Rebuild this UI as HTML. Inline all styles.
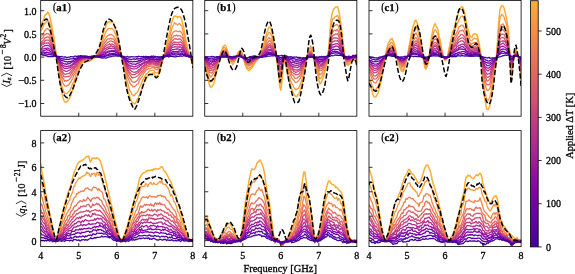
<!DOCTYPE html>
<html><head><meta charset="utf-8"><style>
html,body{margin:0;padding:0;background:#fff;width:575px;height:274px;overflow:hidden}
svg{display:block;transform:translateZ(0)} text{stroke:#000;stroke-width:0.3px}
</style></head><body>
<svg width="575" height="274" viewBox="0 0 575 274">
<defs>
<clipPath id="cpa1"><rect x="40.70" y="0.40" width="152.15" height="115.80"/></clipPath>
<clipPath id="cpa2"><rect x="40.70" y="130.60" width="152.15" height="116.00"/></clipPath>
<clipPath id="cpb1"><rect x="204.75" y="0.40" width="152.10" height="115.80"/></clipPath>
<clipPath id="cpb2"><rect x="204.75" y="130.60" width="152.10" height="116.00"/></clipPath>
<clipPath id="cpc1"><rect x="369.00" y="0.40" width="152.10" height="115.80"/></clipPath>
<clipPath id="cpc2"><rect x="369.00" y="130.60" width="152.10" height="116.00"/></clipPath>
<linearGradient id="cbg" x1="0" y1="1" x2="0" y2="0">
<stop offset="0.000" stop-color="#41049d"/>
<stop offset="0.050" stop-color="#5002a2"/>
<stop offset="0.100" stop-color="#6001a6"/>
<stop offset="0.150" stop-color="#6e00a8"/>
<stop offset="0.200" stop-color="#7b02a8"/>
<stop offset="0.250" stop-color="#8808a6"/>
<stop offset="0.300" stop-color="#9511a1"/>
<stop offset="0.350" stop-color="#a21d9a"/>
<stop offset="0.400" stop-color="#ad2793"/>
<stop offset="0.450" stop-color="#b7318a"/>
<stop offset="0.500" stop-color="#c13b82"/>
<stop offset="0.550" stop-color="#ca457a"/>
<stop offset="0.600" stop-color="#d35171"/>
<stop offset="0.650" stop-color="#da5b69"/>
<stop offset="0.700" stop-color="#e26561"/>
<stop offset="0.750" stop-color="#e87059"/>
<stop offset="0.800" stop-color="#ef7c51"/>
<stop offset="0.850" stop-color="#f48849"/>
<stop offset="0.900" stop-color="#f89441"/>
<stop offset="0.950" stop-color="#fba139"/>
<stop offset="1.000" stop-color="#fdae32"/>
</linearGradient>
</defs>
<g clip-path="url(#cpa1)" fill="none" stroke-linejoin="round" stroke-linecap="round">
<path d="M40.7 25.3L41.7 24.1L42.7 21.9L43.7 19.4L44.7 15.8L45.7 14.5L46.7 14.1L47.7 12.1L48.7 13.0L49.7 16.4L50.7 20.5L51.7 25.4L52.7 31.9L53.7 36.5L54.7 44.1L55.7 50.9L56.7 57.6L57.7 65.2L58.7 72.1L59.7 78.8L60.7 85.6L61.7 91.7L62.7 96.4L63.7 100.0L64.7 101.9L65.7 102.0L66.7 102.0L67.7 100.7L68.7 99.4L69.7 98.3L70.7 95.7L71.7 92.6L72.7 89.7L73.7 87.1L74.7 82.9L75.7 81.1L76.7 78.0L77.7 73.8L78.7 71.2L79.7 67.9L80.7 66.3L81.7 63.4L82.7 62.4L83.7 62.1L84.7 61.7L85.7 59.9L86.7 60.3L87.7 60.6L88.7 60.2L89.7 61.2L90.7 59.8L91.7 59.8L92.7 58.4L93.7 58.6L94.7 57.2L95.7 56.1L96.7 54.3L97.7 54.1L98.7 51.0L99.7 47.3L100.7 43.6L101.7 39.6L102.7 35.3L103.7 31.7L104.7 28.7L105.7 26.9L106.7 23.5L107.7 22.6L108.7 21.8L109.7 21.6L110.7 21.9L111.7 21.6L112.7 22.0L113.7 23.9L114.7 26.8L115.7 29.9L116.7 33.0L117.7 36.9L118.7 41.8L119.7 46.1L120.7 51.4L121.7 55.7L122.7 60.9L123.7 65.6L124.7 71.1L125.7 77.5L126.7 85.4L127.7 90.0L128.7 94.2L129.7 96.2L130.7 99.4L131.7 101.5L132.7 103.6L133.7 103.0L134.7 104.0L135.7 102.9L136.7 100.5L137.7 99.0L138.7 96.7L139.7 94.2L140.7 91.6L141.7 89.6L142.7 86.1L143.7 83.8L144.7 81.1L145.7 79.6L146.7 77.4L147.7 76.3L148.7 74.6L149.7 74.6L150.7 73.9L151.7 74.1L152.7 72.9L153.7 73.0L154.7 74.9L155.7 76.2L156.7 76.3L157.7 76.1L158.7 74.4L159.7 72.0L160.7 67.7L161.7 63.9L162.7 60.1L163.7 56.5L164.7 53.4L165.7 49.1L166.7 44.1L167.7 39.4L168.7 35.8L169.7 32.4L170.7 26.4L171.7 22.4L172.7 19.4L173.7 16.9L174.7 16.2L175.7 16.1L176.7 16.5L177.7 17.6L178.7 16.6L179.7 16.4L180.7 17.8L181.7 19.7L182.7 23.7L183.7 27.0L184.7 33.8L185.7 39.2L186.7 44.6L187.7 49.2L188.7 52.6L189.7 55.7L190.7 58.2L191.7 61.9L192.7 64.4L192.8 64.9" stroke="#fdae32" stroke-width="1.5"/>
<path d="M40.7 30.9L41.7 29.3L42.7 28.1L43.7 24.8L44.7 23.5L45.7 22.2L46.7 21.9L47.7 20.5L48.7 20.8L49.7 23.6L50.7 26.8L51.7 31.1L52.7 36.3L53.7 41.2L54.7 46.0L55.7 52.0L56.7 58.0L57.7 62.8L58.7 69.0L59.7 74.5L60.7 81.1L61.7 85.9L62.7 88.5L63.7 91.7L64.7 93.4L65.7 93.4L66.7 93.7L67.7 92.7L68.7 91.4L69.7 90.6L70.7 88.5L71.7 86.3L72.7 83.5L73.7 81.8L74.7 79.2L75.7 75.9L76.7 73.6L77.7 71.1L78.7 68.2L79.7 66.7L80.7 64.2L81.7 62.4L82.7 61.3L83.7 60.8L84.7 61.3L85.7 60.0L86.7 60.0L87.7 60.1L88.7 59.9L89.7 60.8L90.7 59.6L91.7 59.5L92.7 58.5L93.7 58.0L94.7 56.6L95.7 56.9L96.7 55.2L97.7 54.0L98.7 51.4L99.7 48.5L100.7 46.0L101.7 43.2L102.7 40.0L103.7 37.2L104.7 34.7L105.7 32.1L106.7 30.6L107.7 29.4L108.7 28.4L109.7 28.3L110.7 28.6L111.7 28.5L112.7 28.8L113.7 30.1L114.7 32.6L115.7 34.4L116.7 37.2L117.7 40.6L118.7 44.9L119.7 47.5L120.7 52.3L121.7 56.7L122.7 59.9L123.7 64.7L124.7 68.6L125.7 73.5L126.7 79.5L127.7 82.9L128.7 86.7L129.7 90.5L130.7 91.5L131.7 94.3L132.7 95.0L133.7 95.9L134.7 95.1L135.7 93.3L136.7 92.9L137.7 91.8L138.7 89.3L139.7 87.0L140.7 85.3L141.7 82.8L142.7 80.2L143.7 78.4L144.7 77.0L145.7 74.7L146.7 73.7L147.7 72.9L148.7 71.8L149.7 71.0L150.7 70.6L151.7 70.5L152.7 70.1L153.7 70.4L154.7 72.1L155.7 72.5L156.7 73.2L157.7 72.9L158.7 71.0L159.7 68.0L160.7 65.3L161.7 62.7L162.7 59.6L163.7 56.7L164.7 54.2L165.7 50.2L166.7 47.6L167.7 42.9L168.7 39.4L169.7 37.2L170.7 32.6L171.7 28.6L172.7 26.6L173.7 24.2L174.7 22.6L175.7 24.1L176.7 23.8L177.7 25.0L178.7 23.8L179.7 23.4L180.7 25.3L181.7 25.9L182.7 29.2L183.7 33.7L184.7 37.7L185.7 42.5L186.7 46.8L187.7 50.6L188.7 52.7L189.7 55.7L190.7 58.2L191.7 61.4L192.7 63.0L192.8 63.2" stroke="#f9983e" stroke-width="1.3"/>
<path d="M40.7 36.4L41.7 36.0L42.7 34.3L43.7 32.7L44.7 30.9L45.7 29.8L46.7 28.6L47.7 28.7L48.7 29.4L49.7 31.0L50.7 33.9L51.7 36.8L52.7 40.8L53.7 44.4L54.7 49.0L55.7 53.4L56.7 57.6L57.7 61.6L58.7 66.3L59.7 71.4L60.7 75.5L61.7 78.7L62.7 82.5L63.7 84.5L64.7 85.8L65.7 86.1L66.7 86.0L67.7 85.3L68.7 84.8L69.7 83.2L70.7 82.3L71.7 80.0L72.7 78.9L73.7 75.5L74.7 74.4L75.7 72.4L76.7 69.9L77.7 68.1L78.7 66.1L79.7 64.1L80.7 62.3L81.7 61.4L82.7 60.9L83.7 60.4L84.7 59.7L85.7 59.4L86.7 59.3L87.7 59.6L88.7 58.9L89.7 58.8L90.7 59.1L91.7 58.2L92.7 57.8L93.7 57.5L94.7 57.1L95.7 55.9L96.7 55.9L97.7 54.0L98.7 53.1L99.7 50.2L100.7 48.0L101.7 46.4L102.7 43.6L103.7 41.3L104.7 39.6L105.7 38.2L106.7 36.5L107.7 35.7L108.7 35.4L109.7 34.5L110.7 34.5L111.7 34.7L112.7 35.6L113.7 36.2L114.7 37.8L115.7 39.3L116.7 41.4L117.7 44.4L118.7 46.9L119.7 50.3L120.7 53.4L121.7 56.1L122.7 59.4L123.7 62.5L124.7 66.4L125.7 70.9L126.7 74.4L127.7 77.7L128.7 79.6L129.7 82.7L130.7 84.2L131.7 85.2L132.7 86.9L133.7 86.4L134.7 86.5L135.7 85.9L136.7 84.6L137.7 84.2L138.7 82.7L139.7 80.1L140.7 78.3L141.7 77.4L142.7 75.5L143.7 73.4L144.7 72.2L145.7 70.9L146.7 69.7L147.7 69.2L148.7 68.7L149.7 68.9L150.7 68.5L151.7 67.8L152.7 67.4L153.7 67.8L154.7 68.8L155.7 68.8L156.7 69.9L157.7 69.6L158.7 68.7L159.7 66.1L160.7 64.2L161.7 61.8L162.7 60.0L163.7 57.2L164.7 54.6L165.7 51.9L166.7 48.7L167.7 45.8L168.7 43.4L169.7 41.4L170.7 38.5L171.7 34.9L172.7 33.0L173.7 31.5L174.7 31.3L175.7 30.7L176.7 31.1L177.7 31.7L178.7 31.6L179.7 31.2L180.7 31.7L181.7 32.8L182.7 35.5L183.7 38.9L184.7 42.1L185.7 45.9L186.7 49.3L187.7 51.6L188.7 53.9L189.7 55.9L190.7 58.0L191.7 59.9L192.7 61.5L192.8 62.7" stroke="#f2844b" stroke-width="1.3"/>
<path d="M40.7 38.5L41.7 38.6L42.7 38.0L43.7 36.0L44.7 34.8L45.7 34.4L46.7 33.6L47.7 33.3L48.7 34.0L49.7 35.4L50.7 37.6L51.7 40.0L52.7 43.6L53.7 46.5L54.7 50.2L55.7 54.6L56.7 57.3L57.7 60.5L58.7 64.7L59.7 68.9L60.7 72.8L61.7 75.9L62.7 77.8L63.7 79.4L64.7 81.2L65.7 80.7L66.7 81.1L67.7 80.3L68.7 80.1L69.7 79.1L70.7 77.8L71.7 76.3L72.7 74.3L73.7 73.1L74.7 71.3L75.7 69.7L76.7 68.3L77.7 66.0L78.7 64.0L79.7 62.4L80.7 61.3L81.7 60.8L82.7 59.5L83.7 59.6L84.7 59.1L85.7 58.8L86.7 58.3L87.7 58.8L88.7 59.0L89.7 58.2L90.7 59.0L91.7 58.8L92.7 57.9L93.7 57.5L94.7 57.7L95.7 56.9L96.7 55.6L97.7 55.1L98.7 53.7L99.7 51.8L100.7 49.2L101.7 48.3L102.7 45.9L103.7 44.3L104.7 42.7L105.7 41.5L106.7 39.9L107.7 39.0L108.7 38.9L109.7 38.8L110.7 38.2L111.7 38.9L112.7 38.8L113.7 39.1L114.7 41.1L115.7 42.0L116.7 44.4L117.7 46.1L118.7 48.9L119.7 50.8L120.7 53.5L121.7 56.8L122.7 59.1L123.7 61.6L124.7 64.2L125.7 68.0L126.7 71.1L127.7 73.9L128.7 76.5L129.7 78.1L130.7 79.5L131.7 80.9L132.7 81.8L133.7 82.1L134.7 82.4L135.7 81.6L136.7 81.0L137.7 79.6L138.7 78.2L139.7 76.4L140.7 75.2L141.7 73.2L142.7 72.2L143.7 71.2L144.7 70.2L145.7 68.8L146.7 67.2L147.7 66.9L148.7 66.2L149.7 66.5L150.7 66.0L151.7 66.0L152.7 66.1L153.7 65.9L154.7 67.4L155.7 67.3L156.7 67.4L157.7 68.0L158.7 66.9L159.7 64.4L160.7 62.9L161.7 60.5L162.7 58.9L163.7 57.4L164.7 54.9L165.7 52.4L166.7 49.6L167.7 47.6L168.7 45.9L169.7 44.1L170.7 41.1L171.7 38.3L172.7 37.6L173.7 36.0L174.7 35.5L175.7 35.8L176.7 35.0L177.7 36.0L178.7 35.7L179.7 35.6L180.7 36.5L181.7 37.2L182.7 38.3L183.7 41.3L184.7 44.5L185.7 47.6L186.7 49.9L187.7 52.1L188.7 54.6L189.7 56.2L190.7 57.7L191.7 58.8L192.7 61.7L192.8 60.4" stroke="#e87059" stroke-width="1.3"/>
<path d="M40.7 42.6L41.7 41.5L42.7 40.7L43.7 39.9L44.7 38.0L45.7 37.8L46.7 37.1L47.7 36.9L48.7 37.0L49.7 38.7L50.7 40.6L51.7 43.1L52.7 46.4L53.7 48.6L54.7 51.4L55.7 54.5L56.7 57.5L57.7 60.3L58.7 62.9L59.7 66.7L60.7 70.3L61.7 72.5L62.7 74.3L63.7 76.4L64.7 76.8L65.7 77.0L66.7 76.7L67.7 76.5L68.7 76.3L69.7 76.3L70.7 74.4L71.7 72.8L72.7 71.7L73.7 70.3L74.7 68.4L75.7 67.4L76.7 66.1L77.7 64.4L78.7 62.9L79.7 61.0L80.7 59.8L81.7 60.0L82.7 59.4L83.7 58.2L84.7 58.6L85.7 58.5L86.7 58.7L87.7 58.6L88.7 58.5L89.7 58.7L90.7 58.5L91.7 58.1L92.7 57.1L93.7 56.3L94.7 56.5L95.7 55.8L96.7 55.9L97.7 55.5L98.7 54.2L99.7 52.6L100.7 51.2L101.7 50.1L102.7 48.0L103.7 47.0L104.7 45.7L105.7 44.3L106.7 43.5L107.7 42.1L108.7 42.1L109.7 41.2L110.7 41.1L111.7 41.1L112.7 41.8L113.7 41.8L114.7 43.2L115.7 44.3L116.7 46.6L117.7 48.7L118.7 50.3L119.7 52.8L120.7 54.6L121.7 57.3L122.7 58.8L123.7 60.4L124.7 63.7L125.7 66.1L126.7 68.9L127.7 71.3L128.7 72.8L129.7 74.8L130.7 75.6L131.7 77.4L132.7 77.9L133.7 77.5L134.7 77.3L135.7 77.1L136.7 76.1L137.7 75.9L138.7 74.8L139.7 73.4L140.7 72.2L141.7 71.3L142.7 70.4L143.7 69.3L144.7 67.7L145.7 67.0L146.7 65.7L147.7 65.4L148.7 64.7L149.7 65.0L150.7 64.2L151.7 64.0L152.7 63.9L153.7 64.4L154.7 64.6L155.7 65.4L156.7 65.9L157.7 66.0L158.7 64.7L159.7 63.6L160.7 62.0L161.7 61.0L162.7 59.1L163.7 56.9L164.7 54.9L165.7 53.6L166.7 51.8L167.7 49.3L168.7 47.9L169.7 46.0L170.7 43.3L171.7 42.0L172.7 40.4L173.7 39.6L174.7 38.6L175.7 39.2L176.7 39.0L177.7 39.7L178.7 39.0L179.7 38.8L180.7 39.3L181.7 40.6L182.7 41.8L183.7 43.7L184.7 46.1L185.7 48.7L186.7 51.7L187.7 52.7L188.7 54.5L189.7 56.3L190.7 57.9L191.7 58.9L192.7 60.7L192.8 60.9" stroke="#dd5e66" stroke-width="1.3"/>
<path d="M40.7 43.5L41.7 43.7L42.7 42.7L43.7 42.5L44.7 41.1L45.7 40.4L46.7 40.1L47.7 40.2L48.7 40.2L49.7 41.4L50.7 43.2L51.7 45.2L52.7 47.5L53.7 49.8L54.7 52.4L55.7 55.3L56.7 57.0L57.7 60.8L58.7 62.6L59.7 65.7L60.7 67.8L61.7 70.3L62.7 72.0L63.7 73.2L64.7 74.2L65.7 74.3L66.7 73.7L67.7 73.7L68.7 73.6L69.7 72.9L70.7 71.6L71.7 70.6L72.7 69.6L73.7 68.1L74.7 66.8L75.7 66.4L76.7 64.6L77.7 63.4L78.7 61.8L79.7 61.3L80.7 60.5L81.7 59.3L82.7 59.0L83.7 58.4L84.7 59.0L85.7 58.6L86.7 58.1L87.7 58.7L88.7 58.5L89.7 58.5L90.7 58.4L91.7 57.8L92.7 57.4L93.7 57.4L94.7 56.9L95.7 56.2L96.7 56.7L97.7 55.6L98.7 54.5L99.7 53.3L100.7 52.4L101.7 51.3L102.7 49.8L103.7 48.8L104.7 47.0L105.7 46.3L106.7 45.4L107.7 45.0L108.7 44.7L109.7 43.7L110.7 45.1L111.7 43.9L112.7 44.4L113.7 44.8L114.7 45.6L115.7 46.6L116.7 46.9L117.7 49.0L118.7 51.2L119.7 52.5L120.7 54.3L121.7 55.8L122.7 58.7L123.7 60.3L124.7 61.9L125.7 64.6L126.7 67.3L127.7 69.0L128.7 70.9L129.7 72.3L130.7 73.4L131.7 74.4L132.7 74.7L133.7 74.7L134.7 74.7L135.7 73.9L136.7 73.2L137.7 73.2L138.7 71.8L139.7 70.9L140.7 70.0L141.7 68.5L142.7 68.0L143.7 66.9L144.7 65.9L145.7 65.2L146.7 64.2L147.7 63.3L148.7 63.7L149.7 63.4L150.7 63.8L151.7 63.4L152.7 62.8L153.7 63.3L154.7 64.4L155.7 64.8L156.7 64.7L157.7 64.8L158.7 63.7L159.7 62.5L160.7 61.5L161.7 59.9L162.7 58.6L163.7 56.8L164.7 55.1L165.7 53.4L166.7 52.0L167.7 50.7L168.7 49.3L169.7 47.4L170.7 45.3L171.7 44.4L172.7 43.1L173.7 41.8L174.7 42.3L175.7 42.1L176.7 42.6L177.7 42.5L178.7 42.4L179.7 42.1L180.7 42.0L181.7 42.9L182.7 44.0L183.7 46.2L184.7 47.7L185.7 49.7L186.7 52.3L187.7 54.0L188.7 55.3L189.7 56.4L190.7 56.7L191.7 58.2L192.7 59.5L192.8 59.9" stroke="#d04d73" stroke-width="1.3"/>
<path d="M40.7 46.0L41.7 44.9L42.7 44.5L43.7 44.1L44.7 43.1L45.7 43.2L46.7 43.0L47.7 42.9L48.7 42.8L49.7 44.3L50.7 46.0L51.7 46.9L52.7 49.5L53.7 51.3L54.7 53.0L55.7 55.2L56.7 57.1L57.7 59.3L58.7 61.8L59.7 64.2L60.7 66.5L61.7 68.2L62.7 69.7L63.7 70.3L64.7 70.8L65.7 71.4L66.7 71.4L67.7 71.1L68.7 70.3L69.7 70.1L70.7 69.0L71.7 68.6L72.7 67.3L73.7 66.6L74.7 65.6L75.7 64.4L76.7 63.7L77.7 61.8L78.7 60.4L79.7 60.2L80.7 59.6L81.7 59.1L82.7 58.4L83.7 58.2L84.7 58.0L85.7 57.6L86.7 57.8L87.7 58.2L88.7 57.9L89.7 58.6L90.7 57.5L91.7 57.6L92.7 57.6L93.7 56.8L94.7 56.3L95.7 55.9L96.7 55.8L97.7 56.0L98.7 54.9L99.7 54.0L100.7 52.7L101.7 52.1L102.7 50.9L103.7 49.6L104.7 48.9L105.7 48.3L106.7 47.9L107.7 47.1L108.7 46.9L109.7 47.0L110.7 46.1L111.7 46.0L112.7 46.6L113.7 46.7L114.7 47.2L115.7 48.2L116.7 49.0L117.7 50.5L118.7 51.7L119.7 53.5L120.7 54.6L121.7 56.3L122.7 58.1L123.7 59.5L124.7 61.5L125.7 63.5L126.7 65.6L127.7 67.4L128.7 68.6L129.7 69.5L130.7 70.4L131.7 71.2L132.7 71.9L133.7 72.2L134.7 72.3L135.7 71.8L136.7 71.7L137.7 70.9L138.7 69.7L139.7 69.3L140.7 68.2L141.7 66.8L142.7 66.2L143.7 65.5L144.7 64.4L145.7 64.0L146.7 63.2L147.7 62.8L148.7 62.4L149.7 62.5L150.7 62.2L151.7 62.3L152.7 61.4L153.7 62.2L154.7 63.2L155.7 63.3L156.7 63.4L157.7 63.6L158.7 62.5L159.7 61.5L160.7 60.6L161.7 59.4L162.7 58.5L163.7 56.8L164.7 56.0L165.7 53.8L166.7 52.5L167.7 51.2L168.7 50.4L169.7 48.9L170.7 46.9L171.7 46.3L172.7 45.2L173.7 44.3L174.7 44.1L175.7 44.3L176.7 44.6L177.7 44.9L178.7 44.1L179.7 45.0L180.7 44.6L181.7 45.1L182.7 46.4L183.7 47.8L184.7 50.2L185.7 51.7L186.7 52.9L187.7 54.3L188.7 55.3L189.7 56.4L190.7 57.6L191.7 58.3L192.7 60.0L192.8 59.7" stroke="#c13b82" stroke-width="1.3"/>
<path d="M40.7 48.6L41.7 48.2L42.7 46.7L43.7 46.7L44.7 45.6L45.7 45.3L46.7 45.7L47.7 45.1L48.7 45.5L49.7 46.7L50.7 47.3L51.7 48.6L52.7 50.5L53.7 52.3L54.7 53.6L55.7 54.9L56.7 56.9L57.7 58.8L58.7 61.1L59.7 62.6L60.7 64.4L61.7 66.0L62.7 66.8L63.7 67.9L64.7 68.5L65.7 68.2L66.7 68.4L67.7 68.4L68.7 67.8L69.7 67.8L70.7 67.1L71.7 66.4L72.7 65.1L73.7 64.5L74.7 63.9L75.7 62.8L76.7 61.5L77.7 60.8L78.7 60.3L79.7 59.1L80.7 58.7L81.7 58.9L82.7 57.9L83.7 57.8L84.7 57.5L85.7 57.7L86.7 58.3L87.7 58.0L88.7 57.7L89.7 57.8L90.7 57.9L91.7 57.9L92.7 57.2L93.7 57.3L94.7 56.7L95.7 56.7L96.7 56.4L97.7 56.2L98.7 55.4L99.7 54.8L100.7 54.2L101.7 53.0L102.7 52.6L103.7 51.9L104.7 51.4L105.7 50.3L106.7 49.6L107.7 49.2L108.7 48.6L109.7 48.4L110.7 48.4L111.7 48.3L112.7 48.0L113.7 48.4L114.7 48.5L115.7 50.1L116.7 50.7L117.7 52.0L118.7 52.8L119.7 54.3L120.7 55.7L121.7 57.1L122.7 57.7L123.7 59.5L124.7 60.6L125.7 62.2L126.7 64.3L127.7 65.4L128.7 66.6L129.7 67.3L130.7 68.2L131.7 68.7L132.7 69.0L133.7 68.9L134.7 68.8L135.7 68.7L136.7 68.5L137.7 67.6L138.7 67.3L139.7 66.2L140.7 65.2L141.7 65.0L142.7 63.9L143.7 63.7L144.7 63.2L145.7 62.3L146.7 61.9L147.7 62.3L148.7 61.5L149.7 61.4L150.7 61.4L151.7 61.0L152.7 60.8L153.7 61.1L154.7 60.9L155.7 62.3L156.7 61.9L157.7 62.0L158.7 61.9L159.7 60.9L160.7 59.8L161.7 59.2L162.7 57.9L163.7 57.1L164.7 55.8L165.7 54.7L166.7 53.8L167.7 52.4L168.7 51.5L169.7 50.8L170.7 49.2L171.7 47.9L172.7 47.2L173.7 47.2L174.7 46.6L175.7 46.8L176.7 46.8L177.7 47.0L178.7 47.0L179.7 46.8L180.7 47.0L181.7 47.3L182.7 48.1L183.7 49.7L184.7 51.2L185.7 52.8L186.7 53.9L187.7 54.8L188.7 56.0L189.7 56.8L190.7 57.0L191.7 58.5L192.7 59.3L192.8 59.7" stroke="#b12a90" stroke-width="1.3"/>
<path d="M40.7 49.4L41.7 49.3L42.7 48.8L43.7 48.8L44.7 48.7L45.7 48.4L46.7 48.3L47.7 47.9L48.7 48.5L49.7 48.9L50.7 49.3L51.7 50.3L52.7 51.8L53.7 52.8L54.7 54.6L55.7 55.7L56.7 56.8L57.7 58.3L58.7 60.2L59.7 61.0L60.7 63.0L61.7 64.1L62.7 65.4L63.7 65.8L64.7 66.0L65.7 66.4L66.7 66.3L67.7 66.4L68.7 66.0L69.7 66.2L70.7 65.2L71.7 64.8L72.7 63.9L73.7 63.4L74.7 62.7L75.7 62.0L76.7 61.4L77.7 60.2L78.7 59.3L79.7 59.1L80.7 58.2L81.7 57.8L82.7 58.0L83.7 57.8L84.7 56.9L85.7 57.6L86.7 58.0L87.7 58.1L88.7 57.8L89.7 58.3L90.7 57.6L91.7 57.5L92.7 57.3L93.7 57.0L94.7 57.0L95.7 56.8L96.7 56.3L97.7 56.5L98.7 55.6L99.7 55.2L100.7 55.2L101.7 54.3L102.7 54.0L103.7 53.1L104.7 52.7L105.7 52.2L106.7 51.8L107.7 51.3L108.7 51.0L109.7 50.9L110.7 50.9L111.7 50.5L112.7 50.6L113.7 50.7L114.7 50.6L115.7 51.0L116.7 52.5L117.7 53.2L118.7 53.9L119.7 54.9L120.7 55.6L121.7 56.6L122.7 58.1L123.7 58.6L124.7 60.3L125.7 61.2L126.7 62.9L127.7 64.3L128.7 65.1L129.7 65.2L130.7 66.1L131.7 66.0L132.7 66.4L133.7 66.8L134.7 66.9L135.7 66.2L136.7 66.2L137.7 65.8L138.7 65.0L139.7 64.7L140.7 64.6L141.7 63.6L142.7 63.2L143.7 62.8L144.7 61.8L145.7 61.9L146.7 61.5L147.7 61.2L148.7 60.9L149.7 60.3L150.7 60.1L151.7 59.9L152.7 59.8L153.7 60.0L154.7 61.0L155.7 61.4L156.7 61.1L157.7 61.6L158.7 60.7L159.7 60.4L160.7 59.5L161.7 58.6L162.7 58.2L163.7 57.4L164.7 56.4L165.7 55.3L166.7 54.2L167.7 53.4L168.7 52.5L169.7 52.1L170.7 50.7L171.7 50.2L172.7 49.7L173.7 49.6L174.7 49.4L175.7 49.2L176.7 49.0L177.7 48.8L178.7 49.2L179.7 49.4L180.7 49.6L181.7 48.9L182.7 50.0L183.7 51.0L184.7 52.0L185.7 53.5L186.7 54.5L187.7 55.2L188.7 56.1L189.7 56.3L190.7 57.1L191.7 57.7L192.7 58.9L192.8 58.3" stroke="#9e199d" stroke-width="1.3"/>
<path d="M40.7 51.0L41.7 51.2L42.7 51.0L43.7 50.7L44.7 50.3L45.7 50.0L46.7 49.7L47.7 50.1L48.7 50.2L49.7 50.7L50.7 51.7L51.7 52.0L52.7 52.9L53.7 53.2L54.7 54.8L55.7 55.8L56.7 56.7L57.7 58.1L58.7 58.8L59.7 60.1L60.7 61.8L61.7 62.4L62.7 63.2L63.7 63.7L64.7 64.0L65.7 63.9L66.7 64.4L67.7 63.7L68.7 63.8L69.7 63.3L70.7 62.9L71.7 62.0L72.7 61.6L73.7 62.0L74.7 61.4L75.7 60.3L76.7 59.8L77.7 59.3L78.7 58.3L79.7 58.4L80.7 57.3L81.7 57.1L82.7 56.5L83.7 57.5L84.7 57.2L85.7 57.6L86.7 57.1L87.7 57.5L88.7 57.5L89.7 57.5L90.7 57.9L91.7 57.8L92.7 57.4L93.7 56.8L94.7 56.9L95.7 56.9L96.7 56.6L97.7 56.5L98.7 56.3L99.7 55.6L100.7 55.5L101.7 55.5L102.7 54.5L103.7 54.4L104.7 54.2L105.7 53.2L106.7 53.0L107.7 52.2L108.7 52.2L109.7 51.7L110.7 51.6L111.7 51.5L112.7 51.5L113.7 51.6L114.7 51.3L115.7 52.8L116.7 52.8L117.7 53.3L118.7 54.2L119.7 55.1L120.7 55.6L121.7 56.6L122.7 57.3L123.7 58.3L124.7 58.8L125.7 60.2L126.7 61.2L127.7 61.9L128.7 62.9L129.7 63.1L130.7 63.2L131.7 63.9L132.7 64.1L133.7 64.1L134.7 64.1L135.7 64.5L136.7 63.7L137.7 63.5L138.7 62.9L139.7 62.8L140.7 62.0L141.7 61.4L142.7 60.8L143.7 60.8L144.7 60.5L145.7 59.6L146.7 59.6L147.7 59.8L148.7 59.8L149.7 59.2L150.7 59.5L151.7 59.7L152.7 59.3L153.7 59.4L154.7 59.7L155.7 59.7L156.7 60.1L157.7 60.2L158.7 59.4L159.7 59.3L160.7 59.1L161.7 58.3L162.7 58.0L163.7 57.1L164.7 57.0L165.7 55.7L166.7 55.7L167.7 54.4L168.7 53.8L169.7 53.3L170.7 52.7L171.7 52.1L172.7 51.6L173.7 51.4L174.7 51.6L175.7 51.7L176.7 51.4L177.7 51.8L178.7 51.1L179.7 50.9L180.7 51.0L181.7 51.6L182.7 51.5L183.7 52.2L184.7 53.7L185.7 54.7L186.7 55.3L187.7 55.3L188.7 56.2L189.7 57.0L190.7 57.3L191.7 57.4L192.7 58.3L192.8 58.1" stroke="#8808a6" stroke-width="1.3"/>
<path d="M40.7 52.5L41.7 52.5L42.7 52.2L43.7 52.0L44.7 52.4L45.7 52.6L46.7 52.1L47.7 52.4L48.7 52.6L49.7 52.8L50.7 53.1L51.7 53.7L52.7 53.8L53.7 54.8L54.7 55.3L55.7 56.5L56.7 56.9L57.7 57.2L58.7 58.0L59.7 59.2L60.7 59.9L61.7 60.3L62.7 60.8L63.7 60.9L64.7 61.5L65.7 61.7L66.7 61.6L67.7 62.2L68.7 61.4L69.7 61.7L70.7 61.5L71.7 61.2L72.7 61.2L73.7 60.0L74.7 59.7L75.7 59.4L76.7 59.0L77.7 58.3L78.7 57.8L79.7 57.8L80.7 57.0L81.7 57.0L82.7 57.4L83.7 57.5L84.7 57.3L85.7 57.0L86.7 57.1L87.7 57.2L88.7 57.2L89.7 57.3L90.7 57.6L91.7 57.2L92.7 56.7L93.7 56.5L94.7 56.3L95.7 56.8L96.7 55.9L97.7 56.5L98.7 56.0L99.7 56.0L100.7 55.8L101.7 56.3L102.7 55.9L103.7 56.4L104.7 55.3L105.7 54.9L106.7 55.0L107.7 54.6L108.7 54.1L109.7 53.4L110.7 54.0L111.7 53.7L112.7 53.6L113.7 53.4L114.7 54.0L115.7 54.0L116.7 54.6L117.7 55.0L118.7 55.8L119.7 55.9L120.7 56.4L121.7 57.2L122.7 57.4L123.7 57.8L124.7 58.3L125.7 59.3L126.7 59.6L127.7 60.4L128.7 61.3L129.7 61.3L130.7 61.3L131.7 61.5L132.7 62.0L133.7 61.7L134.7 61.5L135.7 61.6L136.7 61.3L137.7 61.5L138.7 60.6L139.7 61.0L140.7 60.0L141.7 59.9L142.7 59.7L143.7 59.2L144.7 59.1L145.7 58.5L146.7 58.0L147.7 58.5L148.7 58.2L149.7 58.6L150.7 59.1L151.7 58.8L152.7 58.8L153.7 58.8L154.7 59.2L155.7 59.4L156.7 59.1L157.7 59.5L158.7 58.9L159.7 58.8L160.7 58.2L161.7 58.1L162.7 57.6L163.7 57.0L164.7 56.5L165.7 56.1L166.7 55.8L167.7 55.2L168.7 54.7L169.7 54.4L170.7 54.2L171.7 53.1L172.7 53.4L173.7 52.9L174.7 53.4L175.7 53.0L176.7 53.1L177.7 52.9L178.7 53.0L179.7 53.1L180.7 53.3L181.7 52.8L182.7 53.3L183.7 54.8L184.7 54.6L185.7 55.0L186.7 55.7L187.7 55.4L188.7 56.8L189.7 56.8L190.7 56.8L191.7 57.8L192.7 57.7L192.8 57.7" stroke="#7201a8" stroke-width="1.3"/>
<path d="M40.7 53.7L41.7 53.5L42.7 54.1L43.7 53.9L44.7 53.6L45.7 54.1L46.7 54.2L47.7 54.6L48.7 54.1L49.7 54.7L50.7 54.6L51.7 55.0L52.7 55.1L53.7 55.4L54.7 55.8L55.7 55.7L56.7 55.9L57.7 56.8L58.7 57.1L59.7 57.7L60.7 58.3L61.7 58.5L62.7 59.1L63.7 59.0L64.7 59.2L65.7 59.5L66.7 59.4L67.7 59.3L68.7 59.3L69.7 59.0L70.7 58.9L71.7 58.9L72.7 58.9L73.7 58.3L74.7 58.3L75.7 58.3L76.7 58.0L77.7 57.1L78.7 57.0L79.7 56.6L80.7 56.5L81.7 56.4L82.7 56.3L83.7 56.4L84.7 56.4L85.7 56.4L86.7 56.6L87.7 56.7L88.7 57.0L89.7 56.7L90.7 56.8L91.7 56.8L92.7 56.1L93.7 56.1L94.7 56.2L95.7 56.0L96.7 55.8L97.7 56.3L98.7 56.2L99.7 56.0L100.7 56.8L101.7 56.2L102.7 56.5L103.7 56.3L104.7 56.5L105.7 56.4L106.7 55.8L107.7 55.7L108.7 55.4L109.7 54.9L110.7 55.2L111.7 54.7L112.7 54.5L113.7 54.3L114.7 54.4L115.7 54.7L116.7 54.7L117.7 55.4L118.7 54.8L119.7 55.3L120.7 56.1L121.7 56.0L122.7 56.8L123.7 57.0L124.7 57.6L125.7 57.9L126.7 58.5L127.7 58.7L128.7 59.1L129.7 59.1L130.7 59.3L131.7 59.3L132.7 59.2L133.7 59.0L134.7 59.0L135.7 59.4L136.7 58.6L137.7 59.1L138.7 58.7L139.7 58.9L140.7 58.5L141.7 58.1L142.7 58.1L143.7 57.4L144.7 57.8L145.7 57.8L146.7 57.1L147.7 57.7L148.7 57.5L149.7 57.5L150.7 57.2L151.7 57.7L152.7 57.6L153.7 57.5L154.7 57.5L155.7 57.9L156.7 58.1L157.7 57.9L158.7 57.9L159.7 57.3L160.7 57.3L161.7 57.2L162.7 56.9L163.7 57.3L164.7 56.5L165.7 56.0L166.7 56.1L167.7 55.4L168.7 55.5L169.7 55.5L170.7 55.0L171.7 54.8L172.7 54.6L173.7 54.8L174.7 54.6L175.7 55.1L176.7 54.8L177.7 54.6L178.7 54.2L179.7 54.8L180.7 54.6L181.7 54.4L182.7 54.4L183.7 54.6L184.7 54.7L185.7 55.6L186.7 55.5L187.7 55.4L188.7 55.8L189.7 55.6L190.7 56.6L191.7 56.9L192.7 57.4L192.8 57.5" stroke="#5901a5" stroke-width="1.3"/>
<path d="M40.7 54.6L41.7 54.7L42.7 55.2L43.7 55.1L44.7 55.6L45.7 55.7L46.7 55.9L47.7 56.5L48.7 56.4L49.7 56.6L50.7 56.4L51.7 56.7L52.7 56.6L53.7 56.4L54.7 56.0L55.7 56.6L56.7 56.5L57.7 56.5L58.7 56.5L59.7 56.6L60.7 56.7L61.7 56.5L62.7 56.9L63.7 57.1L64.7 57.0L65.7 57.0L66.7 57.6L67.7 57.4L68.7 57.2L69.7 57.1L70.7 56.6L71.7 56.7L72.7 56.9L73.7 57.0L74.7 56.1L75.7 56.2L76.7 56.6L77.7 56.1L78.7 55.9L79.7 56.1L80.7 55.7L81.7 55.8L82.7 56.1L83.7 56.2L84.7 55.9L85.7 56.6L86.7 56.0L87.7 56.3L88.7 57.2L89.7 56.4L90.7 56.6L91.7 56.2L92.7 56.4L93.7 56.3L94.7 56.4L95.7 56.7L96.7 57.0L97.7 57.0L98.7 57.4L99.7 57.1L100.7 57.8L101.7 57.7L102.7 58.1L103.7 57.8L104.7 57.8L105.7 58.1L106.7 57.8L107.7 57.4L108.7 57.0L109.7 56.8L110.7 56.7L111.7 56.5L112.7 56.0L113.7 55.9L114.7 56.0L115.7 55.7L116.7 56.2L117.7 56.0L118.7 56.1L119.7 55.7L120.7 56.0L121.7 56.2L122.7 56.4L123.7 56.4L124.7 56.8L125.7 56.8L126.7 56.8L127.7 56.4L128.7 57.2L129.7 56.8L130.7 57.0L131.7 56.7L132.7 56.8L133.7 56.9L134.7 56.8L135.7 56.9L136.7 56.6L137.7 57.1L138.7 56.2L139.7 56.5L140.7 56.9L141.7 56.6L142.7 56.6L143.7 56.3L144.7 57.0L145.7 56.3L146.7 56.8L147.7 56.6L148.7 56.7L149.7 56.8L150.7 56.3L151.7 56.2L152.7 56.3L153.7 56.0L154.7 56.7L155.7 56.5L156.7 56.8L157.7 56.6L158.7 56.9L159.7 56.8L160.7 56.9L161.7 56.6L162.7 57.1L163.7 56.6L164.7 56.1L165.7 56.7L166.7 56.4L167.7 56.2L168.7 57.0L169.7 56.4L170.7 56.2L171.7 56.4L172.7 56.6L173.7 56.5L174.7 56.9L175.7 56.8L176.7 56.3L177.7 56.4L178.7 56.4L179.7 56.1L180.7 55.9L181.7 56.2L182.7 56.1L183.7 55.7L184.7 56.0L185.7 56.2L186.7 56.4L187.7 56.4L188.7 57.0L189.7 56.6L190.7 56.7L191.7 57.0L192.7 56.5L192.8 56.8" stroke="#41049d" stroke-width="1.3"/>
<path d="M40.7 27.5L41.7 25.5L42.7 23.6L43.7 21.7L44.7 20.1L45.7 19.2L46.7 18.9L47.7 20.6L48.7 23.7L49.7 27.1L50.7 31.4L51.7 35.9L52.7 41.0L53.7 46.2L54.7 51.5L55.7 55.5L56.7 60.8L57.7 68.3L58.7 75.1L59.7 81.4L60.7 86.6L61.7 90.1L62.7 92.8L63.7 94.5L64.7 95.8L65.7 96.8L66.7 97.5L67.7 97.7L68.7 97.0L69.7 95.5L70.7 93.5L71.7 91.5L72.7 89.3L73.7 86.6L74.7 83.6L75.7 80.6L76.7 77.9L77.7 75.3L78.7 72.6L79.7 70.1L80.7 68.0L81.7 66.1L82.7 64.3L83.7 63.0L84.7 62.2L85.7 61.7L86.7 61.3L87.7 60.8L88.7 60.3L89.7 59.7L90.7 59.0L91.7 58.3L92.7 57.5L93.7 56.5L94.7 55.3L95.7 53.8L96.7 52.2L97.7 50.4L98.7 48.4L99.7 45.9L100.7 42.3L101.7 37.3L102.7 32.1L103.7 28.4L104.7 25.1L105.7 22.5L106.7 20.9L107.7 19.9L108.7 19.3L109.7 19.3L110.7 19.8L111.7 20.7L112.7 22.0L113.7 24.2L114.7 26.3L115.7 28.2L116.7 31.0L117.7 35.4L118.7 40.5L119.7 46.2L120.7 52.4L121.7 58.3L122.7 63.8L123.7 69.6L124.7 76.6L125.7 83.8L126.7 89.0L127.7 93.4L128.7 97.0L129.7 100.0L130.7 102.5L131.7 104.7L132.7 106.7L133.7 108.9L134.7 109.3L135.7 107.8L136.7 105.6L137.7 103.2L138.7 100.2L139.7 96.9L140.7 93.7L141.7 90.2L142.7 86.8L143.7 83.8L144.7 81.0L145.7 78.4L146.7 76.7L147.7 75.7L148.7 74.9L149.7 74.5L150.7 74.5L151.7 74.5L152.7 74.6L153.7 75.0L154.7 76.3L155.7 77.5L156.7 77.7L157.7 76.8L158.7 75.3L159.7 71.5L160.7 66.9L161.7 63.1L162.7 59.0L163.7 53.6L164.7 47.3L165.7 41.7L166.7 36.4L167.7 31.4L168.7 26.6L169.7 21.6L170.7 17.2L171.7 13.9L172.7 11.6L173.7 9.6L174.7 8.4L175.7 7.9L176.7 7.5L177.7 7.2L178.7 7.3L179.7 7.9L180.7 8.9L181.7 10.2L182.7 12.5L183.7 15.9L184.7 19.7L185.7 24.2L186.7 29.7L187.7 35.5L188.7 41.2L189.7 46.9L190.7 53.0L191.7 59.6L192.7 66.9L192.8 68.0" stroke="#000" stroke-width="1.5" stroke-dasharray="5.2 2.2" stroke-linecap="butt"/>
</g>
<g clip-path="url(#cpb1)" fill="none" stroke-linejoin="round" stroke-linecap="round">
<path d="M204.8 64.5L205.8 69.1L206.8 74.8L207.8 79.0L208.8 82.5L209.8 86.0L210.8 87.2L211.8 86.9L212.8 85.1L213.8 83.3L214.8 79.5L215.8 75.2L216.8 71.2L217.8 66.2L218.8 61.8L219.8 57.5L220.8 52.6L221.8 50.3L222.8 47.2L223.8 45.9L224.8 45.2L225.8 45.9L226.8 49.1L227.8 51.6L228.8 55.6L229.8 59.3L230.8 61.0L231.8 62.9L232.8 64.6L233.8 62.9L234.8 61.2L235.8 58.9L236.8 56.7L237.8 52.5L238.8 51.5L239.8 50.8L240.8 50.6L241.8 52.1L242.8 54.6L243.8 59.0L244.8 62.8L245.8 66.5L246.8 68.5L247.8 69.7L248.8 70.7L249.8 69.8L250.8 68.9L251.8 68.1L252.8 66.7L253.8 64.6L254.8 62.8L255.8 61.4L256.8 60.6L257.8 59.1L258.8 57.7L259.8 56.6L260.8 52.9L261.8 49.3L262.8 45.9L263.8 43.4L264.8 39.1L265.8 36.2L266.8 32.4L267.8 30.2L268.8 27.2L269.8 27.5L270.8 28.3L271.8 31.8L272.8 36.8L273.8 42.0L274.8 45.9L275.8 52.5L276.8 59.6L277.8 68.4L278.8 77.0L279.8 86.9L280.8 90.2L281.8 82.7L282.8 70.4L283.8 62.9L284.8 63.0L285.8 63.7L286.8 69.5L287.8 75.4L288.8 78.4L289.8 83.1L290.8 86.1L291.8 88.9L292.8 91.8L293.8 94.1L294.8 95.5L295.8 96.4L296.8 96.7L297.8 94.7L298.8 94.0L299.8 91.9L300.8 88.6L301.8 84.6L302.8 79.8L303.8 75.8L304.8 69.6L305.8 63.7L306.8 58.7L307.8 53.3L308.8 49.6L309.8 47.6L310.8 46.0L311.8 49.2L312.8 54.6L313.8 59.0L314.8 64.3L315.8 67.9L316.8 71.2L317.8 75.7L318.8 79.7L319.8 83.8L320.8 83.4L321.8 81.4L322.8 78.8L323.8 75.5L324.8 72.3L325.8 68.0L326.8 62.2L327.8 56.6L328.8 47.3L329.8 35.6L330.8 21.3L331.8 15.3L332.8 10.8L333.8 9.0L334.8 8.0L335.8 6.9L336.8 6.9L337.8 7.1L338.8 10.9L339.8 16.5L340.8 23.2L341.8 31.2L342.8 40.2L343.8 48.2L344.8 56.9L345.8 62.2L346.8 64.4L347.8 65.4L348.8 64.6L349.8 63.9L350.8 61.7L351.8 60.3L352.8 59.9L353.8 60.5L354.8 60.1L355.8 60.3L356.8 60.3L356.9 61.1" stroke="#fdae32" stroke-width="1.5"/>
<path d="M204.8 63.0L205.8 67.2L206.8 71.5L207.8 74.4L208.8 78.2L209.8 81.2L210.8 81.9L211.8 81.2L212.8 79.7L213.8 78.9L214.8 75.4L215.8 71.8L216.8 68.3L217.8 64.2L218.8 60.7L219.8 56.9L220.8 53.2L221.8 51.2L222.8 49.5L223.8 47.3L224.8 47.9L225.8 48.7L226.8 49.8L227.8 52.9L228.8 56.5L229.8 59.3L230.8 61.4L231.8 61.4L232.8 61.9L233.8 61.5L234.8 60.8L235.8 58.4L236.8 56.4L237.8 54.5L238.8 52.9L239.8 51.3L240.8 52.2L241.8 53.0L242.8 55.4L243.8 59.4L244.8 61.8L245.8 65.5L246.8 66.3L247.8 68.2L248.8 68.6L249.8 67.3L250.8 67.1L251.8 66.3L252.8 64.6L253.8 64.1L254.8 62.6L255.8 60.7L256.8 59.9L257.8 59.3L258.8 57.7L259.8 55.5L260.8 54.0L261.8 50.5L262.8 48.4L263.8 45.9L264.8 43.0L265.8 38.9L266.8 36.6L267.8 34.5L268.8 32.7L269.8 32.7L270.8 34.2L271.8 36.4L272.8 40.1L273.8 44.7L274.8 48.9L275.8 52.2L276.8 59.7L277.8 66.1L278.8 73.9L279.8 80.9L280.8 84.1L281.8 77.2L282.8 68.2L283.8 61.8L284.8 61.7L285.8 62.8L286.8 67.4L287.8 71.0L288.8 74.7L289.8 78.0L290.8 81.4L291.8 83.5L292.8 85.0L293.8 87.3L294.8 88.5L295.8 89.8L296.8 89.1L297.8 88.7L298.8 88.0L299.8 85.4L300.8 83.0L301.8 80.0L302.8 75.9L303.8 72.2L304.8 67.6L305.8 62.9L306.8 59.0L307.8 54.2L308.8 50.8L309.8 48.9L310.8 48.2L311.8 50.8L312.8 54.7L313.8 59.9L314.8 62.4L315.8 65.5L316.8 67.4L317.8 71.6L318.8 76.0L319.8 78.5L320.8 78.3L321.8 76.8L322.8 74.6L323.8 73.0L324.8 70.3L325.8 65.4L326.8 62.3L327.8 56.4L328.8 48.7L329.8 40.0L330.8 28.8L331.8 22.5L332.8 18.7L333.8 18.3L334.8 16.8L335.8 16.5L336.8 15.9L337.8 15.7L338.8 18.3L339.8 23.1L340.8 29.6L341.8 36.6L342.8 42.4L343.8 50.2L344.8 57.5L345.8 60.4L346.8 63.8L347.8 63.9L348.8 63.5L349.8 61.9L350.8 61.2L351.8 59.1L352.8 59.7L353.8 58.8L354.8 59.2L355.8 59.0L356.8 60.0L356.9 59.4" stroke="#f9983e" stroke-width="1.3"/>
<path d="M204.8 61.8L205.8 65.5L206.8 68.9L207.8 70.9L208.8 73.6L209.8 76.1L210.8 77.0L211.8 76.0L212.8 74.5L213.8 72.7L214.8 71.9L215.8 68.4L216.8 66.1L217.8 63.1L218.8 61.1L219.8 57.1L220.8 54.4L221.8 52.8L222.8 51.4L223.8 50.5L224.8 49.7L225.8 49.9L226.8 51.3L227.8 54.2L228.8 56.2L229.8 59.1L230.8 59.5L231.8 61.1L232.8 60.9L233.8 60.3L234.8 60.3L235.8 58.3L236.8 56.1L237.8 55.0L238.8 53.2L239.8 52.7L240.8 53.0L241.8 54.6L242.8 56.2L243.8 59.0L244.8 61.6L245.8 63.5L246.8 64.8L247.8 65.0L248.8 66.0L249.8 65.6L250.8 64.8L251.8 64.7L252.8 62.7L253.8 62.4L254.8 60.7L255.8 59.8L256.8 59.2L257.8 59.1L258.8 57.3L259.8 55.9L260.8 53.9L261.8 53.1L262.8 50.5L263.8 48.3L264.8 46.7L265.8 43.5L266.8 40.4L267.8 39.2L268.8 37.6L269.8 38.5L270.8 38.4L271.8 40.8L272.8 43.3L273.8 46.7L274.8 50.1L275.8 53.6L276.8 58.0L277.8 63.6L278.8 69.6L279.8 75.6L280.8 77.9L281.8 73.1L282.8 65.2L283.8 60.5L284.8 60.5L285.8 62.2L286.8 64.6L287.8 67.7L288.8 71.2L289.8 73.3L290.8 75.8L291.8 78.0L292.8 79.2L293.8 80.4L294.8 81.8L295.8 82.3L296.8 82.1L297.8 81.3L298.8 80.5L299.8 78.8L300.8 77.2L301.8 74.5L302.8 72.2L303.8 69.4L304.8 65.4L305.8 62.0L306.8 58.2L307.8 54.8L308.8 52.7L309.8 51.3L310.8 50.7L311.8 52.6L312.8 55.1L313.8 58.0L314.8 62.1L315.8 64.3L316.8 66.2L317.8 68.8L318.8 72.2L319.8 75.0L320.8 74.1L321.8 73.4L322.8 71.5L323.8 69.5L324.8 66.7L325.8 63.7L326.8 60.2L327.8 56.7L328.8 50.7L329.8 43.0L330.8 34.4L331.8 29.4L332.8 27.7L333.8 26.1L334.8 25.7L335.8 24.8L336.8 24.4L337.8 25.5L338.8 27.3L339.8 31.2L340.8 36.5L341.8 41.8L342.8 46.6L343.8 52.2L344.8 57.2L345.8 60.2L346.8 63.1L347.8 61.9L348.8 61.9L349.8 60.6L350.8 59.7L351.8 59.2L352.8 58.8L353.8 58.7L354.8 58.4L355.8 58.4L356.8 58.9L356.9 59.0" stroke="#f2844b" stroke-width="1.3"/>
<path d="M204.8 60.0L205.8 63.4L206.8 66.8L207.8 69.2L208.8 71.1L209.8 72.5L210.8 73.0L211.8 73.0L212.8 72.0L213.8 70.1L214.8 69.2L215.8 66.7L216.8 64.6L217.8 62.0L218.8 59.6L219.8 57.3L220.8 55.1L221.8 52.9L222.8 51.7L223.8 51.5L224.8 50.8L225.8 50.7L226.8 52.2L227.8 54.9L228.8 57.3L229.8 58.6L230.8 59.4L231.8 60.5L232.8 59.6L233.8 59.7L234.8 59.7L235.8 58.4L236.8 55.7L237.8 55.7L238.8 54.4L239.8 54.1L240.8 54.0L241.8 54.7L242.8 56.1L243.8 58.8L244.8 61.1L245.8 62.4L246.8 63.8L247.8 64.1L248.8 64.9L249.8 64.6L250.8 62.9L251.8 63.3L252.8 62.7L253.8 61.3L254.8 60.6L255.8 59.8L256.8 58.7L257.8 58.5L258.8 58.3L259.8 56.7L260.8 55.5L261.8 53.7L262.8 52.0L263.8 49.7L264.8 48.1L265.8 46.4L266.8 44.3L267.8 42.4L268.8 40.8L269.8 40.5L270.8 41.9L271.8 43.4L272.8 45.0L273.8 48.6L274.8 51.3L275.8 54.2L276.8 57.8L277.8 63.6L278.8 67.9L279.8 72.3L280.8 74.4L281.8 70.6L282.8 64.0L283.8 59.8L284.8 60.0L285.8 60.7L286.8 63.5L287.8 66.1L288.8 68.9L289.8 70.0L290.8 72.6L291.8 74.7L292.8 75.4L293.8 76.3L294.8 78.1L295.8 78.4L296.8 78.1L297.8 77.4L298.8 76.7L299.8 75.6L300.8 74.1L301.8 71.7L302.8 69.8L303.8 66.9L304.8 63.6L305.8 60.9L306.8 58.3L307.8 55.2L308.8 52.6L309.8 52.5L310.8 51.7L311.8 53.0L312.8 55.3L313.8 58.9L314.8 61.6L315.8 62.6L316.8 64.6L317.8 66.5L318.8 69.6L319.8 71.0L320.8 70.7L321.8 70.3L322.8 68.9L323.8 67.5L324.8 64.9L325.8 63.2L326.8 60.0L327.8 57.0L328.8 51.7L329.8 46.1L330.8 38.2L331.8 34.2L332.8 32.2L333.8 30.5L334.8 30.2L335.8 30.8L336.8 29.4L337.8 30.0L338.8 32.3L339.8 35.7L340.8 39.1L341.8 43.7L342.8 47.7L343.8 52.7L344.8 57.4L345.8 59.9L346.8 61.4L347.8 61.6L348.8 61.1L349.8 60.6L350.8 59.4L351.8 58.2L352.8 58.3L353.8 57.6L354.8 58.3L355.8 58.8L356.8 59.0L356.9 59.3" stroke="#e87059" stroke-width="1.3"/>
<path d="M204.8 60.1L205.8 63.0L206.8 65.4L207.8 68.1L208.8 68.9L209.8 70.6L210.8 70.6L211.8 69.9L212.8 70.0L213.8 69.3L214.8 67.0L215.8 65.6L216.8 63.9L217.8 61.4L218.8 58.6L219.8 57.7L220.8 55.5L221.8 54.4L222.8 52.9L223.8 52.6L224.8 52.3L225.8 52.2L226.8 53.9L227.8 55.0L228.8 56.6L229.8 58.0L230.8 59.1L231.8 59.7L232.8 60.4L233.8 59.5L234.8 58.5L235.8 58.3L236.8 56.6L237.8 55.7L238.8 54.5L239.8 54.4L240.8 54.4L241.8 54.7L242.8 56.6L243.8 58.6L244.8 60.3L245.8 62.2L246.8 62.2L247.8 63.4L248.8 63.2L249.8 63.1L250.8 62.9L251.8 62.2L252.8 61.3L253.8 61.0L254.8 60.0L255.8 59.6L256.8 59.1L257.8 58.1L258.8 57.2L259.8 56.6L260.8 55.5L261.8 53.9L262.8 52.0L263.8 50.3L264.8 49.0L265.8 47.3L266.8 46.2L267.8 44.8L268.8 44.0L269.8 43.5L270.8 44.9L271.8 45.6L272.8 47.7L273.8 49.8L274.8 52.3L275.8 55.0L276.8 58.1L277.8 62.3L278.8 65.8L279.8 70.5L280.8 72.4L281.8 68.3L282.8 62.8L283.8 59.3L284.8 59.4L285.8 60.3L286.8 63.1L287.8 65.1L288.8 66.9L289.8 68.5L290.8 70.0L291.8 72.4L292.8 72.6L293.8 73.6L294.8 74.1L295.8 74.8L296.8 74.6L297.8 74.4L298.8 74.1L299.8 72.6L300.8 71.7L301.8 69.7L302.8 68.0L303.8 65.5L304.8 63.4L305.8 60.5L306.8 57.7L307.8 55.5L308.8 53.9L309.8 52.6L310.8 52.5L311.8 54.3L312.8 55.5L313.8 58.7L314.8 60.6L315.8 61.8L316.8 63.1L317.8 65.3L318.8 67.6L319.8 68.9L320.8 68.9L321.8 68.1L322.8 66.5L323.8 65.6L324.8 63.8L325.8 62.2L326.8 59.0L327.8 56.2L328.8 52.5L329.8 47.1L330.8 41.0L331.8 37.7L332.8 35.6L333.8 35.0L334.8 34.8L335.8 33.8L336.8 34.2L337.8 33.6L338.8 36.5L339.8 38.9L340.8 41.8L341.8 46.0L342.8 49.4L343.8 53.7L344.8 57.4L345.8 59.6L346.8 60.9L347.8 61.1L348.8 60.6L349.8 60.0L350.8 59.0L351.8 57.9L352.8 58.6L353.8 58.2L354.8 57.4L355.8 58.0L356.8 58.2L356.9 57.5" stroke="#dd5e66" stroke-width="1.3"/>
<path d="M204.8 59.7L205.8 62.4L206.8 63.5L207.8 65.4L208.8 67.0L209.8 68.2L210.8 68.9L211.8 68.5L212.8 67.6L213.8 67.2L214.8 65.9L215.8 64.3L216.8 62.5L217.8 60.2L218.8 59.0L219.8 57.0L220.8 55.4L221.8 54.6L222.8 53.3L223.8 52.8L224.8 52.6L225.8 53.2L226.8 54.1L227.8 55.5L228.8 57.2L229.8 58.1L230.8 58.3L231.8 58.7L232.8 59.0L233.8 58.7L234.8 57.9L235.8 57.1L236.8 56.0L237.8 55.5L238.8 55.5L239.8 55.4L240.8 54.8L241.8 55.5L242.8 56.6L243.8 58.1L244.8 60.1L245.8 61.4L246.8 61.9L247.8 62.6L248.8 62.4L249.8 62.5L250.8 61.6L251.8 61.5L252.8 60.6L253.8 60.1L254.8 59.6L255.8 58.4L256.8 58.2L257.8 58.0L258.8 57.5L259.8 56.8L260.8 55.4L261.8 54.1L262.8 53.2L263.8 52.0L264.8 50.3L265.8 49.4L266.8 47.8L267.8 46.8L268.8 45.9L269.8 45.2L270.8 46.7L271.8 46.9L272.8 48.9L273.8 51.0L274.8 52.8L275.8 54.8L276.8 57.3L277.8 60.9L278.8 64.4L279.8 68.5L280.8 69.3L281.8 66.6L282.8 61.9L283.8 58.9L284.8 58.8L285.8 59.5L286.8 61.0L287.8 63.5L288.8 65.2L289.8 66.6L290.8 68.3L291.8 69.3L292.8 70.0L293.8 71.3L294.8 71.5L295.8 72.8L296.8 71.9L297.8 71.6L298.8 71.0L299.8 70.6L300.8 69.7L301.8 67.9L302.8 66.1L303.8 65.0L304.8 62.8L305.8 60.3L306.8 58.3L307.8 55.9L308.8 54.9L309.8 54.4L310.8 53.2L311.8 54.2L312.8 56.3L313.8 57.8L314.8 60.6L315.8 60.9L316.8 62.3L317.8 63.9L318.8 66.3L319.8 67.3L320.8 66.6L321.8 65.9L322.8 65.4L323.8 63.6L324.8 62.5L325.8 60.6L326.8 59.1L327.8 56.7L328.8 52.2L329.8 48.7L330.8 43.5L331.8 40.2L332.8 38.7L333.8 38.0L334.8 38.0L335.8 38.0L336.8 38.1L337.8 38.3L338.8 39.2L339.8 41.3L340.8 44.6L341.8 46.6L342.8 50.1L343.8 54.1L344.8 57.6L345.8 58.7L346.8 60.2L347.8 59.9L348.8 60.0L349.8 59.7L350.8 58.8L351.8 58.4L352.8 58.0L353.8 58.1L354.8 57.8L355.8 57.5L356.8 58.1L356.9 58.3" stroke="#d04d73" stroke-width="1.3"/>
<path d="M204.8 59.5L205.8 61.3L206.8 62.7L207.8 64.1L208.8 65.6L209.8 66.2L210.8 67.2L211.8 66.5L212.8 65.2L213.8 65.4L214.8 63.7L215.8 63.1L216.8 62.2L217.8 60.3L218.8 58.3L219.8 57.0L220.8 55.9L221.8 55.4L222.8 54.0L223.8 53.9L224.8 53.4L225.8 53.6L226.8 54.6L227.8 56.1L228.8 56.4L229.8 57.6L230.8 58.8L231.8 59.4L232.8 58.8L233.8 58.5L234.8 57.9L235.8 57.6L236.8 56.2L237.8 56.1L238.8 55.3L239.8 55.0L240.8 55.2L241.8 55.8L242.8 57.1L243.8 58.3L244.8 59.7L245.8 61.0L246.8 61.4L247.8 62.0L248.8 61.7L249.8 61.3L250.8 61.2L251.8 61.2L252.8 60.7L253.8 59.3L254.8 59.4L255.8 58.7L256.8 58.4L257.8 58.1L258.8 57.7L259.8 56.9L260.8 56.0L261.8 55.2L262.8 53.7L263.8 52.5L264.8 51.3L265.8 49.9L266.8 49.2L267.8 47.7L268.8 47.2L269.8 47.1L270.8 47.8L271.8 48.5L272.8 50.2L273.8 51.6L274.8 53.3L275.8 55.2L276.8 56.9L277.8 60.3L278.8 63.4L279.8 66.1L280.8 67.1L281.8 65.1L282.8 60.8L283.8 58.7L284.8 57.8L285.8 59.0L286.8 60.6L287.8 62.5L288.8 64.2L289.8 65.2L290.8 66.4L291.8 66.6L292.8 68.5L293.8 69.4L294.8 69.6L295.8 69.8L296.8 70.1L297.8 70.0L298.8 69.3L299.8 69.1L300.8 67.4L301.8 65.9L302.8 65.0L303.8 63.7L304.8 61.5L305.8 59.9L306.8 57.9L307.8 56.1L308.8 54.9L309.8 53.6L310.8 54.0L311.8 54.9L312.8 56.4L313.8 57.7L314.8 59.2L315.8 59.9L316.8 60.9L317.8 62.9L318.8 65.1L319.8 65.2L320.8 65.4L321.8 65.2L322.8 64.0L323.8 63.4L324.8 61.9L325.8 60.4L326.8 59.1L327.8 56.6L328.8 53.5L329.8 50.3L330.8 45.7L331.8 43.0L332.8 41.5L333.8 41.5L334.8 40.8L335.8 40.8L336.8 40.9L337.8 40.7L338.8 42.2L339.8 43.4L340.8 46.4L341.8 49.0L342.8 52.0L343.8 54.4L344.8 57.2L345.8 58.6L346.8 59.3L347.8 59.4L348.8 59.2L349.8 59.3L350.8 58.3L351.8 57.9L352.8 57.8L353.8 57.8L354.8 57.6L355.8 57.8L356.8 57.2L356.9 57.4" stroke="#c13b82" stroke-width="1.3"/>
<path d="M204.8 58.8L205.8 60.6L206.8 62.1L207.8 62.3L208.8 63.6L209.8 65.0L210.8 64.8L211.8 64.7L212.8 64.5L213.8 63.5L214.8 62.9L215.8 61.7L216.8 61.1L217.8 59.6L218.8 58.6L219.8 56.8L220.8 56.8L221.8 56.0L222.8 55.0L223.8 55.0L224.8 53.7L225.8 54.6L226.8 54.9L227.8 56.8L228.8 56.3L229.8 57.4L230.8 58.0L231.8 58.8L232.8 58.8L233.8 58.4L234.8 57.9L235.8 58.0L236.8 56.4L237.8 56.2L238.8 56.2L239.8 55.3L240.8 55.7L241.8 56.6L242.8 57.4L243.8 58.0L244.8 59.4L245.8 60.8L246.8 60.6L247.8 61.1L248.8 60.9L249.8 60.5L250.8 60.8L251.8 60.2L252.8 59.9L253.8 59.1L254.8 58.8L255.8 58.5L256.8 58.2L257.8 57.8L258.8 57.5L259.8 57.4L260.8 56.0L261.8 55.4L262.8 54.6L263.8 53.6L264.8 52.5L265.8 51.5L266.8 50.9L267.8 49.8L268.8 49.1L269.8 49.5L270.8 49.1L271.8 50.4L272.8 51.3L273.8 52.1L274.8 53.6L275.8 55.0L276.8 57.3L277.8 59.6L278.8 61.5L279.8 63.8L280.8 64.6L281.8 62.9L282.8 59.5L283.8 57.9L284.8 58.0L285.8 58.7L286.8 60.3L287.8 61.4L288.8 62.7L289.8 63.7L290.8 65.0L291.8 65.7L292.8 66.7L293.8 67.2L294.8 67.0L295.8 67.1L296.8 67.7L297.8 67.5L298.8 66.6L299.8 66.7L300.8 65.5L301.8 64.4L302.8 63.4L303.8 61.8L304.8 60.4L305.8 59.3L306.8 57.7L307.8 56.7L308.8 55.7L309.8 54.3L310.8 54.5L311.8 55.5L312.8 55.8L313.8 57.8L314.8 58.5L315.8 59.1L316.8 60.8L317.8 61.8L318.8 62.8L319.8 63.7L320.8 64.3L321.8 63.8L322.8 62.8L323.8 62.3L324.8 61.0L325.8 59.7L326.8 58.6L327.8 56.5L328.8 54.4L329.8 51.1L330.8 47.5L331.8 45.5L332.8 44.6L333.8 44.4L334.8 44.1L335.8 43.7L336.8 43.9L337.8 43.7L338.8 44.6L339.8 46.4L340.8 48.6L341.8 50.7L342.8 52.8L343.8 55.4L344.8 57.3L345.8 58.3L346.8 59.4L347.8 59.2L348.8 59.2L349.8 59.0L350.8 58.3L351.8 57.4L352.8 57.5L353.8 57.4L354.8 57.3L355.8 57.2L356.8 57.0L356.9 56.9" stroke="#b12a90" stroke-width="1.3"/>
<path d="M204.8 58.9L205.8 59.8L206.8 60.7L207.8 61.8L208.8 62.3L209.8 63.2L210.8 63.8L211.8 62.8L212.8 62.5L213.8 61.8L214.8 61.4L215.8 61.1L216.8 60.2L217.8 59.3L218.8 58.5L219.8 57.3L220.8 56.3L221.8 56.4L222.8 55.7L223.8 55.6L224.8 55.0L225.8 55.4L226.8 55.6L227.8 56.3L228.8 56.9L229.8 57.6L230.8 58.2L231.8 58.3L232.8 57.3L233.8 57.8L234.8 57.5L235.8 57.3L236.8 56.6L237.8 56.0L238.8 55.7L239.8 55.8L240.8 56.0L241.8 56.9L242.8 57.5L243.8 58.2L244.8 59.2L245.8 60.2L246.8 59.9L247.8 60.1L248.8 59.9L249.8 59.5L250.8 59.3L251.8 58.9L252.8 58.9L253.8 58.6L254.8 58.4L255.8 57.7L256.8 58.0L257.8 57.4L258.8 57.4L259.8 57.4L260.8 56.9L261.8 56.3L262.8 55.9L263.8 54.9L264.8 53.8L265.8 53.0L266.8 52.0L267.8 51.6L268.8 50.8L269.8 50.6L270.8 50.7L271.8 50.9L272.8 52.8L273.8 53.4L274.8 53.6L275.8 55.3L276.8 56.5L277.8 58.0L278.8 60.4L279.8 62.6L280.8 63.5L281.8 62.0L282.8 59.1L283.8 57.7L284.8 58.0L285.8 58.3L286.8 59.4L287.8 60.4L288.8 61.6L289.8 61.9L290.8 62.6L291.8 64.2L292.8 64.4L293.8 65.1L294.8 65.2L295.8 65.3L296.8 65.4L297.8 65.3L298.8 64.9L299.8 64.6L300.8 64.0L301.8 63.4L302.8 62.5L303.8 61.8L304.8 60.1L305.8 59.2L306.8 58.4L307.8 57.2L308.8 55.7L309.8 55.9L310.8 55.6L311.8 56.1L312.8 56.9L313.8 58.0L314.8 59.3L315.8 59.8L316.8 60.2L317.8 61.2L318.8 62.1L319.8 62.3L320.8 62.2L321.8 61.7L322.8 61.6L323.8 60.8L324.8 60.3L325.8 59.1L326.8 57.9L327.8 56.3L328.8 54.7L329.8 52.9L330.8 49.4L331.8 47.7L332.8 47.0L333.8 47.1L334.8 46.5L335.8 46.1L336.8 46.1L337.8 46.4L338.8 47.2L339.8 48.7L340.8 50.7L341.8 52.2L342.8 53.7L343.8 55.5L344.8 56.9L345.8 58.4L346.8 59.2L347.8 59.1L348.8 58.7L349.8 58.7L350.8 58.0L351.8 57.6L352.8 57.3L353.8 57.2L354.8 57.1L355.8 57.3L356.8 57.1L356.9 57.0" stroke="#9e199d" stroke-width="1.3"/>
<path d="M204.8 58.0L205.8 58.9L206.8 59.8L207.8 60.3L208.8 60.8L209.8 61.2L210.8 61.8L211.8 61.8L212.8 61.1L213.8 61.0L214.8 60.1L215.8 59.7L216.8 59.3L217.8 58.2L218.8 58.0L219.8 57.1L220.8 56.7L221.8 56.0L222.8 55.5L223.8 55.6L224.8 55.6L225.8 55.5L226.8 56.2L227.8 56.5L228.8 57.1L229.8 58.0L230.8 57.9L231.8 57.9L232.8 58.2L233.8 57.9L234.8 57.4L235.8 57.3L236.8 56.0L237.8 56.5L238.8 56.6L239.8 56.2L240.8 55.9L241.8 57.0L242.8 57.9L243.8 58.1L244.8 58.3L245.8 59.0L246.8 59.3L247.8 59.5L248.8 59.7L249.8 59.3L250.8 58.4L251.8 58.6L252.8 58.4L253.8 58.6L254.8 57.9L255.8 57.5L256.8 57.7L257.8 57.7L258.8 57.1L259.8 57.5L260.8 56.8L261.8 56.6L262.8 56.0L263.8 55.4L264.8 54.9L265.8 54.3L266.8 53.2L267.8 52.7L268.8 52.6L269.8 52.3L270.8 52.4L271.8 53.0L272.8 53.4L273.8 54.3L274.8 54.3L275.8 55.9L276.8 57.4L277.8 58.4L278.8 59.7L279.8 61.0L280.8 61.3L281.8 60.4L282.8 58.5L283.8 57.3L284.8 57.5L285.8 57.7L286.8 58.8L287.8 59.8L288.8 60.7L289.8 61.2L290.8 62.0L291.8 62.3L292.8 62.1L293.8 62.5L294.8 63.1L295.8 63.1L296.8 63.6L297.8 63.0L298.8 63.0L299.8 62.8L300.8 62.3L301.8 61.8L302.8 61.4L303.8 60.7L304.8 59.8L305.8 59.1L306.8 58.3L307.8 57.3L308.8 56.5L309.8 56.1L310.8 55.9L311.8 56.2L312.8 57.0L313.8 58.4L314.8 58.6L315.8 58.8L316.8 59.3L317.8 59.9L318.8 60.9L319.8 61.4L320.8 60.8L321.8 61.3L322.8 60.2L323.8 60.0L324.8 59.1L325.8 58.2L326.8 57.3L327.8 57.2L328.8 55.7L329.8 53.2L330.8 51.0L331.8 50.5L332.8 49.2L333.8 49.4L334.8 49.7L335.8 49.3L336.8 49.4L337.8 49.3L338.8 49.5L339.8 50.7L340.8 51.8L341.8 53.6L342.8 54.6L343.8 56.4L344.8 57.4L345.8 58.1L346.8 58.8L347.8 58.5L348.8 58.1L349.8 58.3L350.8 57.5L351.8 56.7L352.8 57.0L353.8 56.2L354.8 56.5L355.8 56.6L356.8 56.5L356.9 56.4" stroke="#8808a6" stroke-width="1.3"/>
<path d="M204.8 57.7L205.8 58.0L206.8 58.8L207.8 58.8L208.8 59.9L209.8 59.8L210.8 60.1L211.8 60.0L212.8 60.1L213.8 59.4L214.8 59.7L215.8 59.2L216.8 59.0L217.8 58.3L218.8 57.8L219.8 57.0L220.8 57.0L221.8 57.2L222.8 56.5L223.8 56.4L224.8 56.4L225.8 56.7L226.8 56.4L227.8 57.5L228.8 57.5L229.8 57.7L230.8 57.7L231.8 58.1L232.8 57.5L233.8 57.5L234.8 57.1L235.8 56.5L236.8 56.5L237.8 56.5L238.8 56.2L239.8 56.3L240.8 56.7L241.8 56.8L242.8 57.3L243.8 58.2L244.8 58.5L245.8 59.2L246.8 59.4L247.8 59.6L248.8 59.4L249.8 58.9L250.8 58.8L251.8 58.1L252.8 58.2L253.8 57.8L254.8 58.0L255.8 57.4L256.8 57.5L257.8 57.2L258.8 57.4L259.8 57.2L260.8 56.6L261.8 57.0L262.8 56.3L263.8 55.5L264.8 55.2L265.8 54.5L266.8 54.0L267.8 54.0L268.8 53.2L269.8 53.6L270.8 53.2L271.8 53.6L272.8 54.5L273.8 54.4L274.8 54.9L275.8 55.7L276.8 56.0L277.8 57.2L278.8 57.8L279.8 59.0L280.8 59.5L281.8 58.6L282.8 57.2L283.8 56.7L284.8 57.0L285.8 57.3L286.8 57.8L287.8 58.2L288.8 59.2L289.8 59.7L290.8 59.7L291.8 59.8L292.8 60.6L293.8 61.1L294.8 61.3L295.8 60.9L296.8 61.5L297.8 60.8L298.8 61.1L299.8 60.5L300.8 60.6L301.8 60.1L302.8 59.6L303.8 59.5L304.8 58.8L305.8 58.4L306.8 58.0L307.8 57.5L308.8 57.6L309.8 57.3L310.8 56.9L311.8 56.8L312.8 57.4L313.8 57.8L314.8 58.1L315.8 58.1L316.8 58.3L317.8 59.0L318.8 59.1L319.8 59.6L320.8 59.3L321.8 59.5L322.8 59.2L323.8 59.0L324.8 58.8L325.8 58.0L326.8 57.6L327.8 56.7L328.8 55.7L329.8 54.0L330.8 53.1L331.8 52.3L332.8 51.5L333.8 51.5L334.8 51.2L335.8 51.6L336.8 51.4L337.8 51.9L338.8 52.2L339.8 53.0L340.8 53.5L341.8 54.1L342.8 55.4L343.8 56.2L344.8 57.6L345.8 57.8L346.8 58.5L347.8 58.3L348.8 58.0L349.8 57.6L350.8 57.6L351.8 57.6L352.8 57.3L353.8 57.2L354.8 57.0L355.8 56.5L356.8 56.7L356.9 56.5" stroke="#7201a8" stroke-width="1.3"/>
<path d="M204.8 57.1L205.8 57.3L206.8 57.8L207.8 58.4L208.8 58.7L209.8 58.5L210.8 58.1L211.8 58.1L212.8 58.3L213.8 58.2L214.8 58.0L215.8 57.6L216.8 57.2L217.8 57.2L218.8 56.9L219.8 57.1L220.8 56.4L221.8 56.7L222.8 56.7L223.8 56.8L224.8 56.8L225.8 56.2L226.8 56.3L227.8 56.8L228.8 56.6L229.8 56.4L230.8 57.2L231.8 56.9L232.8 56.9L233.8 56.6L234.8 56.6L235.8 56.3L236.8 56.1L237.8 56.5L238.8 55.8L239.8 56.4L240.8 56.1L241.8 57.1L242.8 57.1L243.8 57.2L244.8 57.3L245.8 57.9L246.8 58.4L247.8 58.0L248.8 57.4L249.8 57.1L250.8 58.1L251.8 57.1L252.8 56.8L253.8 57.0L254.8 57.1L255.8 57.3L256.8 56.8L257.8 56.7L258.8 57.1L259.8 56.6L260.8 56.8L261.8 56.6L262.8 56.6L263.8 55.9L264.8 55.7L265.8 55.6L266.8 55.3L267.8 54.6L268.8 54.4L269.8 54.4L270.8 54.2L271.8 54.8L272.8 54.6L273.8 54.9L274.8 54.8L275.8 55.1L276.8 55.6L277.8 56.4L278.8 56.7L279.8 57.8L280.8 57.6L281.8 57.6L282.8 56.8L283.8 56.3L284.8 56.8L285.8 56.8L286.8 56.9L287.8 57.2L288.8 57.9L289.8 57.8L290.8 58.4L291.8 58.2L292.8 58.7L293.8 58.6L294.8 58.9L295.8 59.5L296.8 59.5L297.8 59.0L298.8 59.1L299.8 58.7L300.8 59.0L301.8 59.1L302.8 58.5L303.8 58.2L304.8 58.3L305.8 57.8L306.8 57.7L307.8 57.7L308.8 57.2L309.8 57.0L310.8 57.2L311.8 56.9L312.8 57.1L313.8 57.2L314.8 57.2L315.8 57.8L316.8 57.2L317.8 57.8L318.8 57.7L319.8 58.0L320.8 57.8L321.8 57.9L322.8 57.9L323.8 57.9L324.8 56.9L325.8 57.0L326.8 56.5L327.8 55.9L328.8 55.4L329.8 54.7L330.8 53.8L331.8 53.3L332.8 53.5L333.8 53.0L334.8 53.0L335.8 52.7L336.8 53.2L337.8 53.0L338.8 53.4L339.8 53.7L340.8 54.4L341.8 54.8L342.8 55.2L343.8 55.8L344.8 56.6L345.8 57.0L346.8 57.4L347.8 57.6L348.8 57.6L349.8 56.9L350.8 56.6L351.8 56.7L352.8 56.2L353.8 56.5L354.8 56.3L355.8 55.8L356.8 56.1L356.9 56.3" stroke="#5901a5" stroke-width="1.3"/>
<path d="M204.8 56.9L205.8 57.0L206.8 56.8L207.8 56.8L208.8 56.8L209.8 56.8L210.8 56.7L211.8 56.4L212.8 56.6L213.8 56.6L214.8 57.2L215.8 57.1L216.8 56.7L217.8 56.7L218.8 56.9L219.8 56.6L220.8 57.2L221.8 56.9L222.8 56.8L223.8 57.1L224.8 57.2L225.8 56.9L226.8 57.1L227.8 56.6L228.8 56.8L229.8 56.7L230.8 56.5L231.8 56.9L232.8 57.2L233.8 56.2L234.8 56.3L235.8 56.5L236.8 56.2L237.8 56.3L238.8 56.3L239.8 56.8L240.8 56.8L241.8 57.5L242.8 57.7L243.8 58.0L244.8 57.9L245.8 58.1L246.8 58.1L247.8 57.6L248.8 57.3L249.8 56.7L250.8 56.7L251.8 56.5L252.8 56.5L253.8 55.9L254.8 55.9L255.8 56.6L256.8 56.7L257.8 56.4L258.8 56.7L259.8 56.5L260.8 57.0L261.8 57.3L262.8 57.2L263.8 56.7L264.8 56.8L265.8 56.5L266.8 56.5L267.8 56.1L268.8 56.2L269.8 56.2L270.8 55.9L271.8 55.8L272.8 55.8L273.8 55.9L274.8 55.5L275.8 55.5L276.8 55.5L277.8 55.9L278.8 55.7L279.8 55.9L280.8 55.7L281.8 55.4L282.8 55.6L283.8 55.8L284.8 55.8L285.8 55.9L286.8 56.2L287.8 56.6L288.8 56.8L289.8 56.8L290.8 56.7L291.8 56.8L292.8 57.8L293.8 57.0L294.8 57.2L295.8 57.2L296.8 56.9L297.8 57.7L298.8 57.5L299.8 57.4L300.8 57.9L301.8 57.8L302.8 58.0L303.8 57.7L304.8 57.9L305.8 58.0L306.8 57.6L307.8 57.2L308.8 57.2L309.8 57.4L310.8 56.8L311.8 56.8L312.8 57.2L313.8 57.1L314.8 57.0L315.8 56.9L316.8 57.1L317.8 57.1L318.8 57.0L319.8 56.5L320.8 57.0L321.8 56.4L322.8 57.0L323.8 56.5L324.8 56.7L325.8 56.5L326.8 56.2L327.8 56.6L328.8 56.2L329.8 56.4L330.8 55.8L331.8 55.5L332.8 55.8L333.8 55.5L334.8 55.1L335.8 54.8L336.8 55.4L337.8 55.2L338.8 55.4L339.8 55.2L340.8 55.4L341.8 55.7L342.8 56.4L343.8 56.4L344.8 56.8L345.8 56.3L346.8 57.1L347.8 56.7L348.8 56.2L349.8 56.4L350.8 56.6L351.8 56.6L352.8 55.4L353.8 55.5L354.8 55.7L355.8 55.1L356.8 55.2L356.9 55.1" stroke="#41049d" stroke-width="1.3"/>
<path d="M204.8 66.7L205.8 71.3L206.8 74.9L207.8 77.3L208.8 79.1L209.8 80.5L210.8 81.0L211.8 80.5L212.8 79.5L213.8 78.1L214.8 76.3L215.8 73.8L216.8 70.7L217.8 67.4L218.8 64.2L219.8 60.6L220.8 57.1L221.8 54.4L222.8 52.1L223.8 50.5L224.8 50.6L225.8 52.4L226.8 54.6L227.8 57.5L228.8 60.8L229.8 63.8L230.8 66.9L231.8 68.7L232.8 69.6L233.8 70.2L234.8 70.0L235.8 68.5L236.8 66.4L237.8 62.5L238.8 58.0L239.8 53.6L240.8 49.2L241.8 48.2L242.8 49.4L243.8 51.5L244.8 55.4L245.8 58.6L246.8 61.0L247.8 62.4L248.8 62.2L249.8 61.2L250.8 60.0L251.8 59.1L252.8 58.3L253.8 57.5L254.8 56.9L255.8 56.5L256.8 56.1L257.8 55.5L258.8 54.6L259.8 53.1L260.8 50.7L261.8 46.2L262.8 41.3L263.8 36.0L264.8 31.3L265.8 27.3L266.8 24.3L267.8 22.2L268.8 20.9L269.8 21.8L270.8 24.3L271.8 27.8L272.8 33.2L273.8 38.8L274.8 44.7L275.8 51.0L276.8 57.4L277.8 64.4L278.8 74.6L279.8 82.0L280.8 78.8L281.8 70.9L282.8 62.8L283.8 55.0L284.8 55.5L285.8 62.2L286.8 68.5L287.8 75.2L288.8 80.7L289.8 85.2L290.8 89.1L291.8 92.7L292.8 96.4L293.8 100.2L294.8 102.7L295.8 103.0L296.8 102.7L297.8 102.3L298.8 101.6L299.8 98.6L300.8 93.6L301.8 88.6L302.8 83.7L303.8 78.5L304.8 72.8L305.8 66.5L306.8 59.5L307.8 50.9L308.8 41.9L309.8 36.7L310.8 35.2L311.8 38.4L312.8 43.7L313.8 51.8L314.8 63.3L315.8 72.9L316.8 80.7L317.8 86.1L318.8 90.3L319.8 93.5L320.8 94.9L321.8 94.2L322.8 92.1L323.8 89.4L324.8 85.6L325.8 79.8L326.8 73.6L327.8 67.1L328.8 58.3L329.8 44.6L330.8 36.3L331.8 30.5L332.8 26.3L333.8 23.1L334.8 21.5L335.8 20.7L336.8 20.2L337.8 20.2L338.8 21.2L339.8 23.5L340.8 29.1L341.8 36.6L342.8 46.6L343.8 58.4L344.8 65.2L345.8 70.5L346.8 76.8L347.8 80.7L348.8 77.8L349.8 72.6L350.8 67.2L351.8 61.9L352.8 60.0L353.8 59.0L354.8 59.1L355.8 61.4L356.8 65.5L356.9 66.0" stroke="#000" stroke-width="1.5" stroke-dasharray="5.2 2.2" stroke-linecap="butt"/>
</g>
<g clip-path="url(#cpc1)" fill="none" stroke-linejoin="round" stroke-linecap="round">
<path d="M369.0 81.0L370.0 85.1L371.0 86.8L372.0 91.3L373.0 94.5L374.0 96.8L375.0 96.9L376.0 96.8L377.0 94.7L378.0 93.1L379.0 90.1L380.0 85.3L381.0 81.3L382.0 75.8L383.0 70.1L384.0 63.3L385.0 57.9L386.0 52.8L387.0 48.0L388.0 43.8L389.0 42.4L390.0 39.7L391.0 39.6L392.0 38.4L393.0 40.6L394.0 43.3L395.0 46.4L396.0 51.9L397.0 57.5L398.0 62.3L399.0 65.3L400.0 67.8L401.0 70.4L402.0 71.4L403.0 71.8L404.0 69.8L405.0 67.0L406.0 62.2L407.0 58.1L408.0 53.4L409.0 46.9L410.0 41.6L411.0 35.7L412.0 30.5L413.0 26.7L414.0 23.8L415.0 20.4L416.0 20.1L417.0 22.8L418.0 25.8L419.0 30.6L420.0 35.8L421.0 41.5L422.0 47.6L423.0 56.6L424.0 62.7L425.0 68.0L426.0 69.0L427.0 66.8L428.0 63.4L429.0 57.9L430.0 50.3L431.0 40.5L432.0 34.2L433.0 28.8L434.0 26.0L435.0 23.6L436.0 25.8L437.0 27.5L438.0 29.7L439.0 36.1L440.0 39.7L441.0 45.4L442.0 51.0L443.0 55.3L444.0 59.2L445.0 60.4L446.0 59.8L447.0 58.8L448.0 54.3L449.0 49.0L450.0 44.5L451.0 39.1L452.0 34.6L453.0 31.0L454.0 28.7L455.0 25.1L456.0 20.0L457.0 17.6L458.0 14.3L459.0 11.0L460.0 9.5L461.0 7.2L462.0 6.5L463.0 7.8L464.0 10.7L465.0 14.8L466.0 20.3L467.0 24.9L468.0 29.3L469.0 32.8L470.0 35.7L471.0 36.8L472.0 37.4L473.0 34.6L474.0 34.1L475.0 33.7L476.0 34.1L477.0 35.0L478.0 38.5L479.0 42.6L480.0 48.7L481.0 56.4L482.0 68.6L483.0 82.5L484.0 92.1L485.0 100.3L486.0 105.7L487.0 109.4L488.0 109.6L489.0 107.8L490.0 104.9L491.0 99.0L492.0 92.6L493.0 84.2L494.0 75.5L495.0 69.4L496.0 61.4L497.0 50.4L498.0 33.4L499.0 18.7L500.0 9.7L501.0 6.7L502.0 5.6L503.0 6.1L504.0 7.9L505.0 12.0L506.0 16.1L507.0 20.9L508.0 27.8L509.0 37.8L510.0 59.6L511.0 75.9L512.0 76.0L513.0 64.1L514.0 55.8L515.0 51.0L516.0 49.7L517.0 51.7L518.0 54.7L519.0 58.4L520.0 65.4L521.0 78.7L521.1 81.0" stroke="#fdae32" stroke-width="1.5"/>
<path d="M369.0 76.2L370.0 79.9L371.0 82.6L372.0 85.2L373.0 87.6L374.0 90.7L375.0 90.9L376.0 89.4L377.0 87.9L378.0 86.0L379.0 83.7L380.0 81.1L381.0 76.4L382.0 72.1L383.0 66.8L384.0 61.8L385.0 57.7L386.0 52.5L387.0 49.2L388.0 45.8L389.0 44.5L390.0 44.4L391.0 42.1L392.0 42.6L393.0 44.1L394.0 45.6L395.0 48.4L396.0 53.4L397.0 57.9L398.0 60.3L399.0 63.4L400.0 66.7L401.0 67.5L402.0 69.5L403.0 70.1L404.0 67.7L405.0 64.8L406.0 61.1L407.0 57.6L408.0 53.8L409.0 48.2L410.0 43.7L411.0 39.2L412.0 35.8L413.0 32.3L414.0 29.6L415.0 28.1L416.0 26.8L417.0 28.6L418.0 31.3L419.0 35.3L420.0 39.6L421.0 44.5L422.0 49.4L423.0 55.8L424.0 61.9L425.0 65.6L426.0 67.6L427.0 64.5L428.0 63.1L429.0 58.5L430.0 51.1L431.0 44.4L432.0 37.5L433.0 34.8L434.0 31.5L435.0 29.8L436.0 30.5L437.0 32.7L438.0 34.5L439.0 39.9L440.0 43.4L441.0 47.9L442.0 51.7L443.0 55.6L444.0 58.3L445.0 59.5L446.0 60.0L447.0 58.1L448.0 55.0L449.0 50.8L450.0 46.7L451.0 42.6L452.0 39.6L453.0 35.7L454.0 32.5L455.0 30.0L456.0 27.1L457.0 24.5L458.0 22.1L459.0 19.8L460.0 18.1L461.0 16.3L462.0 16.0L463.0 16.4L464.0 19.4L465.0 22.5L466.0 26.9L467.0 31.2L468.0 34.4L469.0 37.0L470.0 39.6L471.0 40.7L472.0 40.6L473.0 39.3L474.0 38.1L475.0 38.6L476.0 38.7L477.0 39.1L478.0 41.6L479.0 45.9L480.0 50.7L481.0 55.9L482.0 66.7L483.0 77.6L484.0 86.4L485.0 92.7L486.0 96.4L487.0 99.6L488.0 100.3L489.0 99.1L490.0 96.5L491.0 91.7L492.0 85.9L493.0 80.0L494.0 72.0L495.0 67.0L496.0 61.8L497.0 50.9L498.0 37.4L499.0 25.3L500.0 18.3L501.0 15.8L502.0 14.3L503.0 15.6L504.0 16.9L505.0 20.2L506.0 22.9L507.0 27.6L508.0 32.7L509.0 41.2L510.0 58.4L511.0 73.0L512.0 72.6L513.0 63.3L514.0 55.5L515.0 52.7L516.0 50.2L517.0 53.7L518.0 54.8L519.0 57.7L520.0 64.1L521.0 75.3L521.1 75.6" stroke="#f9983e" stroke-width="1.3"/>
<path d="M369.0 71.8L370.0 74.1L371.0 76.4L372.0 78.7L373.0 81.3L374.0 82.2L375.0 82.8L376.0 83.0L377.0 81.0L378.0 79.9L379.0 78.1L380.0 75.0L381.0 71.8L382.0 68.5L383.0 64.9L384.0 61.2L385.0 57.2L386.0 54.4L387.0 51.3L388.0 48.7L389.0 47.6L390.0 46.4L391.0 45.8L392.0 45.3L393.0 46.3L394.0 48.2L395.0 50.0L396.0 54.2L397.0 57.2L398.0 59.7L399.0 62.1L400.0 64.7L401.0 65.2L402.0 67.1L403.0 66.2L404.0 65.4L405.0 63.8L406.0 60.4L407.0 57.8L408.0 54.5L409.0 50.0L410.0 47.0L411.0 43.6L412.0 40.7L413.0 38.6L414.0 35.9L415.0 34.1L416.0 32.8L417.0 34.9L418.0 37.2L419.0 40.6L420.0 44.4L421.0 48.1L422.0 51.6L423.0 56.5L424.0 61.0L425.0 64.2L426.0 64.9L427.0 63.7L428.0 61.2L429.0 57.5L430.0 51.7L431.0 47.7L432.0 42.7L433.0 39.0L434.0 36.8L435.0 36.2L436.0 36.7L437.0 38.1L438.0 39.4L439.0 42.8L440.0 46.6L441.0 50.0L442.0 53.1L443.0 56.7L444.0 58.2L445.0 59.4L446.0 59.1L447.0 58.3L448.0 55.1L449.0 52.8L450.0 48.3L451.0 45.9L452.0 43.2L453.0 41.1L454.0 37.8L455.0 35.6L456.0 33.6L457.0 31.8L458.0 29.7L459.0 26.7L460.0 26.4L461.0 25.5L462.0 25.0L463.0 25.4L464.0 27.4L465.0 30.1L466.0 33.0L467.0 37.1L468.0 38.7L469.0 41.6L470.0 43.0L471.0 44.4L472.0 43.5L473.0 43.4L474.0 42.7L475.0 42.4L476.0 42.5L477.0 43.6L478.0 44.9L479.0 48.2L480.0 52.0L481.0 56.7L482.0 64.2L483.0 72.1L484.0 79.7L485.0 84.4L486.0 87.8L487.0 90.2L488.0 90.7L489.0 89.4L490.0 88.2L491.0 84.3L492.0 79.6L493.0 75.1L494.0 68.8L495.0 64.8L496.0 60.5L497.0 52.4L498.0 42.2L499.0 32.4L500.0 27.5L501.0 25.0L502.0 24.6L503.0 23.9L504.0 25.6L505.0 28.0L506.0 30.6L507.0 33.1L508.0 37.9L509.0 44.7L510.0 57.9L511.0 68.8L512.0 69.0L513.0 61.9L514.0 56.5L515.0 52.6L516.0 51.8L517.0 54.3L518.0 55.7L519.0 58.2L520.0 62.7L521.0 71.2L521.1 70.9" stroke="#f2844b" stroke-width="1.3"/>
<path d="M369.0 69.3L370.0 71.2L371.0 73.5L372.0 75.5L373.0 77.7L374.0 79.0L375.0 79.1L376.0 78.9L377.0 77.9L378.0 76.2L379.0 74.9L380.0 72.1L381.0 69.6L382.0 67.1L383.0 63.7L384.0 60.2L385.0 57.1L386.0 54.5L387.0 51.5L388.0 49.8L389.0 48.5L390.0 48.0L391.0 47.6L392.0 47.8L393.0 48.0L394.0 49.2L395.0 51.6L396.0 54.5L397.0 57.5L398.0 59.6L399.0 61.6L400.0 62.8L401.0 64.3L402.0 65.6L403.0 65.5L404.0 64.4L405.0 62.1L406.0 60.2L407.0 57.5L408.0 54.8L409.0 51.5L410.0 48.2L411.0 45.3L412.0 42.7L413.0 41.5L414.0 39.6L415.0 37.9L416.0 37.6L417.0 38.7L418.0 40.9L419.0 43.1L420.0 46.1L421.0 48.9L422.0 52.8L423.0 57.0L424.0 60.7L425.0 63.4L426.0 62.7L427.0 62.2L428.0 60.9L429.0 58.0L430.0 52.4L431.0 48.5L432.0 44.8L433.0 41.9L434.0 39.7L435.0 39.0L436.0 38.8L437.0 41.0L438.0 42.3L439.0 45.2L440.0 48.0L441.0 50.7L442.0 54.0L443.0 55.9L444.0 57.9L445.0 58.2L446.0 58.5L447.0 57.2L448.0 55.9L449.0 53.0L450.0 50.0L451.0 47.9L452.0 45.0L453.0 43.3L454.0 41.1L455.0 39.1L456.0 37.4L457.0 35.5L458.0 33.8L459.0 32.0L460.0 30.8L461.0 30.9L462.0 30.1L463.0 30.2L464.0 32.2L465.0 34.0L466.0 37.5L467.0 39.6L468.0 42.5L469.0 44.2L470.0 45.5L471.0 46.5L472.0 46.0L473.0 45.9L474.0 45.1L475.0 44.1L476.0 44.2L477.0 46.0L478.0 46.8L479.0 49.5L480.0 52.5L481.0 57.0L482.0 63.3L483.0 70.6L484.0 75.9L485.0 79.8L486.0 83.3L487.0 84.9L488.0 84.5L489.0 84.9L490.0 83.3L491.0 79.2L492.0 76.1L493.0 72.2L494.0 67.4L495.0 64.5L496.0 60.6L497.0 53.3L498.0 44.6L499.0 36.8L500.0 32.2L501.0 30.3L502.0 29.9L503.0 29.3L504.0 31.0L505.0 31.9L506.0 34.9L507.0 38.3L508.0 41.5L509.0 46.3L510.0 57.2L511.0 67.1L512.0 67.5L513.0 61.0L514.0 56.3L515.0 53.3L516.0 52.7L517.0 53.9L518.0 55.2L519.0 57.3L520.0 62.2L521.0 68.7L521.1 69.1" stroke="#e87059" stroke-width="1.3"/>
<path d="M369.0 68.2L370.0 69.6L371.0 71.4L372.0 72.9L373.0 74.2L374.0 75.8L375.0 76.1L376.0 75.7L377.0 74.8L378.0 73.9L379.0 71.8L380.0 70.4L381.0 67.7L382.0 65.0L383.0 62.4L384.0 59.8L385.0 57.2L386.0 54.6L387.0 52.9L388.0 51.1L389.0 50.3L390.0 49.5L391.0 48.9L392.0 48.5L393.0 49.0L394.0 51.1L395.0 52.1L396.0 55.1L397.0 57.4L398.0 59.7L399.0 60.8L400.0 62.0L401.0 62.5L402.0 64.1L403.0 64.1L404.0 62.9L405.0 61.3L406.0 59.9L407.0 57.7L408.0 55.7L409.0 52.6L410.0 50.1L411.0 47.8L412.0 45.4L413.0 44.2L414.0 42.3L415.0 41.6L416.0 40.6L417.0 41.7L418.0 43.4L419.0 45.3L420.0 47.9L421.0 50.5L422.0 53.6L423.0 56.7L424.0 60.3L425.0 62.5L426.0 62.7L427.0 61.4L428.0 60.6L429.0 57.0L430.0 53.5L431.0 49.8L432.0 46.8L433.0 44.4L434.0 43.1L435.0 42.3L436.0 42.9L437.0 43.4L438.0 45.2L439.0 47.8L440.0 49.5L441.0 52.1L442.0 53.9L443.0 56.7L444.0 57.8L445.0 59.1L446.0 58.4L447.0 57.9L448.0 55.8L449.0 53.8L450.0 51.5L451.0 49.9L452.0 47.4L453.0 45.7L454.0 44.5L455.0 42.6L456.0 40.4L457.0 39.4L458.0 37.7L459.0 36.7L460.0 35.8L461.0 34.4L462.0 34.3L463.0 35.2L464.0 36.4L465.0 37.7L466.0 40.3L467.0 42.6L468.0 44.3L469.0 45.1L470.0 47.5L471.0 47.7L472.0 47.6L473.0 47.0L474.0 46.8L475.0 46.5L476.0 47.1L477.0 47.3L478.0 48.8L479.0 50.7L480.0 53.9L481.0 56.7L482.0 61.4L483.0 68.8L484.0 73.6L485.0 76.6L486.0 78.3L487.0 81.0L488.0 80.9L489.0 79.9L490.0 78.7L491.0 76.5L492.0 72.9L493.0 69.8L494.0 65.6L495.0 63.2L496.0 59.6L497.0 54.5L498.0 46.7L499.0 40.5L500.0 35.9L501.0 34.7L502.0 34.2L503.0 34.2L504.0 34.4L505.0 36.4L506.0 38.4L507.0 40.9L508.0 43.5L509.0 48.6L510.0 58.4L511.0 65.3L512.0 65.2L513.0 60.3L514.0 56.5L515.0 54.6L516.0 53.2L517.0 54.5L518.0 55.2L519.0 57.1L520.0 61.4L521.0 67.4L521.1 67.6" stroke="#dd5e66" stroke-width="1.3"/>
<path d="M369.0 65.4L370.0 67.0L371.0 68.8L372.0 70.4L373.0 71.6L374.0 73.0L375.0 72.7L376.0 72.6L377.0 71.9L378.0 70.7L379.0 69.3L380.0 68.0L381.0 66.4L382.0 63.4L383.0 62.0L384.0 59.5L385.0 56.9L386.0 55.2L387.0 53.3L388.0 52.0L389.0 51.5L390.0 50.8L391.0 50.3L392.0 50.0L393.0 50.5L394.0 51.7L395.0 52.7L396.0 54.9L397.0 57.2L398.0 58.2L399.0 60.1L400.0 61.2L401.0 62.0L402.0 62.7L403.0 62.8L404.0 62.7L405.0 60.1L406.0 58.8L407.0 56.9L408.0 55.7L409.0 53.5L410.0 51.6L411.0 48.7L412.0 47.5L413.0 45.7L414.0 44.7L415.0 43.9L416.0 43.0L417.0 44.3L418.0 45.5L419.0 47.5L420.0 49.7L421.0 51.2L422.0 53.9L423.0 56.5L424.0 58.8L425.0 61.0L426.0 61.4L427.0 60.2L428.0 59.0L429.0 57.8L430.0 53.9L431.0 51.0L432.0 48.4L433.0 46.3L434.0 45.7L435.0 44.6L436.0 44.9L437.0 45.6L438.0 47.0L439.0 49.1L440.0 51.0L441.0 53.0L442.0 54.9L443.0 56.2L444.0 57.5L445.0 58.3L446.0 58.1L447.0 57.2L448.0 56.1L449.0 54.0L450.0 52.7L451.0 50.3L452.0 49.1L453.0 47.0L454.0 46.1L455.0 45.0L456.0 43.4L457.0 42.2L458.0 40.6L459.0 39.4L460.0 38.8L461.0 38.2L462.0 37.8L463.0 37.8L464.0 39.1L465.0 40.1L466.0 43.0L467.0 44.6L468.0 46.4L469.0 48.1L470.0 48.9L471.0 49.4L472.0 48.8L473.0 48.7L474.0 48.3L475.0 48.1L476.0 48.0L477.0 49.2L478.0 49.5L479.0 51.7L480.0 54.1L481.0 57.0L482.0 61.5L483.0 66.5L484.0 70.8L485.0 74.0L486.0 76.0L487.0 77.1L488.0 77.4L489.0 76.8L490.0 76.2L491.0 73.4L492.0 71.3L493.0 68.6L494.0 64.8L495.0 63.1L496.0 59.7L497.0 55.0L498.0 48.9L499.0 42.6L500.0 39.5L501.0 38.0L502.0 37.5L503.0 37.6L504.0 38.0L505.0 39.8L506.0 41.3L507.0 43.1L508.0 45.7L509.0 49.6L510.0 57.5L511.0 64.2L512.0 64.3L513.0 59.6L514.0 56.6L515.0 54.5L516.0 53.4L517.0 55.4L518.0 56.3L519.0 58.1L520.0 60.5L521.0 65.6L521.1 65.6" stroke="#d04d73" stroke-width="1.3"/>
<path d="M369.0 64.0L370.0 66.1L371.0 67.4L372.0 68.7L373.0 69.4L374.0 70.4L375.0 70.3L376.0 70.2L377.0 69.8L378.0 68.8L379.0 67.5L380.0 66.9L381.0 64.6L382.0 62.8L383.0 60.8L384.0 58.6L385.0 56.3L386.0 55.3L387.0 53.4L388.0 52.1L389.0 52.1L390.0 51.3L391.0 51.1L392.0 50.4L393.0 52.0L394.0 52.3L395.0 53.4L396.0 55.5L397.0 57.1L398.0 58.4L399.0 59.9L400.0 61.1L401.0 61.3L402.0 61.9L403.0 62.0L404.0 61.2L405.0 59.6L406.0 59.0L407.0 56.7L408.0 55.4L409.0 54.1L410.0 51.6L411.0 49.6L412.0 48.5L413.0 48.0L414.0 46.4L415.0 45.2L416.0 45.4L417.0 46.3L418.0 47.1L419.0 49.0L420.0 50.1L421.0 52.8L422.0 54.7L423.0 57.3L424.0 59.3L425.0 61.4L426.0 61.5L427.0 60.9L428.0 59.2L429.0 57.9L430.0 55.1L431.0 52.2L432.0 49.2L433.0 47.9L434.0 46.6L435.0 46.1L436.0 46.5L437.0 47.8L438.0 48.7L439.0 49.9L440.0 51.9L441.0 53.1L442.0 54.5L443.0 56.0L444.0 57.3L445.0 58.7L446.0 58.1L447.0 57.7L448.0 56.6L449.0 54.1L450.0 53.0L451.0 51.5L452.0 50.6L453.0 49.1L454.0 47.3L455.0 46.1L456.0 45.6L457.0 44.4L458.0 42.8L459.0 41.9L460.0 41.7L461.0 40.8L462.0 40.9L463.0 41.0L464.0 42.1L465.0 44.1L466.0 45.1L467.0 46.6L468.0 48.1L469.0 48.6L470.0 50.3L471.0 50.7L472.0 50.3L473.0 49.8L474.0 49.5L475.0 48.9L476.0 49.3L477.0 49.8L478.0 51.0L479.0 52.3L480.0 54.5L481.0 56.8L482.0 59.9L483.0 64.8L484.0 68.7L485.0 70.8L486.0 72.7L487.0 74.3L488.0 73.9L489.0 73.8L490.0 73.3L491.0 70.8L492.0 68.5L493.0 66.3L494.0 63.3L495.0 61.0L496.0 59.4L497.0 55.3L498.0 49.5L499.0 45.5L500.0 42.2L501.0 41.5L502.0 41.0L503.0 40.8L504.0 41.0L505.0 41.6L506.0 43.4L507.0 45.2L508.0 46.7L509.0 50.2L510.0 57.6L511.0 62.2L512.0 63.7L513.0 59.0L514.0 55.8L515.0 54.8L516.0 54.2L517.0 55.5L518.0 55.6L519.0 57.4L520.0 59.5L521.0 64.0L521.1 64.8" stroke="#c13b82" stroke-width="1.3"/>
<path d="M369.0 63.4L370.0 64.3L371.0 65.1L372.0 66.2L373.0 67.2L374.0 68.2L375.0 68.5L376.0 68.3L377.0 67.9L378.0 66.4L379.0 66.1L380.0 65.3L381.0 63.4L382.0 61.9L383.0 60.1L384.0 58.5L385.0 56.6L386.0 54.9L387.0 54.2L388.0 53.2L389.0 52.2L390.0 51.4L391.0 51.6L392.0 51.4L393.0 52.6L394.0 53.1L395.0 53.8L396.0 55.6L397.0 57.8L398.0 58.4L399.0 59.2L400.0 60.1L401.0 60.4L402.0 61.4L403.0 60.9L404.0 60.8L405.0 59.8L406.0 58.6L407.0 57.1L408.0 55.7L409.0 54.2L410.0 52.7L411.0 51.3L412.0 50.0L413.0 49.2L414.0 48.3L415.0 47.5L416.0 47.9L417.0 48.5L418.0 49.5L419.0 51.0L420.0 51.8L421.0 53.4L422.0 55.0L423.0 57.4L424.0 58.6L425.0 60.0L426.0 60.6L427.0 59.3L428.0 59.1L429.0 58.0L430.0 55.2L431.0 52.6L432.0 50.9L433.0 49.5L434.0 48.8L435.0 48.7L436.0 49.0L437.0 48.7L438.0 50.0L439.0 51.6L440.0 52.8L441.0 53.6L442.0 55.6L443.0 57.0L444.0 57.7L445.0 58.1L446.0 58.2L447.0 57.1L448.0 56.4L449.0 55.2L450.0 54.7L451.0 52.3L452.0 51.6L453.0 50.9L454.0 49.7L455.0 48.9L456.0 48.1L457.0 46.4L458.0 46.2L459.0 45.2L460.0 45.3L461.0 44.5L462.0 44.1L463.0 44.2L464.0 44.6L465.0 46.2L466.0 46.8L467.0 48.5L468.0 49.5L469.0 50.8L470.0 51.2L471.0 51.3L472.0 51.7L473.0 51.7L474.0 50.7L475.0 51.2L476.0 50.7L477.0 51.2L478.0 52.0L479.0 52.9L480.0 55.2L481.0 56.9L482.0 59.9L483.0 63.0L484.0 66.3L485.0 67.8L486.0 69.9L487.0 70.1L488.0 71.0L489.0 70.0L490.0 69.5L491.0 68.4L492.0 67.0L493.0 65.2L494.0 62.6L495.0 60.9L496.0 59.5L497.0 55.6L498.0 51.2L499.0 47.5L500.0 45.1L501.0 44.1L502.0 43.8L503.0 42.9L504.0 43.9L505.0 45.2L506.0 45.5L507.0 46.6L508.0 49.0L509.0 51.6L510.0 57.5L511.0 61.7L512.0 61.6L513.0 58.7L514.0 56.2L515.0 56.2L516.0 54.8L517.0 55.7L518.0 56.3L519.0 57.6L520.0 60.0L521.0 62.8L521.1 63.4" stroke="#b12a90" stroke-width="1.3"/>
<path d="M369.0 61.4L370.0 62.4L371.0 63.2L372.0 64.7L373.0 65.4L374.0 66.0L375.0 65.8L376.0 66.1L377.0 65.5L378.0 64.9L379.0 64.3L380.0 63.5L381.0 61.8L382.0 60.4L383.0 58.9L384.0 58.2L385.0 56.7L386.0 54.9L387.0 54.6L388.0 54.1L389.0 53.0L390.0 52.8L391.0 53.2L392.0 52.9L393.0 53.0L394.0 54.0L395.0 54.9L396.0 55.8L397.0 57.0L398.0 58.1L399.0 58.8L400.0 59.9L401.0 60.3L402.0 60.5L403.0 60.2L404.0 59.7L405.0 58.5L406.0 58.1L407.0 57.1L408.0 56.0L409.0 55.0L410.0 53.9L411.0 52.0L412.0 51.7L413.0 51.0L414.0 50.1L415.0 49.5L416.0 50.1L417.0 50.4L418.0 51.5L419.0 51.7L420.0 52.8L421.0 54.3L422.0 55.8L423.0 57.6L424.0 59.1L425.0 59.4L426.0 59.3L427.0 59.4L428.0 58.7L429.0 57.5L430.0 55.7L431.0 53.3L432.0 51.6L433.0 51.6L434.0 50.5L435.0 50.0L436.0 50.6L437.0 51.5L438.0 51.7L439.0 53.1L440.0 53.7L441.0 55.2L442.0 55.8L443.0 57.0L444.0 57.3L445.0 57.8L446.0 57.6L447.0 57.2L448.0 56.6L449.0 55.8L450.0 54.6L451.0 53.6L452.0 53.1L453.0 52.6L454.0 51.5L455.0 50.5L456.0 49.7L457.0 49.2L458.0 48.9L459.0 47.5L460.0 47.6L461.0 46.9L462.0 46.5L463.0 46.7L464.0 47.8L465.0 48.2L466.0 49.9L467.0 51.1L468.0 51.2L469.0 51.8L470.0 52.2L471.0 53.1L472.0 52.6L473.0 52.4L474.0 52.2L475.0 52.6L476.0 52.3L477.0 52.6L478.0 52.5L479.0 53.6L480.0 55.1L481.0 56.6L482.0 59.2L483.0 62.5L484.0 64.5L485.0 66.1L486.0 67.1L487.0 68.0L488.0 68.1L489.0 68.0L490.0 67.1L491.0 66.2L492.0 65.1L493.0 63.4L494.0 61.8L495.0 60.0L496.0 58.8L497.0 56.4L498.0 53.2L499.0 49.6L500.0 47.6L501.0 46.7L502.0 46.4L503.0 46.1L504.0 46.8L505.0 47.1L506.0 48.2L507.0 49.0L508.0 50.1L509.0 52.2L510.0 57.4L511.0 60.4L512.0 60.5L513.0 59.0L514.0 56.2L515.0 55.5L516.0 54.9L517.0 55.6L518.0 56.4L519.0 56.9L520.0 59.1L521.0 61.0L521.1 61.3" stroke="#9e199d" stroke-width="1.3"/>
<path d="M369.0 60.6L370.0 61.3L371.0 62.0L372.0 63.1L373.0 63.3L374.0 64.1L375.0 64.2L376.0 64.2L377.0 64.1L378.0 63.3L379.0 63.1L380.0 62.2L381.0 61.1L382.0 59.9L383.0 58.7L384.0 57.9L385.0 57.2L386.0 55.8L387.0 54.9L388.0 54.3L389.0 54.2L390.0 54.0L391.0 53.8L392.0 53.8L393.0 53.8L394.0 55.0L395.0 55.3L396.0 56.4L397.0 57.3L398.0 58.0L399.0 58.8L400.0 59.1L401.0 60.0L402.0 60.1L403.0 60.0L404.0 59.3L405.0 58.9L406.0 58.1L407.0 57.5L408.0 56.5L409.0 55.3L410.0 54.4L411.0 53.7L412.0 53.3L413.0 52.5L414.0 52.0L415.0 51.7L416.0 51.8L417.0 51.9L418.0 52.5L419.0 53.3L420.0 54.3L421.0 54.8L422.0 55.9L423.0 57.2L424.0 58.1L425.0 59.1L426.0 59.3L427.0 58.6L428.0 58.9L429.0 57.6L430.0 56.4L431.0 54.9L432.0 53.1L433.0 52.5L434.0 52.3L435.0 52.1L436.0 52.2L437.0 51.9L438.0 52.8L439.0 53.8L440.0 54.8L441.0 55.5L442.0 55.8L443.0 56.8L444.0 57.4L445.0 57.7L446.0 58.0L447.0 57.8L448.0 57.2L449.0 55.8L450.0 55.0L451.0 54.1L452.0 53.7L453.0 53.2L454.0 52.2L455.0 51.9L456.0 51.3L457.0 50.6L458.0 50.1L459.0 49.3L460.0 48.9L461.0 49.3L462.0 48.8L463.0 49.3L464.0 49.4L465.0 49.7L466.0 51.4L467.0 51.7L468.0 52.5L469.0 53.5L470.0 53.3L471.0 53.8L472.0 54.0L473.0 54.1L474.0 53.2L475.0 53.4L476.0 53.1L477.0 53.9L478.0 53.9L479.0 55.1L480.0 55.4L481.0 57.1L482.0 59.1L483.0 61.1L484.0 62.6L485.0 63.7L486.0 64.3L487.0 65.6L488.0 65.7L489.0 65.5L490.0 64.8L491.0 64.0L492.0 63.3L493.0 62.7L494.0 61.4L495.0 60.3L496.0 58.6L497.0 56.4L498.0 54.3L499.0 51.8L500.0 50.6L501.0 49.3L502.0 49.4L503.0 48.8L504.0 49.2L505.0 49.3L506.0 49.9L507.0 50.7L508.0 51.8L509.0 53.2L510.0 56.6L511.0 59.5L512.0 59.2L513.0 57.7L514.0 56.3L515.0 55.7L516.0 55.9L517.0 55.8L518.0 56.9L519.0 56.5L520.0 58.0L521.0 60.5L521.1 59.9" stroke="#8808a6" stroke-width="1.3"/>
<path d="M369.0 59.6L370.0 60.5L371.0 60.7L372.0 61.0L373.0 61.9L374.0 61.9L375.0 61.5L376.0 61.5L377.0 61.5L378.0 61.1L379.0 61.2L380.0 60.6L381.0 60.0L382.0 59.3L383.0 58.6L384.0 57.1L385.0 56.4L386.0 55.9L387.0 55.7L388.0 55.1L389.0 55.2L390.0 54.9L391.0 54.8L392.0 54.4L393.0 54.8L394.0 55.4L395.0 55.4L396.0 56.3L397.0 57.6L398.0 58.2L399.0 57.8L400.0 58.6L401.0 58.7L402.0 58.7L403.0 59.0L404.0 59.0L405.0 58.6L406.0 57.9L407.0 57.6L408.0 56.4L409.0 55.8L410.0 55.5L411.0 54.8L412.0 53.9L413.0 53.5L414.0 53.6L415.0 53.4L416.0 53.5L417.0 53.7L418.0 54.2L419.0 54.6L420.0 55.3L421.0 55.7L422.0 56.2L423.0 57.3L424.0 57.8L425.0 58.2L426.0 58.6L427.0 58.2L428.0 58.2L429.0 57.6L430.0 56.0L431.0 55.1L432.0 54.2L433.0 53.5L434.0 53.9L435.0 53.5L436.0 53.3L437.0 54.2L438.0 54.3L439.0 55.0L440.0 55.3L441.0 55.5L442.0 56.8L443.0 57.1L444.0 57.3L445.0 58.0L446.0 58.0L447.0 57.5L448.0 57.3L449.0 56.9L450.0 56.2L451.0 55.5L452.0 55.6L453.0 54.7L454.0 54.6L455.0 53.9L456.0 53.4L457.0 53.4L458.0 52.5L459.0 52.4L460.0 52.1L461.0 52.1L462.0 51.6L463.0 51.3L464.0 51.6L465.0 51.9L466.0 52.7L467.0 53.4L468.0 53.8L469.0 54.1L470.0 54.5L471.0 54.5L472.0 54.6L473.0 54.5L474.0 54.9L475.0 54.3L476.0 54.2L477.0 54.4L478.0 54.6L479.0 55.5L480.0 55.6L481.0 57.3L482.0 57.7L483.0 59.6L484.0 61.1L485.0 61.8L486.0 62.5L487.0 62.5L488.0 63.2L489.0 63.0L490.0 63.1L491.0 62.1L492.0 61.5L493.0 60.4L494.0 60.0L495.0 59.0L496.0 58.6L497.0 57.6L498.0 55.1L499.0 53.6L500.0 52.3L501.0 51.8L502.0 51.1L503.0 51.3L504.0 51.5L505.0 52.0L506.0 52.4L507.0 52.5L508.0 53.4L509.0 54.3L510.0 56.5L511.0 58.4L512.0 58.8L513.0 57.5L514.0 56.0L515.0 56.1L516.0 55.8L517.0 56.3L518.0 56.5L519.0 56.6L520.0 57.5L521.0 59.2L521.1 59.4" stroke="#7201a8" stroke-width="1.3"/>
<path d="M369.0 57.8L370.0 57.7L371.0 58.6L372.0 59.2L373.0 59.4L374.0 59.4L375.0 59.8L376.0 59.8L377.0 59.5L378.0 59.4L379.0 58.9L380.0 58.4L381.0 57.8L382.0 57.6L383.0 56.8L384.0 56.1L385.0 56.1L386.0 55.4L387.0 55.0L388.0 55.3L389.0 54.9L390.0 54.8L391.0 54.8L392.0 55.2L393.0 55.3L394.0 55.7L395.0 55.6L396.0 56.8L397.0 56.5L398.0 56.8L399.0 57.4L400.0 57.3L401.0 57.8L402.0 58.1L403.0 58.2L404.0 58.3L405.0 57.7L406.0 57.1L407.0 56.7L408.0 55.9L409.0 56.0L410.0 55.2L411.0 54.9L412.0 54.4L413.0 54.2L414.0 54.1L415.0 54.1L416.0 54.3L417.0 54.9L418.0 54.9L419.0 55.5L420.0 56.0L421.0 56.2L422.0 56.7L423.0 56.3L424.0 57.3L425.0 57.3L426.0 57.7L427.0 57.3L428.0 56.8L429.0 56.5L430.0 56.0L431.0 55.8L432.0 54.8L433.0 54.7L434.0 54.3L435.0 54.5L436.0 54.6L437.0 54.8L438.0 55.0L439.0 55.7L440.0 56.0L441.0 56.2L442.0 56.2L443.0 56.8L444.0 56.9L445.0 57.2L446.0 57.1L447.0 56.8L448.0 57.0L449.0 57.1L450.0 56.6L451.0 56.0L452.0 56.0L453.0 56.1L454.0 55.9L455.0 54.9L456.0 55.2L457.0 55.1L458.0 54.7L459.0 53.8L460.0 53.9L461.0 54.0L462.0 53.8L463.0 53.6L464.0 53.7L465.0 54.2L466.0 54.7L467.0 54.6L468.0 55.1L469.0 55.6L470.0 55.7L471.0 55.4L472.0 55.6L473.0 55.1L474.0 54.9L475.0 54.8L476.0 54.6L477.0 54.9L478.0 55.0L479.0 55.9L480.0 56.1L481.0 56.9L482.0 56.9L483.0 58.3L484.0 58.9L485.0 59.2L486.0 60.2L487.0 60.3L488.0 60.8L489.0 61.2L490.0 60.5L491.0 60.1L492.0 59.6L493.0 58.9L494.0 58.6L495.0 58.0L496.0 57.8L497.0 56.8L498.0 55.8L499.0 54.7L500.0 54.2L501.0 53.2L502.0 53.0L503.0 53.3L504.0 53.1L505.0 52.8L506.0 53.8L507.0 52.8L508.0 53.8L509.0 54.5L510.0 56.0L511.0 56.7L512.0 57.1L513.0 56.6L514.0 56.4L515.0 55.5L516.0 55.7L517.0 56.0L518.0 56.6L519.0 57.1L520.0 57.6L521.0 57.8L521.1 58.2" stroke="#5901a5" stroke-width="1.3"/>
<path d="M369.0 56.5L370.0 56.9L371.0 57.2L372.0 57.1L373.0 57.5L374.0 57.5L375.0 57.9L376.0 57.9L377.0 58.0L378.0 58.1L379.0 57.4L380.0 57.0L381.0 57.0L382.0 56.7L383.0 56.4L384.0 56.3L385.0 56.0L386.0 56.0L387.0 55.7L388.0 55.7L389.0 55.5L390.0 55.9L391.0 55.9L392.0 56.3L393.0 56.4L394.0 56.3L395.0 56.6L396.0 56.8L397.0 56.9L398.0 56.7L399.0 57.1L400.0 57.1L401.0 56.8L402.0 57.1L403.0 57.0L404.0 56.5L405.0 56.3L406.0 56.5L407.0 56.5L408.0 56.4L409.0 55.8L410.0 56.0L411.0 56.3L412.0 56.0L413.0 56.5L414.0 56.5L415.0 56.1L416.0 56.4L417.0 56.6L418.0 56.7L419.0 56.5L420.0 56.7L421.0 56.8L422.0 57.3L423.0 57.2L424.0 57.3L425.0 57.2L426.0 57.2L427.0 57.1L428.0 56.8L429.0 56.5L430.0 56.5L431.0 56.2L432.0 56.0L433.0 55.8L434.0 55.6L435.0 56.0L436.0 55.8L437.0 55.9L438.0 56.1L439.0 56.1L440.0 56.6L441.0 56.9L442.0 56.6L443.0 56.8L444.0 57.0L445.0 57.0L446.0 57.1L447.0 57.1L448.0 56.8L449.0 57.0L450.0 56.3L451.0 56.4L452.0 56.8L453.0 56.4L454.0 56.5L455.0 56.6L456.0 56.6L457.0 55.9L458.0 55.9L459.0 55.9L460.0 55.8L461.0 56.0L462.0 55.4L463.0 55.9L464.0 55.8L465.0 56.2L466.0 55.6L467.0 56.2L468.0 56.0L469.0 56.0L470.0 56.3L471.0 56.4L472.0 55.9L473.0 56.3L474.0 56.1L475.0 56.0L476.0 56.0L477.0 56.1L478.0 56.0L479.0 56.2L480.0 55.8L481.0 56.6L482.0 56.7L483.0 56.8L484.0 57.3L485.0 57.3L486.0 57.7L487.0 58.0L488.0 57.9L489.0 57.3L490.0 58.3L491.0 58.0L492.0 58.2L493.0 57.8L494.0 57.9L495.0 57.8L496.0 57.9L497.0 57.8L498.0 57.3L499.0 56.9L500.0 56.8L501.0 56.5L502.0 56.2L503.0 55.7L504.0 55.7L505.0 55.2L506.0 55.2L507.0 55.5L508.0 54.8L509.0 55.0L510.0 55.2L511.0 56.4L512.0 56.1L513.0 56.1L514.0 56.0L515.0 56.0L516.0 55.9L517.0 56.3L518.0 56.1L519.0 56.6L520.0 57.0L521.0 57.4L521.1 56.7" stroke="#41049d" stroke-width="1.3"/>
<path d="M369.0 83.0L370.0 85.0L371.0 86.7L372.0 88.1L373.0 89.2L374.0 90.2L375.0 91.0L376.0 91.3L377.0 90.4L378.0 88.4L379.0 85.9L380.0 83.1L381.0 79.6L382.0 75.3L383.0 70.8L384.0 66.7L385.0 62.5L386.0 58.5L387.0 55.2L388.0 52.4L389.0 50.1L390.0 48.4L391.0 47.0L392.0 46.7L393.0 48.2L394.0 51.1L395.0 54.5L396.0 59.8L397.0 65.3L398.0 70.3L399.0 75.0L400.0 78.0L401.0 80.3L402.0 81.5L403.0 80.9L404.0 78.8L405.0 76.0L406.0 71.3L407.0 66.2L408.0 62.1L409.0 59.5L410.0 57.4L411.0 51.8L412.0 45.0L413.0 38.6L414.0 33.0L415.0 28.6L416.0 25.3L417.0 25.2L418.0 27.3L419.0 30.0L420.0 33.9L421.0 40.0L422.0 46.5L423.0 52.8L424.0 58.1L425.0 62.3L426.0 64.2L427.0 63.8L428.0 60.9L429.0 56.7L430.0 51.6L431.0 46.7L432.0 42.3L433.0 38.5L434.0 36.9L435.0 36.1L436.0 36.3L437.0 38.1L438.0 40.9L439.0 45.0L440.0 49.5L441.0 54.7L442.0 59.8L443.0 64.9L444.0 69.6L445.0 74.4L446.0 76.5L447.0 73.4L448.0 68.2L449.0 62.6L450.0 56.2L451.0 50.2L452.0 44.2L453.0 38.6L454.0 33.3L455.0 28.1L456.0 22.8L457.0 17.3L458.0 13.0L459.0 9.5L460.0 8.6L461.0 8.3L462.0 8.8L463.0 10.7L464.0 13.8L465.0 19.5L466.0 26.2L467.0 34.8L468.0 40.8L469.0 44.1L470.0 46.0L471.0 47.0L472.0 47.5L473.0 47.1L474.0 46.0L475.0 44.4L476.0 43.0L477.0 44.1L478.0 46.3L479.0 50.2L480.0 54.4L481.0 63.1L482.0 80.2L483.0 88.2L484.0 93.2L485.0 97.0L486.0 100.1L487.0 102.2L488.0 103.6L489.0 104.3L490.0 103.1L491.0 99.9L492.0 95.6L493.0 89.3L494.0 81.5L495.0 72.0L496.0 64.0L497.0 58.2L498.0 49.4L499.0 39.0L500.0 33.0L501.0 29.7L502.0 26.6L503.0 25.5L504.0 26.6L505.0 28.8L506.0 31.7L507.0 36.6L508.0 45.0L509.0 52.7L510.0 62.9L511.0 83.7L512.0 78.5L513.0 66.5L514.0 52.9L515.0 46.6L516.0 45.2L517.0 50.0L518.0 56.2L519.0 64.1L520.0 73.7L521.0 84.8L521.1 86.0" stroke="#000" stroke-width="1.5" stroke-dasharray="5.2 2.2" stroke-linecap="butt"/>
</g>
<g clip-path="url(#cpa2)" fill="none" stroke-linejoin="round" stroke-linecap="round">
<path d="M40.7 164.1L41.7 170.3L42.7 175.7L43.7 180.0L44.7 186.0L45.7 193.4L46.7 197.9L47.7 203.0L48.7 208.1L49.7 213.3L50.7 218.6L51.7 222.8L52.7 227.2L53.7 231.9L54.7 236.2L55.7 239.9L56.7 239.6L57.7 235.1L58.7 229.4L59.7 225.0L60.7 221.1L61.7 216.4L62.7 212.5L63.7 208.4L64.7 204.1L65.7 201.3L66.7 197.2L67.7 193.8L68.7 190.9L69.7 188.9L70.7 185.8L71.7 181.6L72.7 177.7L73.7 173.4L74.7 170.8L75.7 168.7L76.7 165.9L77.7 163.8L78.7 162.2L79.7 161.6L80.7 161.4L81.7 160.1L82.7 160.7L83.7 159.1L84.7 158.6L85.7 157.3L86.7 156.4L87.7 156.6L88.7 156.0L89.7 160.3L90.7 162.2L91.7 158.9L92.7 158.0L93.7 158.4L94.7 158.0L95.7 158.7L96.7 157.8L97.7 158.1L98.7 159.0L99.7 160.2L100.7 161.9L101.7 165.4L102.7 169.2L103.7 172.4L104.7 176.1L105.7 180.8L106.7 184.6L107.7 189.5L108.7 193.3L109.7 198.0L110.7 202.4L111.7 205.9L112.7 210.4L113.7 214.5L114.7 218.7L115.7 222.8L116.7 226.5L117.7 230.4L118.7 234.9L119.7 237.8L120.7 239.4L121.7 240.7L122.7 240.6L123.7 238.6L124.7 234.5L125.7 231.1L126.7 228.0L127.7 224.7L128.7 220.7L129.7 216.6L130.7 213.2L131.7 209.7L132.7 205.2L133.7 201.6L134.7 198.6L135.7 194.1L136.7 191.2L137.7 186.8L138.7 182.2L139.7 178.0L140.7 176.4L141.7 174.7L142.7 173.4L143.7 172.9L144.7 172.5L145.7 171.8L146.7 170.6L147.7 170.9L148.7 170.2L149.7 170.5L150.7 170.5L151.7 169.5L152.7 170.6L153.7 168.8L154.7 169.4L155.7 168.5L156.7 168.8L157.7 169.3L158.7 168.8L159.7 168.5L160.7 167.2L161.7 166.7L162.7 167.4L163.7 170.6L164.7 171.3L165.7 172.1L166.7 174.2L167.7 176.0L168.7 178.4L169.7 179.9L170.7 181.6L171.7 184.3L172.7 187.1L173.7 189.4L174.7 191.9L175.7 194.9L176.7 199.4L177.7 202.4L178.7 204.9L179.7 208.2L180.7 212.7L181.7 215.6L182.7 220.1L183.7 223.2L184.7 227.0L185.7 230.4L186.7 234.1L187.7 237.2L188.7 238.9L189.7 240.8L190.7 240.4L191.7 240.5L192.7 241.3L192.8 240.5" stroke="#fdae32" stroke-width="1.5"/>
<path d="M40.7 181.2L41.7 182.5L42.7 187.4L43.7 190.4L44.7 198.0L45.7 202.8L46.7 207.6L47.7 210.9L48.7 214.0L49.7 219.5L50.7 221.9L51.7 225.8L52.7 230.1L53.7 234.8L54.7 235.9L55.7 243.0L56.7 238.8L57.7 234.2L58.7 231.7L59.7 227.3L60.7 225.6L61.7 222.5L62.7 217.4L63.7 215.6L64.7 211.3L65.7 209.2L66.7 205.7L67.7 203.5L68.7 201.5L69.7 200.2L70.7 195.9L71.7 194.1L72.7 191.7L73.7 186.6L74.7 186.2L75.7 182.7L76.7 181.6L77.7 180.0L78.7 177.9L79.7 178.6L80.7 178.0L81.7 176.7L82.7 176.2L83.7 175.8L84.7 175.5L85.7 174.5L86.7 171.9L87.7 173.4L88.7 173.1L89.7 175.8L90.7 176.5L91.7 173.5L92.7 174.4L93.7 173.3L94.7 173.5L95.7 176.6L96.7 172.7L97.7 172.4L98.7 175.5L99.7 173.8L100.7 176.6L101.7 179.3L102.7 181.7L103.7 186.8L104.7 188.5L105.7 192.1L106.7 194.8L107.7 197.9L108.7 202.2L109.7 207.8L110.7 209.4L111.7 213.5L112.7 216.8L113.7 218.7L114.7 223.7L115.7 225.5L116.7 227.5L117.7 231.0L118.7 236.8L119.7 240.5L120.7 240.3L121.7 241.4L122.7 239.1L123.7 235.6L124.7 237.7L125.7 234.4L126.7 229.1L127.7 228.1L128.7 224.7L129.7 221.6L130.7 217.5L131.7 215.8L132.7 212.9L133.7 207.7L134.7 206.6L135.7 201.9L136.7 201.2L137.7 197.5L138.7 194.7L139.7 190.6L140.7 186.8L141.7 186.3L142.7 186.6L143.7 186.4L144.7 186.4L145.7 183.5L146.7 184.3L147.7 186.7L148.7 184.2L149.7 183.1L150.7 182.1L151.7 184.2L152.7 184.5L153.7 182.7L154.7 184.2L155.7 184.4L156.7 184.5L157.7 183.6L158.7 182.3L159.7 181.4L160.7 182.8L161.7 180.3L162.7 183.8L163.7 184.2L164.7 184.5L165.7 184.2L166.7 186.6L167.7 187.4L168.7 189.4L169.7 192.7L170.7 196.2L171.7 194.7L172.7 196.8L173.7 201.7L174.7 201.9L175.7 204.8L176.7 206.6L177.7 211.5L178.7 212.4L179.7 215.6L180.7 218.5L181.7 222.3L182.7 224.1L183.7 226.1L184.7 230.3L185.7 232.5L186.7 233.4L187.7 237.1L188.7 237.9L189.7 240.0L190.7 240.0L191.7 240.3L192.7 239.0L192.8 241.2" stroke="#f9983e" stroke-width="1.3"/>
<path d="M40.7 192.8L41.7 196.5L42.7 199.5L43.7 204.0L44.7 206.6L45.7 211.6L46.7 213.6L47.7 217.8L48.7 220.7L49.7 223.8L50.7 226.8L51.7 229.8L52.7 233.6L53.7 236.3L54.7 238.7L55.7 240.3L56.7 239.3L57.7 236.3L58.7 233.4L59.7 230.9L60.7 227.9L61.7 224.9L62.7 222.5L63.7 221.5L64.7 217.8L65.7 216.1L66.7 213.6L67.7 212.2L68.7 209.8L69.7 209.2L70.7 206.5L71.7 203.0L72.7 201.5L73.7 198.4L74.7 197.2L75.7 196.7L76.7 193.4L77.7 193.8L78.7 192.1L79.7 192.3L80.7 191.1L81.7 191.7L82.7 190.8L83.7 191.3L84.7 189.8L85.7 188.2L86.7 188.5L87.7 187.9L88.7 189.2L89.7 189.7L90.7 189.9L91.7 190.6L92.7 188.1L93.7 187.0L94.7 187.6L95.7 187.7L96.7 188.1L97.7 190.5L98.7 188.6L99.7 190.0L100.7 191.0L101.7 191.8L102.7 193.4L103.7 198.9L104.7 199.1L105.7 201.4L106.7 205.5L107.7 206.9L108.7 209.9L109.7 214.0L110.7 215.6L111.7 219.0L112.7 221.2L113.7 225.5L114.7 225.4L115.7 226.9L116.7 231.9L117.7 234.3L118.7 239.6L119.7 239.1L120.7 240.0L121.7 241.1L122.7 240.6L123.7 239.6L124.7 236.2L125.7 234.8L126.7 234.3L127.7 229.6L128.7 227.9L129.7 226.2L130.7 224.1L131.7 221.0L132.7 219.1L133.7 216.8L134.7 213.9L135.7 210.9L136.7 209.8L137.7 206.5L138.7 203.5L139.7 202.2L140.7 200.2L141.7 198.0L142.7 196.8L143.7 197.0L144.7 197.5L145.7 197.5L146.7 196.7L147.7 198.4L148.7 196.4L149.7 195.6L150.7 196.3L151.7 197.1L152.7 196.6L153.7 196.4L154.7 197.2L155.7 196.9L156.7 197.2L157.7 195.4L158.7 195.8L159.7 195.4L160.7 195.1L161.7 196.5L162.7 195.8L163.7 196.8L164.7 196.3L165.7 198.1L166.7 199.9L167.7 200.7L168.7 201.0L169.7 203.7L170.7 204.5L171.7 206.9L172.7 208.0L173.7 209.8L174.7 209.9L175.7 212.2L176.7 215.7L177.7 219.5L178.7 219.5L179.7 221.4L180.7 222.8L181.7 227.2L182.7 228.0L183.7 230.0L184.7 232.7L185.7 234.2L186.7 237.2L187.7 238.7L188.7 239.8L189.7 239.2L190.7 239.7L191.7 240.5L192.7 238.9L192.8 240.1" stroke="#f2844b" stroke-width="1.3"/>
<path d="M40.7 204.9L41.7 204.0L42.7 208.0L43.7 210.7L44.7 214.2L45.7 216.8L46.7 219.2L47.7 222.2L48.7 224.4L49.7 228.9L50.7 229.5L51.7 232.5L52.7 235.2L53.7 236.9L54.7 238.5L55.7 240.3L56.7 239.9L57.7 237.1L58.7 235.1L59.7 234.3L60.7 232.1L61.7 228.3L62.7 227.6L63.7 224.8L64.7 222.7L65.7 220.8L66.7 220.0L67.7 217.0L68.7 215.4L69.7 215.6L70.7 211.7L71.7 210.8L72.7 209.6L73.7 207.5L74.7 205.8L75.7 206.2L76.7 204.7L77.7 202.9L78.7 202.5L79.7 201.1L80.7 200.6L81.7 201.6L82.7 201.6L83.7 199.3L84.7 200.9L85.7 200.7L86.7 199.3L87.7 197.3L88.7 198.6L89.7 199.6L90.7 201.7L91.7 199.3L92.7 198.5L93.7 197.7L94.7 198.2L95.7 198.4L96.7 197.1L97.7 197.8L98.7 197.6L99.7 199.7L100.7 199.9L101.7 200.8L102.7 204.1L103.7 205.2L104.7 206.8L105.7 208.8L106.7 212.4L107.7 213.7L108.7 214.5L109.7 217.7L110.7 220.3L111.7 221.0L112.7 225.9L113.7 228.4L114.7 228.9L115.7 232.5L116.7 234.1L117.7 236.1L118.7 237.3L119.7 241.0L120.7 240.5L121.7 240.0L122.7 241.2L123.7 239.6L124.7 237.2L125.7 236.9L126.7 234.9L127.7 231.2L128.7 230.8L129.7 229.2L130.7 227.6L131.7 225.8L132.7 223.0L133.7 221.1L134.7 218.1L135.7 217.0L136.7 214.7L137.7 214.1L138.7 211.9L139.7 208.1L140.7 205.7L141.7 207.0L142.7 207.1L143.7 205.6L144.7 204.3L145.7 205.7L146.7 204.4L147.7 205.0L148.7 204.7L149.7 205.4L150.7 203.7L151.7 205.7L152.7 205.0L153.7 206.4L154.7 203.8L155.7 202.8L156.7 204.4L157.7 203.2L158.7 204.2L159.7 202.4L160.7 204.4L161.7 203.8L162.7 204.7L163.7 204.8L164.7 204.6L165.7 207.4L166.7 208.4L167.7 209.6L168.7 209.0L169.7 210.6L170.7 212.0L171.7 212.3L172.7 213.9L173.7 215.2L174.7 217.2L175.7 216.7L176.7 221.1L177.7 221.6L178.7 223.2L179.7 224.3L180.7 227.3L181.7 228.9L182.7 230.3L183.7 232.8L184.7 233.5L185.7 236.4L186.7 236.6L187.7 238.6L188.7 241.5L189.7 239.9L190.7 240.0L191.7 240.6L192.7 240.9L192.8 241.2" stroke="#e87059" stroke-width="1.3"/>
<path d="M40.7 209.3L41.7 213.3L42.7 212.4L43.7 216.1L44.7 219.0L45.7 220.3L46.7 223.8L47.7 225.6L48.7 225.4L49.7 231.0L50.7 232.4L51.7 234.0L52.7 235.0L53.7 237.2L54.7 238.6L55.7 240.0L56.7 241.1L57.7 236.7L58.7 234.4L59.7 233.9L60.7 233.2L61.7 230.2L62.7 229.8L63.7 227.0L64.7 225.7L65.7 224.2L66.7 223.1L67.7 221.9L68.7 220.0L69.7 218.2L70.7 216.6L71.7 217.0L72.7 214.6L73.7 213.7L74.7 211.2L75.7 211.1L76.7 210.4L77.7 209.8L78.7 208.0L79.7 208.5L80.7 206.3L81.7 207.0L82.7 206.3L83.7 205.8L84.7 206.3L85.7 206.4L86.7 204.8L87.7 204.6L88.7 204.3L89.7 206.1L90.7 207.6L91.7 206.5L92.7 203.9L93.7 205.3L94.7 205.1L95.7 204.3L96.7 203.3L97.7 204.5L98.7 203.8L99.7 205.4L100.7 206.1L101.7 208.0L102.7 208.4L103.7 210.5L104.7 211.7L105.7 214.1L106.7 215.2L107.7 217.2L108.7 218.6L109.7 221.5L110.7 223.5L111.7 226.8L112.7 227.8L113.7 229.3L114.7 232.2L115.7 233.9L116.7 234.6L117.7 236.9L118.7 238.3L119.7 239.6L120.7 240.4L121.7 240.5L122.7 240.2L123.7 240.0L124.7 238.0L125.7 235.6L126.7 235.1L127.7 234.8L128.7 232.6L129.7 231.2L130.7 229.2L131.7 226.7L132.7 224.5L133.7 222.9L134.7 222.3L135.7 220.5L136.7 219.3L137.7 217.1L138.7 217.1L139.7 212.8L140.7 213.5L141.7 211.6L142.7 212.5L143.7 212.5L144.7 212.2L145.7 211.7L146.7 210.9L147.7 209.3L148.7 209.1L149.7 210.6L150.7 211.0L151.7 209.3L152.7 211.2L153.7 210.3L154.7 209.4L155.7 210.4L156.7 211.9L157.7 209.6L158.7 210.2L159.7 210.1L160.7 209.4L161.7 210.5L162.7 211.0L163.7 211.1L164.7 212.5L165.7 212.1L166.7 213.3L167.7 212.7L168.7 215.3L169.7 215.2L170.7 214.9L171.7 217.2L172.7 217.1L173.7 218.4L174.7 221.0L175.7 222.3L176.7 222.5L177.7 222.9L178.7 226.3L179.7 226.3L180.7 229.2L181.7 230.8L182.7 232.1L183.7 234.9L184.7 235.5L185.7 236.3L186.7 237.4L187.7 239.1L188.7 240.2L189.7 239.3L190.7 240.3L191.7 240.6L192.7 239.4L192.8 239.6" stroke="#dd5e66" stroke-width="1.3"/>
<path d="M40.7 215.3L41.7 216.5L42.7 218.2L43.7 219.5L44.7 221.2L45.7 224.3L46.7 226.4L47.7 228.4L48.7 227.5L49.7 231.6L50.7 233.6L51.7 234.2L52.7 236.6L53.7 237.3L54.7 238.8L55.7 239.4L56.7 240.7L57.7 238.7L58.7 236.5L59.7 235.0L60.7 234.1L61.7 233.5L62.7 232.1L63.7 229.7L64.7 227.6L65.7 227.3L66.7 224.5L67.7 225.7L68.7 224.0L69.7 222.1L70.7 221.2L71.7 219.5L72.7 218.9L73.7 216.8L74.7 216.5L75.7 215.0L76.7 213.5L77.7 214.0L78.7 213.1L79.7 212.3L80.7 211.8L81.7 212.2L82.7 212.1L83.7 211.6L84.7 211.4L85.7 211.2L86.7 210.3L87.7 211.2L88.7 210.7L89.7 212.3L90.7 211.6L91.7 210.8L92.7 210.7L93.7 210.4L94.7 209.8L95.7 209.7L96.7 210.5L97.7 210.7L98.7 211.2L99.7 210.2L100.7 211.5L101.7 212.5L102.7 213.6L103.7 214.9L104.7 216.1L105.7 218.2L106.7 219.9L107.7 220.3L108.7 222.2L109.7 223.5L110.7 226.0L111.7 227.3L112.7 229.7L113.7 232.1L114.7 232.5L115.7 235.1L116.7 235.9L117.7 237.2L118.7 238.7L119.7 239.8L120.7 240.8L121.7 241.9L122.7 240.7L123.7 239.6L124.7 239.5L125.7 238.1L126.7 235.9L127.7 235.7L128.7 233.5L129.7 232.5L130.7 231.4L131.7 229.1L132.7 227.9L133.7 227.0L134.7 224.3L135.7 223.7L136.7 221.3L137.7 221.3L138.7 219.2L139.7 216.9L140.7 216.3L141.7 215.1L142.7 215.9L143.7 215.1L144.7 215.5L145.7 215.9L146.7 214.8L147.7 214.4L148.7 216.0L149.7 214.7L150.7 215.9L151.7 215.4L152.7 215.9L153.7 214.8L154.7 213.9L155.7 214.7L156.7 215.1L157.7 216.2L158.7 214.3L159.7 215.1L160.7 213.8L161.7 214.4L162.7 215.7L163.7 216.2L164.7 216.4L165.7 216.7L166.7 217.6L167.7 218.6L168.7 218.6L169.7 219.4L170.7 220.4L171.7 221.3L172.7 220.7L173.7 222.6L174.7 223.5L175.7 224.9L176.7 225.7L177.7 228.0L178.7 228.9L179.7 229.6L180.7 232.8L181.7 232.6L182.7 234.2L183.7 234.8L184.7 236.3L185.7 237.9L186.7 237.8L187.7 238.4L188.7 241.5L189.7 239.3L190.7 239.6L191.7 240.5L192.7 240.2L192.8 240.7" stroke="#d04d73" stroke-width="1.3"/>
<path d="M40.7 217.4L41.7 219.8L42.7 221.8L43.7 223.2L44.7 223.7L45.7 226.5L46.7 229.2L47.7 229.8L48.7 230.9L49.7 232.0L50.7 235.0L51.7 237.3L52.7 236.5L53.7 238.9L54.7 239.5L55.7 239.8L56.7 239.4L57.7 239.2L58.7 237.4L59.7 235.7L60.7 235.2L61.7 234.1L62.7 234.3L63.7 231.3L64.7 229.7L65.7 228.5L66.7 228.5L67.7 227.7L68.7 226.1L69.7 226.0L70.7 224.5L71.7 223.2L72.7 221.9L73.7 221.2L74.7 220.5L75.7 219.3L76.7 218.2L77.7 217.6L78.7 218.5L79.7 217.0L80.7 218.4L81.7 216.2L82.7 216.9L83.7 216.5L84.7 215.5L85.7 214.8L86.7 215.1L87.7 216.1L88.7 214.6L89.7 216.5L90.7 216.8L91.7 216.0L92.7 213.5L93.7 214.4L94.7 213.3L95.7 214.9L96.7 214.9L97.7 215.1L98.7 214.9L99.7 215.4L100.7 215.8L101.7 216.2L102.7 217.8L103.7 217.7L104.7 219.6L105.7 220.1L106.7 221.7L107.7 223.6L108.7 225.8L109.7 226.2L110.7 228.3L111.7 229.5L112.7 231.9L113.7 233.0L114.7 233.7L115.7 236.0L116.7 236.8L117.7 237.8L118.7 240.2L119.7 240.0L120.7 240.0L121.7 239.2L122.7 239.6L123.7 240.6L124.7 236.8L125.7 238.7L126.7 236.3L127.7 235.1L128.7 235.4L129.7 232.4L130.7 232.0L131.7 230.5L132.7 229.8L133.7 229.5L134.7 228.8L135.7 225.3L136.7 224.5L137.7 225.7L138.7 222.9L139.7 222.3L140.7 221.5L141.7 220.0L142.7 219.1L143.7 220.0L144.7 219.5L145.7 220.1L146.7 219.3L147.7 220.6L148.7 217.9L149.7 217.9L150.7 218.7L151.7 218.2L152.7 219.1L153.7 218.5L154.7 219.9L155.7 219.1L156.7 219.3L157.7 218.6L158.7 218.9L159.7 218.5L160.7 218.1L161.7 218.9L162.7 217.7L163.7 219.2L164.7 219.5L165.7 221.2L166.7 220.8L167.7 220.4L168.7 222.1L169.7 223.1L170.7 223.8L171.7 224.8L172.7 225.4L173.7 226.0L174.7 227.4L175.7 227.2L176.7 228.9L177.7 229.6L178.7 230.6L179.7 231.6L180.7 232.1L181.7 233.3L182.7 234.5L183.7 234.1L184.7 236.9L185.7 238.4L186.7 238.5L187.7 239.3L188.7 240.1L189.7 241.2L190.7 240.2L191.7 241.3L192.7 239.7L192.8 240.2" stroke="#c13b82" stroke-width="1.3"/>
<path d="M40.7 222.0L41.7 224.3L42.7 225.0L43.7 226.6L44.7 228.4L45.7 229.2L46.7 231.1L47.7 231.8L48.7 233.2L49.7 234.2L50.7 234.7L51.7 236.1L52.7 237.4L53.7 239.2L54.7 239.2L55.7 239.9L56.7 240.5L57.7 239.8L58.7 238.1L59.7 236.9L60.7 235.1L61.7 235.4L62.7 234.8L63.7 233.0L64.7 232.3L65.7 230.8L66.7 230.1L67.7 229.8L68.7 228.8L69.7 228.5L70.7 227.6L71.7 226.3L72.7 225.2L73.7 225.2L74.7 223.4L75.7 223.8L76.7 222.7L77.7 221.6L78.7 221.4L79.7 221.5L80.7 223.1L81.7 221.4L82.7 220.6L83.7 221.8L84.7 220.2L85.7 219.7L86.7 220.5L87.7 220.6L88.7 221.0L89.7 220.9L90.7 220.3L91.7 220.0L92.7 220.3L93.7 220.3L94.7 218.6L95.7 220.0L96.7 218.7L97.7 218.0L98.7 219.1L99.7 219.0L100.7 218.4L101.7 219.3L102.7 221.0L103.7 222.1L104.7 222.1L105.7 224.6L106.7 224.5L107.7 225.6L108.7 227.7L109.7 229.3L110.7 229.7L111.7 231.1L112.7 232.8L113.7 234.7L114.7 234.9L115.7 236.2L116.7 236.9L117.7 237.4L118.7 239.8L119.7 239.9L120.7 241.1L121.7 240.4L122.7 241.5L123.7 240.3L124.7 240.0L125.7 237.8L126.7 237.3L127.7 236.4L128.7 237.0L129.7 235.1L130.7 233.6L131.7 231.5L132.7 231.3L133.7 231.7L134.7 229.6L135.7 229.3L136.7 226.9L137.7 227.1L138.7 226.2L139.7 224.6L140.7 223.1L141.7 222.7L142.7 223.5L143.7 222.3L144.7 221.9L145.7 222.8L146.7 222.0L147.7 222.0L148.7 222.6L149.7 222.7L150.7 221.9L151.7 222.8L152.7 223.6L153.7 223.2L154.7 223.5L155.7 223.4L156.7 222.9L157.7 223.0L158.7 222.2L159.7 222.2L160.7 222.2L161.7 222.0L162.7 224.1L163.7 224.2L164.7 222.8L165.7 224.5L166.7 224.7L167.7 225.3L168.7 225.8L169.7 226.7L170.7 225.9L171.7 226.7L172.7 227.6L173.7 229.0L174.7 229.1L175.7 229.9L176.7 230.6L177.7 232.1L178.7 232.5L179.7 233.9L180.7 235.1L181.7 235.2L182.7 235.1L183.7 235.8L184.7 237.3L185.7 238.4L186.7 239.0L187.7 240.0L188.7 240.3L189.7 241.3L190.7 240.6L191.7 241.4L192.7 240.8L192.8 240.4" stroke="#b12a90" stroke-width="1.3"/>
<path d="M40.7 226.8L41.7 226.4L42.7 228.7L43.7 230.2L44.7 231.4L45.7 231.5L46.7 232.4L47.7 234.5L48.7 234.0L49.7 235.7L50.7 236.5L51.7 237.7L52.7 238.9L53.7 240.0L54.7 238.8L55.7 240.4L56.7 239.3L57.7 239.2L58.7 237.7L59.7 237.7L60.7 236.7L61.7 236.5L62.7 235.8L63.7 234.8L64.7 234.4L65.7 233.9L66.7 232.5L67.7 232.0L68.7 230.9L69.7 230.3L70.7 230.6L71.7 230.4L72.7 228.8L73.7 227.2L74.7 227.1L75.7 227.2L76.7 226.7L77.7 225.7L78.7 226.0L79.7 225.7L80.7 224.7L81.7 224.8L82.7 225.7L83.7 224.7L84.7 224.8L85.7 225.4L86.7 224.9L87.7 224.6L88.7 223.2L89.7 224.2L90.7 224.7L91.7 223.9L92.7 224.0L93.7 223.8L94.7 223.8L95.7 223.8L96.7 222.8L97.7 222.1L98.7 223.1L99.7 222.8L100.7 223.1L101.7 223.2L102.7 224.3L103.7 226.5L104.7 224.8L105.7 227.1L106.7 227.8L107.7 229.0L108.7 229.2L109.7 230.6L110.7 231.4L111.7 232.7L112.7 233.8L113.7 236.2L114.7 236.9L115.7 237.6L116.7 238.3L117.7 238.6L118.7 238.9L119.7 240.5L120.7 240.0L121.7 240.4L122.7 240.1L123.7 240.0L124.7 239.3L125.7 239.7L126.7 239.2L127.7 237.6L128.7 237.1L129.7 236.0L130.7 235.4L131.7 234.2L132.7 233.8L133.7 231.9L134.7 230.6L135.7 232.3L136.7 230.4L137.7 229.5L138.7 228.7L139.7 227.4L140.7 227.3L141.7 226.0L142.7 226.0L143.7 227.0L144.7 226.3L145.7 225.7L146.7 225.3L147.7 227.2L148.7 226.8L149.7 226.5L150.7 225.4L151.7 225.9L152.7 225.6L153.7 225.2L154.7 226.0L155.7 226.1L156.7 227.6L157.7 225.6L158.7 227.0L159.7 226.5L160.7 226.7L161.7 226.4L162.7 227.1L163.7 226.8L164.7 227.9L165.7 228.0L166.7 227.4L167.7 228.2L168.7 229.8L169.7 230.2L170.7 229.1L171.7 230.3L172.7 231.5L173.7 231.3L174.7 231.2L175.7 232.6L176.7 233.0L177.7 232.6L178.7 234.4L179.7 234.8L180.7 235.7L181.7 237.1L182.7 237.8L183.7 238.4L184.7 239.1L185.7 238.2L186.7 238.8L187.7 240.2L188.7 240.4L189.7 240.8L190.7 240.3L191.7 241.0L192.7 241.6L192.8 240.6" stroke="#9e199d" stroke-width="1.3"/>
<path d="M40.7 229.0L41.7 230.7L42.7 231.5L43.7 232.6L44.7 232.9L45.7 234.9L46.7 235.5L47.7 236.6L48.7 234.8L49.7 236.7L50.7 238.1L51.7 238.6L52.7 239.3L53.7 239.6L54.7 240.8L55.7 240.5L56.7 240.5L57.7 241.4L58.7 239.1L59.7 239.2L60.7 238.1L61.7 237.9L62.7 236.9L63.7 236.8L64.7 236.4L65.7 235.1L66.7 234.4L67.7 233.8L68.7 233.2L69.7 234.1L70.7 233.8L71.7 231.3L72.7 231.3L73.7 231.3L74.7 231.3L75.7 229.7L76.7 229.8L77.7 229.8L78.7 230.0L79.7 228.8L80.7 229.8L81.7 228.6L82.7 229.6L83.7 228.6L84.7 228.5L85.7 228.9L86.7 228.5L87.7 228.5L88.7 227.8L89.7 228.1L90.7 228.9L91.7 228.7L92.7 227.5L93.7 227.3L94.7 226.4L95.7 227.7L96.7 226.3L97.7 226.6L98.7 227.0L99.7 224.7L100.7 226.3L101.7 226.1L102.7 227.2L103.7 228.0L104.7 227.8L105.7 229.9L106.7 231.4L107.7 230.6L108.7 231.5L109.7 233.3L110.7 233.6L111.7 233.8L112.7 235.7L113.7 236.1L114.7 238.0L115.7 237.7L116.7 239.5L117.7 238.7L118.7 239.9L119.7 239.3L120.7 242.1L121.7 240.8L122.7 240.6L123.7 240.6L124.7 240.0L125.7 239.7L126.7 240.2L127.7 239.3L128.7 237.5L129.7 237.3L130.7 236.5L131.7 236.1L132.7 234.6L133.7 234.4L134.7 233.1L135.7 233.6L136.7 232.2L137.7 232.5L138.7 231.0L139.7 229.3L140.7 230.7L141.7 228.4L142.7 231.0L143.7 230.3L144.7 230.2L145.7 230.2L146.7 229.9L147.7 229.2L148.7 228.9L149.7 229.4L150.7 228.0L151.7 229.7L152.7 229.4L153.7 229.6L154.7 229.3L155.7 228.7L156.7 229.7L157.7 229.4L158.7 229.4L159.7 229.7L160.7 230.1L161.7 230.4L162.7 229.2L163.7 230.2L164.7 229.3L165.7 230.0L166.7 230.3L167.7 231.1L168.7 231.5L169.7 232.1L170.7 232.3L171.7 232.5L172.7 232.2L173.7 233.6L174.7 233.2L175.7 234.6L176.7 234.6L177.7 236.4L178.7 235.1L179.7 236.4L180.7 237.2L181.7 236.9L182.7 237.5L183.7 239.1L184.7 239.3L185.7 239.4L186.7 239.4L187.7 239.8L188.7 239.5L189.7 241.5L190.7 240.6L191.7 241.0L192.7 241.4L192.8 241.1" stroke="#8808a6" stroke-width="1.3"/>
<path d="M40.7 232.7L41.7 234.8L42.7 234.9L43.7 235.1L44.7 236.1L45.7 236.9L46.7 236.5L47.7 237.5L48.7 237.6L49.7 238.2L50.7 239.2L51.7 239.0L52.7 239.1L53.7 239.9L54.7 241.3L55.7 241.5L56.7 241.2L57.7 241.1L58.7 239.7L59.7 239.0L60.7 238.5L61.7 238.8L62.7 238.4L63.7 237.1L64.7 238.6L65.7 237.4L66.7 235.8L67.7 235.3L68.7 236.0L69.7 235.7L70.7 234.7L71.7 234.9L72.7 234.5L73.7 234.1L74.7 234.5L75.7 232.9L76.7 233.3L77.7 232.5L78.7 233.0L79.7 232.9L80.7 233.9L81.7 232.1L82.7 232.7L83.7 232.4L84.7 232.4L85.7 231.8L86.7 231.3L87.7 231.4L88.7 231.1L89.7 232.3L90.7 231.6L91.7 232.0L92.7 230.4L93.7 229.7L94.7 230.1L95.7 230.0L96.7 231.1L97.7 229.2L98.7 230.1L99.7 229.5L100.7 229.4L101.7 230.5L102.7 230.2L103.7 231.9L104.7 231.7L105.7 232.3L106.7 232.3L107.7 233.2L108.7 234.0L109.7 233.8L110.7 234.9L111.7 235.4L112.7 236.5L113.7 237.6L114.7 237.3L115.7 238.9L116.7 239.0L117.7 240.2L118.7 239.6L119.7 240.3L120.7 240.5L121.7 241.3L122.7 240.7L123.7 241.3L124.7 240.6L125.7 239.3L126.7 238.7L127.7 238.9L128.7 238.9L129.7 238.0L130.7 237.1L131.7 237.4L132.7 236.6L133.7 235.8L134.7 235.9L135.7 235.1L136.7 233.8L137.7 234.0L138.7 233.6L139.7 232.3L140.7 231.7L141.7 232.7L142.7 232.8L143.7 232.1L144.7 232.2L145.7 231.7L146.7 232.2L147.7 231.5L148.7 232.1L149.7 232.4L150.7 232.0L151.7 232.4L152.7 232.5L153.7 233.2L154.7 232.3L155.7 231.9L156.7 232.3L157.7 232.3L158.7 233.0L159.7 233.5L160.7 232.2L161.7 232.9L162.7 233.2L163.7 233.0L164.7 233.3L165.7 233.1L166.7 234.4L167.7 234.4L168.7 233.7L169.7 234.6L170.7 234.1L171.7 235.2L172.7 235.8L173.7 234.6L174.7 235.7L175.7 236.1L176.7 237.7L177.7 237.2L178.7 237.6L179.7 237.5L180.7 237.9L181.7 238.6L182.7 238.7L183.7 239.2L184.7 239.2L185.7 239.0L186.7 240.1L187.7 240.3L188.7 239.7L189.7 240.0L190.7 240.2L191.7 241.3L192.7 240.9L192.8 241.4" stroke="#7201a8" stroke-width="1.3"/>
<path d="M40.7 237.9L41.7 237.2L42.7 237.9L43.7 237.5L44.7 238.4L45.7 238.5L46.7 238.1L47.7 239.6L48.7 239.3L49.7 239.7L50.7 238.9L51.7 240.4L52.7 239.9L53.7 240.7L54.7 240.0L55.7 241.3L56.7 240.5L57.7 240.5L58.7 240.0L59.7 239.2L60.7 239.7L61.7 240.2L62.7 240.0L63.7 239.0L64.7 239.6L65.7 238.7L66.7 238.0L67.7 238.4L68.7 238.3L69.7 238.6L70.7 236.9L71.7 238.3L72.7 238.0L73.7 237.7L74.7 236.5L75.7 236.3L76.7 237.4L77.7 236.7L78.7 237.2L79.7 236.1L80.7 236.9L81.7 236.8L82.7 235.8L83.7 236.3L84.7 237.2L85.7 235.8L86.7 236.6L87.7 235.8L88.7 235.2L89.7 235.3L90.7 234.9L91.7 235.9L92.7 234.0L93.7 233.9L94.7 234.3L95.7 234.6L96.7 233.2L97.7 233.2L98.7 233.3L99.7 233.2L100.7 233.4L101.7 233.2L102.7 233.7L103.7 234.3L104.7 233.7L105.7 233.8L106.7 234.5L107.7 235.3L108.7 236.9L109.7 236.5L110.7 236.9L111.7 235.9L112.7 237.1L113.7 239.0L114.7 239.0L115.7 239.4L116.7 240.4L117.7 240.8L118.7 240.8L119.7 240.7L120.7 239.8L121.7 240.6L122.7 241.1L123.7 240.5L124.7 239.7L125.7 239.0L126.7 239.8L127.7 240.0L128.7 239.1L129.7 239.1L130.7 239.2L131.7 238.5L132.7 238.4L133.7 237.8L134.7 237.5L135.7 237.7L136.7 237.3L137.7 236.5L138.7 235.4L139.7 235.9L140.7 235.9L141.7 235.8L142.7 235.8L143.7 235.4L144.7 235.3L145.7 235.7L146.7 235.8L147.7 235.9L148.7 235.2L149.7 234.8L150.7 236.0L151.7 236.0L152.7 236.1L153.7 236.3L154.7 235.3L155.7 235.8L156.7 236.5L157.7 236.0L158.7 236.2L159.7 237.1L160.7 236.8L161.7 236.2L162.7 236.7L163.7 236.4L164.7 237.0L165.7 236.3L166.7 236.3L167.7 238.0L168.7 237.9L169.7 237.1L170.7 237.9L171.7 236.7L172.7 238.0L173.7 238.7L174.7 238.7L175.7 238.6L176.7 238.7L177.7 239.0L178.7 240.0L179.7 239.0L180.7 239.5L181.7 239.9L182.7 239.3L183.7 240.6L184.7 239.1L185.7 240.1L186.7 240.1L187.7 240.4L188.7 239.9L189.7 240.4L190.7 240.7L191.7 240.2L192.7 241.0L192.8 239.7" stroke="#5901a5" stroke-width="1.3"/>
<path d="M40.7 240.2L41.7 240.7L42.7 240.5L43.7 240.4L44.7 241.0L45.7 240.1L46.7 241.0L47.7 240.1L48.7 240.7L49.7 241.1L50.7 240.5L51.7 240.8L52.7 241.8L53.7 240.9L54.7 240.9L55.7 241.1L56.7 241.1L57.7 240.8L58.7 240.7L59.7 240.9L60.7 240.9L61.7 241.3L62.7 240.7L63.7 241.0L64.7 241.5L65.7 239.8L66.7 240.4L67.7 240.4L68.7 240.4L69.7 241.0L70.7 240.2L71.7 240.4L72.7 241.1L73.7 239.3L74.7 239.7L75.7 239.7L76.7 240.2L77.7 240.4L78.7 239.8L79.7 240.8L80.7 240.8L81.7 239.7L82.7 239.8L83.7 239.5L84.7 240.2L85.7 239.6L86.7 240.1L87.7 240.0L88.7 239.3L89.7 238.7L90.7 237.7L91.7 238.7L92.7 238.6L93.7 238.1L94.7 237.5L95.7 238.1L96.7 237.4L97.7 237.4L98.7 237.3L99.7 237.2L100.7 237.0L101.7 236.0L102.7 236.9L103.7 236.8L104.7 236.7L105.7 236.7L106.7 236.8L107.7 237.2L108.7 237.4L109.7 237.9L110.7 237.4L111.7 238.4L112.7 239.7L113.7 240.3L114.7 240.1L115.7 240.3L116.7 241.5L117.7 240.2L118.7 241.2L119.7 241.2L120.7 241.0L121.7 241.3L122.7 241.1L123.7 240.7L124.7 241.0L125.7 241.8L126.7 240.7L127.7 240.9L128.7 241.3L129.7 239.9L130.7 240.2L131.7 239.7L132.7 240.1L133.7 239.6L134.7 240.2L135.7 239.3L136.7 239.5L137.7 239.0L138.7 238.9L139.7 238.0L140.7 238.8L141.7 238.3L142.7 238.2L143.7 238.0L144.7 238.6L145.7 238.2L146.7 238.2L147.7 238.6L148.7 237.7L149.7 239.3L150.7 238.7L151.7 239.4L152.7 238.5L153.7 238.2L154.7 238.7L155.7 239.4L156.7 239.9L157.7 240.0L158.7 240.0L159.7 239.2L160.7 239.4L161.7 239.9L162.7 240.1L163.7 239.4L164.7 239.5L165.7 239.3L166.7 240.6L167.7 239.7L168.7 240.3L169.7 240.2L170.7 240.5L171.7 239.6L172.7 240.4L173.7 240.8L174.7 240.7L175.7 240.3L176.7 240.9L177.7 240.7L178.7 240.4L179.7 240.6L180.7 241.6L181.7 240.4L182.7 239.9L183.7 240.9L184.7 241.0L185.7 240.8L186.7 240.6L187.7 241.1L188.7 241.5L189.7 241.3L190.7 239.7L191.7 240.2L192.7 240.7L192.8 239.6" stroke="#41049d" stroke-width="1.3"/>
<path d="M40.7 174.6L41.7 178.0L42.7 183.0L43.7 186.9L44.7 192.2L45.7 196.7L46.7 201.6L47.7 206.4L48.7 210.9L49.7 215.5L50.7 219.1L51.7 224.5L52.7 228.5L53.7 232.5L54.7 236.4L55.7 239.6L56.7 239.4L57.7 234.6L58.7 230.2L59.7 225.9L60.7 222.1L61.7 216.9L62.7 213.5L63.7 208.8L64.7 206.2L65.7 203.1L66.7 199.8L67.7 197.5L68.7 193.4L69.7 190.9L70.7 187.7L71.7 184.6L72.7 181.6L73.7 179.5L74.7 177.2L75.7 174.8L76.7 173.4L77.7 170.5L78.7 169.3L79.7 168.0L80.7 166.0L81.7 165.6L82.7 166.3L83.7 164.8L84.7 164.8L85.7 164.3L86.7 166.1L87.7 166.9L88.7 168.3L89.7 168.7L90.7 168.3L91.7 168.9L92.7 169.0L93.7 167.7L94.7 167.9L95.7 167.8L96.7 169.1L97.7 169.6L98.7 171.5L99.7 172.7L100.7 173.2L101.7 175.9L102.7 180.8L103.7 183.1L104.7 187.0L105.7 191.6L106.7 194.0L107.7 198.0L108.7 201.3L109.7 203.0L110.7 207.3L111.7 211.4L112.7 215.2L113.7 219.7L114.7 222.9L115.7 227.0L116.7 230.1L117.7 234.0L118.7 236.4L119.7 238.3L120.7 240.3L121.7 241.0L122.7 240.1L123.7 238.2L124.7 235.0L125.7 232.3L126.7 229.7L127.7 226.8L128.7 222.8L129.7 218.4L130.7 215.6L131.7 210.9L132.7 206.8L133.7 203.1L134.7 200.2L135.7 196.1L136.7 194.3L137.7 191.4L138.7 190.0L139.7 187.0L140.7 185.0L141.7 183.3L142.7 182.4L143.7 181.9L144.7 180.3L145.7 178.8L146.7 179.0L147.7 178.5L148.7 178.1L149.7 177.7L150.7 177.3L151.7 176.7L152.7 177.9L153.7 177.2L154.7 176.8L155.7 176.3L156.7 176.3L157.7 176.8L158.7 177.6L159.7 177.7L160.7 178.2L161.7 179.0L162.7 178.8L163.7 178.9L164.7 179.3L165.7 179.8L166.7 181.8L167.7 183.4L168.7 183.2L169.7 184.6L170.7 186.5L171.7 187.3L172.7 190.0L173.7 193.2L174.7 194.6L175.7 197.0L176.7 200.1L177.7 202.9L178.7 204.4L179.7 207.1L180.7 210.1L181.7 213.6L182.7 215.9L183.7 220.5L184.7 223.7L185.7 227.7L186.7 231.3L187.7 233.0L188.7 238.0L189.7 239.6L190.7 239.9L191.7 240.7L192.7 240.9L192.8 241.6" stroke="#000" stroke-width="1.5" stroke-dasharray="5.2 2.2" stroke-linecap="butt"/>
</g>
<g clip-path="url(#cpb2)" fill="none" stroke-linejoin="round" stroke-linecap="round">
<path d="M204.8 217.3L205.8 216.7L206.8 216.1L207.8 219.1L208.8 222.1L209.8 225.3L210.8 228.4L211.8 230.4L212.8 233.9L213.8 236.4L214.8 238.2L215.8 238.1L216.8 239.7L217.8 238.7L218.8 238.0L219.8 237.3L220.8 235.4L221.8 233.0L222.8 230.8L223.8 228.9L224.8 227.8L225.8 226.7L226.8 225.4L227.8 223.8L228.8 223.1L229.8 223.6L230.8 225.0L231.8 226.9L232.8 228.0L233.8 230.0L234.8 232.3L235.8 234.5L236.8 236.7L237.8 238.1L238.8 238.8L239.8 239.4L240.8 237.0L241.8 230.5L242.8 223.7L243.8 214.3L244.8 207.0L245.8 199.4L246.8 193.8L247.8 187.5L248.8 181.9L249.8 176.7L250.8 171.9L251.8 168.9L252.8 169.5L253.8 169.6L254.8 169.0L255.8 166.9L256.8 163.6L257.8 162.0L258.8 161.5L259.8 159.9L260.8 161.2L261.8 163.5L262.8 166.4L263.8 169.6L264.8 175.0L265.8 182.9L266.8 189.6L267.8 195.5L268.8 198.5L269.8 205.4L270.8 213.3L271.8 221.8L272.8 229.5L273.8 236.0L274.8 240.4L275.8 239.1L276.8 239.1L277.8 239.4L278.8 239.2L279.8 242.5L280.8 245.2L281.8 246.3L282.8 245.3L283.8 243.7L284.8 242.3L285.8 240.1L286.8 239.2L287.8 237.4L288.8 235.6L289.8 235.0L290.8 231.4L291.8 229.4L292.8 226.5L293.8 223.5L294.8 220.3L295.8 216.2L296.8 212.8L297.8 207.7L298.8 204.3L299.8 198.7L300.8 192.4L301.8 185.7L302.8 178.5L303.8 172.1L304.8 171.9L305.8 178.9L306.8 186.2L307.8 193.9L308.8 199.4L309.8 203.7L310.8 208.8L311.8 216.7L312.8 225.1L313.8 233.8L314.8 239.2L315.8 238.3L316.8 236.5L317.8 234.2L318.8 231.3L319.8 229.1L320.8 224.7L321.8 217.6L322.8 209.7L323.8 202.8L324.8 196.3L325.8 190.8L326.8 186.8L327.8 182.9L328.8 180.7L329.8 181.1L330.8 183.1L331.8 184.1L332.8 184.4L333.8 185.2L334.8 185.6L335.8 187.8L336.8 187.2L337.8 188.1L338.8 190.0L339.8 191.0L340.8 191.4L341.8 193.6L342.8 198.0L343.8 202.8L344.8 210.4L345.8 217.1L346.8 224.4L347.8 229.9L348.8 234.4L349.8 237.1L350.8 239.6L351.8 240.7L352.8 241.2L353.8 241.2L354.8 241.6L355.8 241.3L356.8 242.1L356.9 241.0" stroke="#fdae32" stroke-width="1.5"/>
<path d="M204.8 222.1L205.8 220.3L206.8 221.1L207.8 223.0L208.8 226.0L209.8 229.6L210.8 229.6L211.8 232.3L212.8 235.2L213.8 236.9L214.8 238.9L215.8 241.2L216.8 240.7L217.8 239.4L218.8 239.9L219.8 238.9L220.8 238.7L221.8 234.0L222.8 233.7L223.8 232.9L224.8 231.5L225.8 230.0L226.8 228.3L227.8 227.5L228.8 227.0L229.8 228.4L230.8 229.4L231.8 229.6L232.8 230.4L233.8 232.8L234.8 232.8L235.8 238.5L236.8 237.1L237.8 239.3L238.8 239.6L239.8 239.8L240.8 238.1L241.8 231.6L242.8 228.7L243.8 220.0L244.8 211.9L245.8 209.1L246.8 203.4L247.8 198.1L248.8 193.5L249.8 187.8L250.8 187.0L251.8 183.1L252.8 182.7L253.8 181.8L254.8 181.7L255.8 179.4L256.8 178.1L257.8 176.6L258.8 175.5L259.8 175.0L260.8 176.5L261.8 178.1L262.8 179.6L263.8 183.8L264.8 187.5L265.8 193.8L266.8 200.2L267.8 204.1L268.8 208.9L269.8 210.9L270.8 216.6L271.8 223.7L272.8 230.5L273.8 238.7L274.8 243.0L275.8 238.0L276.8 240.8L277.8 239.6L278.8 242.0L279.8 242.6L280.8 243.9L281.8 246.1L282.8 245.4L283.8 243.5L284.8 240.1L285.8 240.9L286.8 239.7L287.8 238.5L288.8 237.0L289.8 236.3L290.8 233.8L291.8 230.6L292.8 230.0L293.8 225.9L294.8 225.0L295.8 222.0L296.8 220.2L297.8 215.6L298.8 212.2L299.8 208.1L300.8 202.0L301.8 197.1L302.8 191.1L303.8 183.8L304.8 184.8L305.8 192.4L306.8 198.5L307.8 204.7L308.8 208.4L309.8 208.6L310.8 214.4L311.8 219.8L312.8 226.8L313.8 236.1L314.8 239.4L315.8 238.3L316.8 236.4L317.8 234.6L318.8 232.4L319.8 230.0L320.8 228.9L321.8 221.9L322.8 213.7L323.8 209.2L324.8 204.2L325.8 198.9L326.8 196.9L327.8 193.0L328.8 192.6L329.8 193.4L330.8 194.0L331.8 194.6L332.8 196.3L333.8 197.4L334.8 198.6L335.8 198.3L336.8 197.1L337.8 200.7L338.8 198.5L339.8 199.7L340.8 203.8L341.8 203.4L342.8 208.7L343.8 211.0L344.8 215.9L345.8 219.8L346.8 228.0L347.8 233.2L348.8 236.3L349.8 241.0L350.8 240.9L351.8 241.3L352.8 242.2L353.8 241.9L354.8 242.1L355.8 240.7L356.8 239.6L356.9 241.2" stroke="#f9983e" stroke-width="1.3"/>
<path d="M204.8 226.0L205.8 225.0L206.8 224.1L207.8 227.0L208.8 229.8L209.8 230.0L210.8 233.8L211.8 234.3L212.8 236.2L213.8 239.6L214.8 239.3L215.8 241.0L216.8 241.3L217.8 240.7L218.8 241.6L219.8 239.9L220.8 239.1L221.8 237.2L222.8 234.0L223.8 232.7L224.8 233.2L225.8 233.0L226.8 233.8L227.8 232.8L228.8 231.2L229.8 231.7L230.8 232.4L231.8 233.4L232.8 234.1L233.8 234.2L234.8 236.7L235.8 237.9L236.8 238.5L237.8 241.1L238.8 240.7L239.8 241.2L240.8 238.4L241.8 232.5L242.8 230.4L243.8 223.4L244.8 218.3L245.8 213.6L246.8 209.5L247.8 207.0L248.8 202.2L249.8 198.1L250.8 195.3L251.8 194.3L252.8 193.8L253.8 194.4L254.8 195.0L255.8 192.7L256.8 190.7L257.8 190.2L258.8 187.5L259.8 189.6L260.8 190.8L261.8 189.3L262.8 192.5L263.8 195.5L264.8 198.5L265.8 203.9L266.8 208.5L267.8 211.9L268.8 214.7L269.8 218.0L270.8 223.7L271.8 228.0L272.8 233.2L273.8 237.2L274.8 240.2L275.8 240.9L276.8 239.6L277.8 239.4L278.8 239.4L279.8 242.7L280.8 243.6L281.8 243.6L282.8 244.5L283.8 242.8L284.8 242.4L285.8 240.8L286.8 240.1L287.8 238.4L288.8 237.4L289.8 238.3L290.8 235.5L291.8 232.9L292.8 233.0L293.8 230.9L294.8 228.7L295.8 225.7L296.8 223.6L297.8 220.8L298.8 216.1L299.8 214.8L300.8 209.6L301.8 207.5L302.8 201.9L303.8 196.3L304.8 196.8L305.8 201.3L306.8 205.6L307.8 210.6L308.8 213.3L309.8 218.7L310.8 221.2L311.8 225.6L312.8 232.1L313.8 236.3L314.8 243.0L315.8 238.8L316.8 239.6L317.8 235.5L318.8 234.5L319.8 233.0L320.8 232.0L321.8 225.6L322.8 221.2L323.8 214.0L324.8 210.2L325.8 208.1L326.8 204.9L327.8 204.0L328.8 202.1L329.8 203.4L330.8 203.5L331.8 203.5L332.8 206.5L333.8 204.8L334.8 205.2L335.8 207.6L336.8 207.3L337.8 208.0L338.8 208.5L339.8 210.6L340.8 209.3L341.8 210.2L342.8 214.2L343.8 216.5L344.8 221.9L345.8 227.1L346.8 232.6L347.8 234.4L348.8 236.3L349.8 238.7L350.8 241.5L351.8 241.1L352.8 242.9L353.8 240.8L354.8 241.3L355.8 242.9L356.8 240.9L356.9 240.8" stroke="#f2844b" stroke-width="1.3"/>
<path d="M204.8 228.2L205.8 227.6L206.8 228.3L207.8 229.6L208.8 230.7L209.8 233.4L210.8 235.5L211.8 237.3L212.8 237.1L213.8 238.3L214.8 239.0L215.8 239.9L216.8 239.6L217.8 240.7L218.8 242.2L219.8 239.7L220.8 239.1L221.8 237.2L222.8 236.9L223.8 235.9L224.8 235.6L225.8 235.0L226.8 233.6L227.8 235.0L228.8 235.2L229.8 233.6L230.8 234.2L231.8 234.7L232.8 235.9L233.8 237.6L234.8 236.9L235.8 237.6L236.8 241.5L237.8 240.6L238.8 241.0L239.8 239.6L240.8 239.5L241.8 236.5L242.8 231.6L243.8 226.3L244.8 225.3L245.8 219.9L246.8 215.6L247.8 212.9L248.8 210.3L249.8 206.4L250.8 203.9L251.8 202.7L252.8 203.7L253.8 203.9L254.8 202.9L255.8 201.3L256.8 200.5L257.8 199.3L258.8 197.7L259.8 198.2L260.8 198.8L261.8 199.3L262.8 201.0L263.8 202.2L264.8 205.7L265.8 209.8L266.8 214.6L267.8 217.8L268.8 219.5L269.8 222.2L270.8 226.1L271.8 230.1L272.8 235.0L273.8 239.0L274.8 240.8L275.8 238.9L276.8 240.5L277.8 240.0L278.8 240.9L279.8 242.3L280.8 244.7L281.8 245.2L282.8 244.6L283.8 243.0L284.8 240.8L285.8 242.0L286.8 240.3L287.8 240.3L288.8 238.6L289.8 238.7L290.8 238.2L291.8 236.0L292.8 234.0L293.8 233.4L294.8 231.0L295.8 227.9L296.8 227.5L297.8 223.6L298.8 221.6L299.8 220.6L300.8 217.3L301.8 212.1L302.8 207.7L303.8 204.7L304.8 205.7L305.8 207.9L306.8 212.8L307.8 214.7L308.8 219.7L309.8 220.4L310.8 223.6L311.8 229.0L312.8 233.2L313.8 237.1L314.8 239.6L315.8 240.9L316.8 237.1L317.8 237.3L318.8 235.9L319.8 234.7L320.8 231.9L321.8 228.5L322.8 224.1L323.8 219.6L324.8 216.5L325.8 213.6L326.8 211.2L327.8 210.0L328.8 208.0L329.8 209.7L330.8 210.0L331.8 210.7L332.8 213.0L333.8 213.0L334.8 212.1L335.8 213.8L336.8 214.6L337.8 216.1L338.8 215.2L339.8 215.6L340.8 216.4L341.8 218.3L342.8 218.9L343.8 221.7L344.8 224.9L345.8 229.5L346.8 234.0L347.8 236.0L348.8 240.0L349.8 240.5L350.8 240.1L351.8 240.3L352.8 240.5L353.8 241.2L354.8 239.6L355.8 241.7L356.8 242.0L356.9 239.8" stroke="#e87059" stroke-width="1.3"/>
<path d="M204.8 229.1L205.8 229.0L206.8 228.6L207.8 230.6L208.8 231.6L209.8 233.2L210.8 235.7L211.8 235.6L212.8 238.4L213.8 238.2L214.8 239.0L215.8 239.8L216.8 240.6L217.8 241.6L218.8 240.8L219.8 241.0L220.8 241.1L221.8 238.0L222.8 237.3L223.8 237.1L224.8 235.1L225.8 236.9L226.8 235.6L227.8 235.8L228.8 235.1L229.8 235.6L230.8 234.4L231.8 237.3L232.8 236.1L233.8 236.7L234.8 239.1L235.8 238.9L236.8 240.1L237.8 240.0L238.8 241.8L239.8 240.1L240.8 238.2L241.8 236.4L242.8 232.3L243.8 229.3L244.8 225.7L245.8 223.1L246.8 220.3L247.8 217.6L248.8 215.4L249.8 212.4L250.8 209.1L251.8 208.5L252.8 208.3L253.8 210.7L254.8 209.0L255.8 207.6L256.8 204.8L257.8 205.1L258.8 206.0L259.8 204.2L260.8 204.2L261.8 206.5L262.8 206.6L263.8 209.1L264.8 211.3L265.8 214.2L266.8 219.7L267.8 219.5L268.8 223.1L269.8 225.2L270.8 228.9L271.8 232.3L272.8 237.0L273.8 238.8L274.8 237.6L275.8 240.7L276.8 240.2L277.8 240.7L278.8 241.0L279.8 241.4L280.8 243.0L281.8 243.4L282.8 243.6L283.8 242.9L284.8 242.7L285.8 240.9L286.8 239.9L287.8 239.2L288.8 239.1L289.8 239.2L290.8 237.2L291.8 236.8L292.8 234.9L293.8 233.6L294.8 232.7L295.8 231.2L296.8 229.5L297.8 227.2L298.8 224.3L299.8 222.1L300.8 218.3L301.8 215.4L302.8 212.4L303.8 211.0L304.8 209.9L305.8 214.1L306.8 216.0L307.8 220.3L308.8 222.5L309.8 224.5L310.8 226.4L311.8 230.5L312.8 235.1L313.8 238.1L314.8 239.7L315.8 239.1L316.8 238.9L317.8 237.5L318.8 236.6L319.8 235.3L320.8 234.7L321.8 230.7L322.8 226.2L323.8 222.7L324.8 219.8L325.8 218.8L326.8 215.0L327.8 211.8L328.8 212.8L329.8 213.8L330.8 213.8L331.8 215.4L332.8 217.6L333.8 217.5L334.8 218.0L335.8 216.9L336.8 218.1L337.8 218.7L338.8 219.3L339.8 221.3L340.8 221.6L341.8 221.2L342.8 223.8L343.8 225.1L344.8 229.3L345.8 230.6L346.8 235.9L347.8 236.8L348.8 240.6L349.8 241.2L350.8 240.6L351.8 240.7L352.8 240.2L353.8 240.4L354.8 240.5L355.8 240.6L356.8 241.6L356.9 240.8" stroke="#dd5e66" stroke-width="1.3"/>
<path d="M204.8 231.0L205.8 231.3L206.8 231.5L207.8 231.8L208.8 234.6L209.8 234.4L210.8 236.8L211.8 237.9L212.8 238.6L213.8 239.8L214.8 240.7L215.8 242.4L216.8 241.4L217.8 240.8L218.8 241.8L219.8 241.6L220.8 240.2L221.8 240.1L222.8 239.8L223.8 236.8L224.8 238.2L225.8 237.1L226.8 236.7L227.8 236.7L228.8 236.8L229.8 236.2L230.8 236.8L231.8 236.5L232.8 237.8L233.8 238.3L234.8 238.3L235.8 239.2L236.8 241.0L237.8 239.6L238.8 241.2L239.8 241.1L240.8 239.6L241.8 237.7L242.8 233.0L243.8 232.1L244.8 227.5L245.8 226.3L246.8 224.0L247.8 220.5L248.8 219.1L249.8 216.8L250.8 214.7L251.8 213.5L252.8 213.7L253.8 212.3L254.8 211.6L255.8 212.8L256.8 209.7L257.8 209.3L258.8 210.1L259.8 209.1L260.8 209.7L261.8 210.8L262.8 213.0L263.8 213.9L264.8 215.7L265.8 220.0L266.8 222.0L267.8 223.9L268.8 225.8L269.8 227.3L270.8 229.7L271.8 233.1L272.8 236.3L273.8 240.1L274.8 241.3L275.8 239.1L276.8 239.6L277.8 240.5L278.8 240.9L279.8 242.0L280.8 242.8L281.8 244.3L282.8 243.6L283.8 241.8L284.8 241.7L285.8 241.6L286.8 241.2L287.8 240.0L288.8 239.1L289.8 240.5L290.8 238.2L291.8 237.6L292.8 236.0L293.8 237.0L294.8 235.2L295.8 232.3L296.8 231.6L297.8 229.1L298.8 228.0L299.8 225.8L300.8 223.5L301.8 221.4L302.8 216.5L303.8 215.1L304.8 214.2L305.8 217.9L306.8 219.6L307.8 224.4L308.8 225.6L309.8 225.7L310.8 229.2L311.8 231.0L312.8 235.4L313.8 238.4L314.8 239.4L315.8 239.9L316.8 239.3L317.8 239.0L318.8 236.7L319.8 237.2L320.8 234.9L321.8 231.5L322.8 228.9L323.8 225.3L324.8 222.8L325.8 221.1L326.8 219.5L327.8 217.9L328.8 216.0L329.8 217.0L330.8 218.3L331.8 219.0L332.8 219.8L333.8 220.0L334.8 219.9L335.8 220.8L336.8 220.1L337.8 222.3L338.8 223.3L339.8 222.6L340.8 224.6L341.8 224.8L342.8 225.7L343.8 228.6L344.8 231.2L345.8 233.8L346.8 236.1L347.8 238.6L348.8 239.7L349.8 241.1L350.8 240.4L351.8 240.9L352.8 240.6L353.8 241.5L354.8 242.1L355.8 240.4L356.8 240.8L356.9 240.4" stroke="#d04d73" stroke-width="1.3"/>
<path d="M204.8 233.1L205.8 232.0L206.8 233.1L207.8 233.8L208.8 235.1L209.8 235.5L210.8 236.5L211.8 238.3L212.8 239.6L213.8 239.8L214.8 241.2L215.8 240.7L216.8 242.0L217.8 241.8L218.8 241.2L219.8 240.8L220.8 241.0L221.8 240.4L222.8 239.5L223.8 238.5L224.8 239.4L225.8 238.9L226.8 237.2L227.8 237.7L228.8 238.3L229.8 238.3L230.8 237.3L231.8 238.1L232.8 238.3L233.8 240.1L234.8 239.0L235.8 239.8L236.8 239.8L237.8 240.9L238.8 240.3L239.8 240.6L240.8 238.1L241.8 237.7L242.8 235.5L243.8 232.8L244.8 228.7L245.8 227.4L246.8 226.1L247.8 223.6L248.8 221.5L249.8 219.5L250.8 217.8L251.8 217.0L252.8 217.0L253.8 217.1L254.8 215.9L255.8 215.2L256.8 214.6L257.8 214.7L258.8 214.0L259.8 214.6L260.8 212.6L261.8 214.8L262.8 215.9L263.8 216.5L264.8 218.8L265.8 221.8L266.8 225.2L267.8 225.6L268.8 228.3L269.8 229.8L270.8 232.8L271.8 235.1L272.8 237.1L273.8 240.8L274.8 240.0L275.8 241.0L276.8 240.1L277.8 241.0L278.8 240.7L279.8 242.6L280.8 244.5L281.8 243.9L282.8 243.8L283.8 241.8L284.8 241.1L285.8 240.1L286.8 240.3L287.8 239.8L288.8 240.5L289.8 240.3L290.8 238.5L291.8 238.0L292.8 236.4L293.8 236.1L294.8 235.6L295.8 234.6L296.8 232.1L297.8 231.8L298.8 229.9L299.8 228.0L300.8 226.3L301.8 222.7L302.8 220.0L303.8 218.9L304.8 219.6L305.8 221.8L306.8 220.8L307.8 225.8L308.8 227.2L309.8 228.0L310.8 230.9L311.8 233.4L312.8 236.7L313.8 237.6L314.8 239.8L315.8 240.0L316.8 240.6L317.8 240.0L318.8 238.7L319.8 237.9L320.8 235.5L321.8 233.4L322.8 230.6L323.8 227.7L324.8 224.7L325.8 223.7L326.8 222.4L327.8 219.2L328.8 219.8L329.8 221.8L330.8 220.7L331.8 221.6L332.8 222.3L333.8 222.3L334.8 225.0L335.8 225.2L336.8 224.9L337.8 226.9L338.8 224.7L339.8 226.2L340.8 226.9L341.8 227.0L342.8 229.0L343.8 230.9L344.8 232.5L345.8 235.9L346.8 238.6L347.8 238.8L348.8 240.2L349.8 240.4L350.8 239.5L351.8 240.5L352.8 240.9L353.8 242.0L354.8 240.6L355.8 240.7L356.8 242.0L356.9 240.8" stroke="#c13b82" stroke-width="1.3"/>
<path d="M204.8 231.5L205.8 232.9L206.8 233.2L207.8 235.1L208.8 235.9L209.8 238.8L210.8 237.2L211.8 238.5L212.8 239.7L213.8 242.1L214.8 240.3L215.8 242.6L216.8 240.9L217.8 241.3L218.8 242.5L219.8 240.7L220.8 240.2L221.8 240.3L222.8 240.5L223.8 239.0L224.8 239.7L225.8 238.7L226.8 238.2L227.8 239.1L228.8 240.2L229.8 239.6L230.8 238.5L231.8 238.4L232.8 239.5L233.8 239.9L234.8 239.0L235.8 240.9L236.8 240.3L237.8 241.0L238.8 241.2L239.8 241.2L240.8 239.9L241.8 237.9L242.8 235.5L243.8 233.8L244.8 232.7L245.8 229.2L246.8 227.3L247.8 225.2L248.8 224.9L249.8 222.8L250.8 220.8L251.8 221.2L252.8 220.8L253.8 220.5L254.8 219.4L255.8 219.6L256.8 217.4L257.8 217.7L258.8 218.3L259.8 217.8L260.8 217.6L261.8 218.5L262.8 219.3L263.8 220.2L264.8 222.1L265.8 224.0L266.8 226.3L267.8 228.6L268.8 228.5L269.8 230.5L270.8 232.8L271.8 235.2L272.8 236.6L273.8 240.0L274.8 241.6L275.8 242.2L276.8 239.8L277.8 240.6L278.8 240.6L279.8 241.8L280.8 243.4L281.8 243.0L282.8 242.0L283.8 242.3L284.8 243.0L285.8 241.4L286.8 242.0L287.8 240.7L288.8 240.7L289.8 241.2L290.8 238.8L291.8 239.9L292.8 239.1L293.8 237.2L294.8 237.1L295.8 235.3L296.8 234.5L297.8 233.0L298.8 231.1L299.8 231.2L300.8 229.4L301.8 226.2L302.8 224.6L303.8 222.7L304.8 222.2L305.8 225.2L306.8 226.6L307.8 227.3L308.8 228.2L309.8 230.8L310.8 232.9L311.8 234.8L312.8 236.9L313.8 238.8L314.8 240.4L315.8 241.1L316.8 240.3L317.8 238.9L318.8 238.1L319.8 238.3L320.8 236.1L321.8 234.7L322.8 232.2L323.8 229.2L324.8 227.3L325.8 225.7L326.8 223.7L327.8 222.2L328.8 222.7L329.8 223.1L330.8 224.5L331.8 224.9L332.8 225.9L333.8 224.8L334.8 226.0L335.8 227.4L336.8 228.1L337.8 227.1L338.8 228.3L339.8 229.7L340.8 228.6L341.8 228.9L342.8 231.2L343.8 233.8L344.8 234.8L345.8 237.0L346.8 239.2L347.8 239.7L348.8 240.9L349.8 240.7L350.8 241.3L351.8 241.1L352.8 241.2L353.8 240.9L354.8 241.5L355.8 240.7L356.8 241.4L356.9 242.0" stroke="#b12a90" stroke-width="1.3"/>
<path d="M204.8 233.7L205.8 234.4L206.8 235.5L207.8 235.4L208.8 236.5L209.8 236.6L210.8 238.0L211.8 239.8L212.8 240.6L213.8 241.1L214.8 240.5L215.8 241.4L216.8 242.2L217.8 242.1L218.8 241.8L219.8 242.1L220.8 240.7L221.8 241.1L222.8 240.9L223.8 239.8L224.8 239.9L225.8 240.9L226.8 240.4L227.8 239.3L228.8 239.9L229.8 239.9L230.8 239.9L231.8 240.5L232.8 240.5L233.8 240.9L234.8 239.6L235.8 241.0L236.8 240.1L237.8 241.3L238.8 241.1L239.8 241.5L240.8 240.4L241.8 238.4L242.8 237.1L243.8 235.5L244.8 232.3L245.8 231.1L246.8 230.4L247.8 229.3L248.8 227.9L249.8 225.5L250.8 225.7L251.8 224.2L252.8 224.4L253.8 224.1L254.8 223.1L255.8 222.3L256.8 223.1L257.8 221.8L258.8 222.6L259.8 220.8L260.8 221.4L261.8 222.0L262.8 223.8L263.8 224.2L264.8 225.0L265.8 227.8L266.8 228.7L267.8 229.7L268.8 231.1L269.8 232.4L270.8 234.2L271.8 236.3L272.8 237.4L273.8 239.6L274.8 240.0L275.8 240.8L276.8 240.9L277.8 240.8L278.8 240.7L279.8 241.7L280.8 242.3L281.8 242.8L282.8 243.2L283.8 242.8L284.8 242.4L285.8 241.3L286.8 241.6L287.8 239.8L288.8 241.5L289.8 240.9L290.8 239.4L291.8 239.5L292.8 239.0L293.8 237.9L294.8 237.1L295.8 236.2L296.8 235.5L297.8 234.2L298.8 232.8L299.8 232.3L300.8 230.9L301.8 228.8L302.8 227.2L303.8 226.6L304.8 225.9L305.8 226.9L306.8 228.2L307.8 230.6L308.8 232.3L309.8 232.4L310.8 234.5L311.8 235.5L312.8 236.9L313.8 239.3L314.8 241.6L315.8 240.5L316.8 239.3L317.8 239.7L318.8 239.3L319.8 238.5L320.8 236.6L321.8 236.1L322.8 233.1L323.8 232.6L324.8 228.6L325.8 227.4L326.8 226.5L327.8 225.0L328.8 225.5L329.8 225.4L330.8 226.1L331.8 227.8L332.8 227.3L333.8 229.4L334.8 229.4L335.8 228.9L336.8 230.7L337.8 231.5L338.8 230.8L339.8 232.3L340.8 232.0L341.8 232.5L342.8 234.1L343.8 234.2L344.8 236.6L345.8 237.6L346.8 239.6L347.8 240.7L348.8 240.6L349.8 241.5L350.8 240.8L351.8 241.1L352.8 241.0L353.8 240.3L354.8 240.5L355.8 242.0L356.8 242.1L356.9 241.0" stroke="#9e199d" stroke-width="1.3"/>
<path d="M204.8 234.7L205.8 236.2L206.8 236.2L207.8 236.8L208.8 238.4L209.8 238.6L210.8 238.3L211.8 239.5L212.8 240.1L213.8 240.5L214.8 241.0L215.8 241.3L216.8 241.5L217.8 242.8L218.8 242.0L219.8 242.3L220.8 242.1L221.8 242.2L222.8 241.3L223.8 241.0L224.8 241.1L225.8 240.2L226.8 240.6L227.8 241.6L228.8 241.3L229.8 240.8L230.8 240.5L231.8 241.0L232.8 239.7L233.8 240.1L234.8 241.6L235.8 241.0L236.8 241.0L237.8 240.5L238.8 240.7L239.8 240.1L240.8 240.2L241.8 239.1L242.8 237.6L243.8 237.0L244.8 235.1L245.8 232.7L246.8 232.7L247.8 232.2L248.8 230.0L249.8 229.5L250.8 228.1L251.8 226.9L252.8 226.7L253.8 226.6L254.8 225.6L255.8 225.9L256.8 224.8L257.8 225.9L258.8 224.9L259.8 224.2L260.8 224.5L261.8 226.5L262.8 226.4L263.8 226.5L264.8 228.0L265.8 229.9L266.8 231.4L267.8 233.7L268.8 233.7L269.8 234.3L270.8 234.9L271.8 237.8L272.8 239.1L273.8 239.8L274.8 241.1L275.8 240.8L276.8 241.0L277.8 242.2L278.8 240.6L279.8 242.5L280.8 243.2L281.8 242.4L282.8 244.1L283.8 241.2L284.8 242.0L285.8 240.8L286.8 240.5L287.8 241.0L288.8 240.7L289.8 240.9L290.8 240.4L291.8 239.7L292.8 239.3L293.8 238.5L294.8 238.5L295.8 238.2L296.8 236.7L297.8 235.8L298.8 235.1L299.8 233.0L300.8 231.6L301.8 230.9L302.8 230.2L303.8 229.2L304.8 229.1L305.8 229.7L306.8 230.8L307.8 232.5L308.8 233.3L309.8 234.6L310.8 235.9L311.8 236.9L312.8 237.6L313.8 240.8L314.8 242.1L315.8 240.2L316.8 239.7L317.8 240.5L318.8 238.6L319.8 238.3L320.8 238.4L321.8 238.0L322.8 235.4L323.8 232.4L324.8 232.6L325.8 229.5L326.8 229.3L327.8 227.4L328.8 228.4L329.8 228.7L330.8 228.5L331.8 229.3L332.8 231.3L333.8 231.8L334.8 231.4L335.8 232.2L336.8 232.9L337.8 232.5L338.8 232.4L339.8 233.7L340.8 234.1L341.8 234.9L342.8 235.1L343.8 236.1L344.8 237.4L345.8 239.1L346.8 241.1L347.8 241.3L348.8 241.4L349.8 242.5L350.8 241.3L351.8 241.5L352.8 241.9L353.8 242.1L354.8 240.7L355.8 240.6L356.8 240.6L356.9 241.2" stroke="#8808a6" stroke-width="1.3"/>
<path d="M204.8 236.0L205.8 236.5L206.8 236.9L207.8 238.1L208.8 239.5L209.8 238.9L210.8 239.5L211.8 239.9L212.8 240.7L213.8 241.6L214.8 241.3L215.8 242.5L216.8 241.9L217.8 241.5L218.8 241.9L219.8 242.3L220.8 241.9L221.8 241.2L222.8 241.9L223.8 241.2L224.8 241.4L225.8 242.0L226.8 242.1L227.8 242.0L228.8 241.4L229.8 242.5L230.8 241.4L231.8 242.9L232.8 240.9L233.8 240.7L234.8 241.0L235.8 241.6L236.8 240.5L237.8 241.1L238.8 240.3L239.8 240.6L240.8 240.7L241.8 239.8L242.8 237.9L243.8 237.3L244.8 236.5L245.8 234.9L246.8 234.1L247.8 233.4L248.8 232.6L249.8 231.7L250.8 232.4L251.8 230.0L252.8 229.9L253.8 230.4L254.8 229.7L255.8 227.8L256.8 228.4L257.8 228.8L258.8 228.2L259.8 227.9L260.8 228.6L261.8 229.7L262.8 229.8L263.8 229.9L264.8 230.6L265.8 231.5L266.8 233.7L267.8 235.1L268.8 235.5L269.8 236.9L270.8 237.0L271.8 239.2L272.8 238.6L273.8 240.7L274.8 240.6L275.8 240.7L276.8 240.4L277.8 240.8L278.8 241.7L279.8 241.5L280.8 242.6L281.8 242.3L282.8 241.5L283.8 242.4L284.8 241.3L285.8 241.4L286.8 242.1L287.8 242.0L288.8 240.7L289.8 241.0L290.8 241.3L291.8 240.4L292.8 239.5L293.8 240.4L294.8 240.4L295.8 239.1L296.8 237.9L297.8 236.9L298.8 236.3L299.8 235.6L300.8 234.5L301.8 233.0L302.8 231.9L303.8 231.8L304.8 231.3L305.8 232.3L306.8 233.4L307.8 235.1L308.8 236.1L309.8 236.2L310.8 236.2L311.8 238.8L312.8 239.5L313.8 240.1L314.8 241.5L315.8 240.9L316.8 240.3L317.8 241.2L318.8 240.7L319.8 237.9L320.8 239.5L321.8 237.5L322.8 237.1L323.8 234.1L324.8 233.6L325.8 231.8L326.8 231.1L327.8 230.5L328.8 230.8L329.8 230.4L330.8 231.3L331.8 232.5L332.8 232.7L333.8 233.9L334.8 233.6L335.8 234.6L336.8 234.3L337.8 234.4L338.8 235.5L339.8 236.7L340.8 236.7L341.8 237.4L342.8 237.7L343.8 238.3L344.8 239.6L345.8 239.7L346.8 241.2L347.8 241.4L348.8 242.8L349.8 242.2L350.8 241.2L351.8 241.1L352.8 241.5L353.8 241.0L354.8 241.1L355.8 241.3L356.8 241.0L356.9 242.3" stroke="#7201a8" stroke-width="1.3"/>
<path d="M204.8 237.0L205.8 239.0L206.8 238.4L207.8 238.4L208.8 238.6L209.8 240.2L210.8 241.6L211.8 241.1L212.8 241.1L213.8 242.1L214.8 241.6L215.8 241.8L216.8 242.0L217.8 242.0L218.8 241.6L219.8 242.4L220.8 243.4L221.8 241.6L222.8 241.8L223.8 242.6L224.8 242.3L225.8 242.5L226.8 242.8L227.8 243.0L228.8 242.8L229.8 243.0L230.8 242.9L231.8 242.0L232.8 242.5L233.8 241.8L234.8 241.1L235.8 242.2L236.8 241.0L237.8 241.5L238.8 240.7L239.8 241.3L240.8 239.6L241.8 239.6L242.8 239.0L243.8 238.2L244.8 238.9L245.8 236.4L246.8 236.1L247.8 235.7L248.8 235.9L249.8 234.6L250.8 233.6L251.8 233.7L252.8 233.0L253.8 232.7L254.8 233.6L255.8 231.9L256.8 231.9L257.8 231.9L258.8 230.9L259.8 231.8L260.8 231.5L261.8 231.4L262.8 233.2L263.8 233.4L264.8 234.4L265.8 233.9L266.8 236.7L267.8 237.2L268.8 236.7L269.8 238.0L270.8 238.3L271.8 239.5L272.8 239.9L273.8 240.4L274.8 240.8L275.8 240.5L276.8 240.5L277.8 240.9L278.8 241.7L279.8 241.7L280.8 242.4L281.8 241.9L282.8 242.3L283.8 242.2L284.8 241.7L285.8 241.0L286.8 242.2L287.8 241.7L288.8 241.0L289.8 241.8L290.8 241.2L291.8 241.4L292.8 240.8L293.8 239.9L294.8 240.1L295.8 241.0L296.8 240.1L297.8 239.1L298.8 238.2L299.8 237.2L300.8 236.7L301.8 236.4L302.8 235.8L303.8 235.5L304.8 233.9L305.8 234.8L306.8 236.1L307.8 236.3L308.8 237.7L309.8 237.6L310.8 238.9L311.8 239.0L312.8 240.7L313.8 240.5L314.8 240.7L315.8 241.2L316.8 240.4L317.8 242.2L318.8 240.5L319.8 239.9L320.8 238.7L321.8 239.2L322.8 238.1L323.8 236.0L324.8 234.9L325.8 234.7L326.8 234.3L327.8 232.4L328.8 232.6L329.8 233.8L330.8 235.1L331.8 234.4L332.8 235.8L333.8 237.2L334.8 236.7L335.8 237.7L336.8 237.9L337.8 237.9L338.8 237.5L339.8 238.7L340.8 238.9L341.8 239.6L342.8 239.0L343.8 240.6L344.8 242.1L345.8 241.5L346.8 241.4L347.8 242.7L348.8 241.9L349.8 242.2L350.8 241.9L351.8 241.3L352.8 241.7L353.8 240.8L354.8 241.2L355.8 241.4L356.8 240.9L356.9 240.9" stroke="#5901a5" stroke-width="1.3"/>
<path d="M204.8 238.1L205.8 238.7L206.8 239.3L207.8 239.9L208.8 240.5L209.8 239.8L210.8 240.7L211.8 241.1L212.8 242.0L213.8 242.2L214.8 241.7L215.8 241.8L216.8 242.1L217.8 242.5L218.8 242.0L219.8 242.1L220.8 242.5L221.8 242.9L222.8 243.4L223.8 243.3L224.8 242.6L225.8 242.6L226.8 244.0L227.8 242.8L228.8 243.4L229.8 243.2L230.8 243.7L231.8 243.1L232.8 242.7L233.8 242.4L234.8 241.5L235.8 241.7L236.8 241.4L237.8 241.8L238.8 240.6L239.8 240.5L240.8 242.0L241.8 240.2L242.8 240.3L243.8 239.6L244.8 239.1L245.8 238.8L246.8 237.8L247.8 237.4L248.8 237.2L249.8 237.1L250.8 236.9L251.8 236.2L252.8 236.1L253.8 235.5L254.8 235.7L255.8 234.9L256.8 235.1L257.8 235.0L258.8 234.4L259.8 235.1L260.8 234.8L261.8 236.7L262.8 235.8L263.8 236.4L264.8 236.1L265.8 237.4L266.8 238.4L267.8 238.5L268.8 238.8L269.8 239.6L270.8 239.9L271.8 240.5L272.8 239.8L273.8 241.1L274.8 240.8L275.8 241.5L276.8 241.2L277.8 241.2L278.8 242.1L279.8 241.6L280.8 242.2L281.8 241.9L282.8 242.5L283.8 242.3L284.8 242.4L285.8 241.0L286.8 241.6L287.8 241.1L288.8 242.0L289.8 241.5L290.8 241.0L291.8 242.7L292.8 242.1L293.8 242.3L294.8 241.9L295.8 241.3L296.8 240.8L297.8 240.8L298.8 240.1L299.8 239.6L300.8 238.0L301.8 238.6L302.8 238.1L303.8 237.3L304.8 237.8L305.8 237.8L306.8 237.6L307.8 239.0L308.8 238.8L309.8 240.2L310.8 240.4L311.8 240.5L312.8 240.3L313.8 241.0L314.8 241.2L315.8 240.6L316.8 240.8L317.8 240.5L318.8 240.2L319.8 241.1L320.8 240.2L321.8 239.6L322.8 238.6L323.8 238.7L324.8 236.7L325.8 237.1L326.8 236.4L327.8 234.5L328.8 235.3L329.8 236.8L330.8 236.7L331.8 237.1L332.8 238.4L333.8 238.6L334.8 239.3L335.8 239.2L336.8 240.2L337.8 240.5L338.8 240.7L339.8 240.2L340.8 240.6L341.8 240.9L342.8 242.8L343.8 241.4L344.8 242.4L345.8 242.0L346.8 243.5L347.8 242.5L348.8 242.8L349.8 242.5L350.8 241.4L351.8 241.9L352.8 241.1L353.8 241.5L354.8 241.1L355.8 241.1L356.8 241.5L356.9 241.2" stroke="#41049d" stroke-width="1.3"/>
<path d="M204.8 220.1L205.8 219.2L206.8 219.3L207.8 220.9L208.8 223.9L209.8 226.0L210.8 228.0L211.8 230.6L212.8 233.8L213.8 235.4L214.8 238.9L215.8 240.4L216.8 239.3L217.8 240.2L218.8 238.6L219.8 238.2L220.8 234.6L221.8 233.6L222.8 231.8L223.8 228.9L224.8 227.2L225.8 226.1L226.8 223.3L227.8 223.6L228.8 223.1L229.8 222.1L230.8 222.5L231.8 224.3L232.8 225.5L233.8 226.2L234.8 230.0L235.8 232.7L236.8 235.4L237.8 237.8L238.8 238.6L239.8 237.6L240.8 235.2L241.8 233.0L242.8 229.5L243.8 223.2L244.8 214.1L245.8 206.1L246.8 200.1L247.8 193.8L248.8 188.8L249.8 186.0L250.8 183.0L251.8 180.7L252.8 179.8L253.8 179.9L254.8 178.5L255.8 178.8L256.8 178.5L257.8 177.0L258.8 176.6L259.8 174.9L260.8 176.0L261.8 178.5L262.8 179.8L263.8 183.2L264.8 185.7L265.8 190.2L266.8 195.4L267.8 199.6L268.8 204.9L269.8 213.7L270.8 221.2L271.8 228.8L272.8 234.5L273.8 238.5L274.8 239.2L275.8 239.3L276.8 239.5L277.8 237.7L278.8 236.0L279.8 233.6L280.8 230.8L281.8 229.5L282.8 230.4L283.8 232.5L284.8 235.3L285.8 238.8L286.8 239.6L287.8 238.1L288.8 235.3L289.8 232.8L290.8 229.8L291.8 226.4L292.8 223.1L293.8 220.3L294.8 219.0L295.8 214.8L296.8 212.5L297.8 207.3L298.8 200.4L299.8 196.0L300.8 192.6L301.8 191.8L302.8 191.8L303.8 187.4L304.8 183.7L305.8 186.8L306.8 191.3L307.8 194.5L308.8 196.1L309.8 201.7L310.8 208.8L311.8 216.4L312.8 225.0L313.8 232.7L314.8 238.6L315.8 239.1L316.8 237.6L317.8 236.2L318.8 232.6L319.8 227.6L320.8 221.9L321.8 214.7L322.8 209.7L323.8 202.2L324.8 196.7L325.8 194.2L326.8 193.1L327.8 191.7L328.8 191.9L329.8 191.7L330.8 190.7L331.8 190.9L332.8 191.6L333.8 192.7L334.8 193.1L335.8 193.4L336.8 194.1L337.8 194.8L338.8 196.0L339.8 195.2L340.8 196.0L341.8 197.5L342.8 200.9L343.8 207.3L344.8 215.3L345.8 222.1L346.8 228.2L347.8 232.2L348.8 237.0L349.8 239.1L350.8 240.2L351.8 241.1L352.8 242.2L353.8 242.5L354.8 241.5L355.8 242.3L356.8 242.1L356.9 241.5" stroke="#000" stroke-width="1.5" stroke-dasharray="5.2 2.2" stroke-linecap="butt"/>
</g>
<g clip-path="url(#cpc2)" fill="none" stroke-linejoin="round" stroke-linecap="round">
<path d="M369.0 168.7L370.0 171.2L371.0 174.3L372.0 178.1L373.0 182.5L374.0 188.2L375.0 191.6L376.0 195.0L377.0 198.4L378.0 203.7L379.0 210.1L380.0 216.8L381.0 223.4L382.0 229.2L383.0 233.8L384.0 238.2L385.0 240.3L386.0 239.9L387.0 237.1L388.0 233.8L389.0 229.4L390.0 224.9L391.0 220.2L392.0 216.0L393.0 211.6L394.0 207.1L395.0 203.9L396.0 201.3L397.0 199.5L398.0 197.2L399.0 194.2L400.0 192.0L401.0 189.6L402.0 184.8L403.0 182.2L404.0 178.8L405.0 176.2L406.0 174.9L407.0 173.4L408.0 170.4L409.0 169.4L410.0 170.4L411.0 172.3L412.0 173.9L413.0 174.7L414.0 175.2L415.0 177.5L416.0 178.7L417.0 181.1L418.0 182.8L419.0 183.0L420.0 181.7L421.0 180.4L422.0 177.1L423.0 173.9L424.0 170.3L425.0 167.5L426.0 165.7L427.0 164.9L428.0 165.4L429.0 168.3L430.0 170.4L431.0 173.7L432.0 179.0L433.0 183.1L434.0 186.0L435.0 188.8L436.0 193.0L437.0 195.7L438.0 201.1L439.0 204.4L440.0 208.6L441.0 213.0L442.0 218.8L443.0 222.5L444.0 226.5L445.0 229.3L446.0 233.0L447.0 235.4L448.0 238.6L449.0 239.4L450.0 239.9L451.0 237.4L452.0 235.8L453.0 234.1L454.0 231.5L455.0 227.8L456.0 224.5L457.0 220.5L458.0 216.7L459.0 212.4L460.0 207.8L461.0 203.2L462.0 199.2L463.0 195.3L464.0 191.4L465.0 182.7L466.0 177.8L467.0 176.5L468.0 175.2L469.0 176.0L470.0 175.6L471.0 177.0L472.0 178.2L473.0 178.7L474.0 177.8L475.0 176.4L476.0 175.2L477.0 174.8L478.0 175.6L479.0 174.3L480.0 173.3L481.0 174.5L482.0 178.3L483.0 183.9L484.0 186.9L485.0 190.4L486.0 193.9L487.0 196.4L488.0 198.4L489.0 200.8L490.0 202.9L491.0 202.9L492.0 200.5L493.0 198.4L494.0 196.6L495.0 196.2L496.0 195.8L497.0 197.9L498.0 202.5L499.0 210.2L500.0 215.8L501.0 220.0L502.0 222.5L503.0 225.1L504.0 226.3L505.0 227.4L506.0 229.1L507.0 230.9L508.0 231.9L509.0 232.5L510.0 233.9L511.0 234.8L512.0 235.5L513.0 237.2L514.0 237.7L515.0 238.2L516.0 239.1L517.0 238.9L518.0 239.7L519.0 240.3L520.0 240.4L521.0 240.0L521.1 240.5" stroke="#fdae32" stroke-width="1.5"/>
<path d="M369.0 182.0L370.0 186.4L371.0 188.0L372.0 191.5L373.0 195.2L374.0 197.9L375.0 199.3L376.0 204.0L377.0 207.6L378.0 213.0L379.0 216.4L380.0 222.1L381.0 226.5L382.0 231.8L383.0 236.2L384.0 238.2L385.0 241.4L386.0 242.1L387.0 239.4L388.0 234.4L389.0 233.2L390.0 229.4L391.0 225.8L392.0 221.1L393.0 219.2L394.0 215.1L395.0 211.6L396.0 210.9L397.0 207.9L398.0 204.7L399.0 204.1L400.0 200.4L401.0 198.7L402.0 196.9L403.0 191.8L404.0 191.0L405.0 189.5L406.0 187.3L407.0 185.8L408.0 183.3L409.0 182.9L410.0 183.2L411.0 186.5L412.0 186.9L413.0 188.9L414.0 189.4L415.0 190.3L416.0 191.9L417.0 192.2L418.0 196.6L419.0 196.1L420.0 193.6L421.0 191.8L422.0 189.6L423.0 186.0L424.0 185.4L425.0 181.5L426.0 181.6L427.0 180.5L428.0 180.0L429.0 182.5L430.0 185.4L431.0 186.2L432.0 188.7L433.0 193.4L434.0 197.3L435.0 199.6L436.0 202.5L437.0 205.4L438.0 209.9L439.0 211.0L440.0 215.4L441.0 221.6L442.0 221.3L443.0 224.8L444.0 228.8L445.0 232.2L446.0 235.0L447.0 236.6L448.0 239.6L449.0 241.7L450.0 239.9L451.0 237.4L452.0 236.9L453.0 235.5L454.0 234.0L455.0 230.3L456.0 229.9L457.0 225.6L458.0 223.3L459.0 217.9L460.0 214.4L461.0 214.2L462.0 206.0L463.0 204.8L464.0 201.4L465.0 194.1L466.0 189.8L467.0 190.0L468.0 188.1L469.0 188.1L470.0 189.4L471.0 189.8L472.0 189.9L473.0 190.0L474.0 190.7L475.0 190.2L476.0 188.5L477.0 189.0L478.0 189.0L479.0 187.2L480.0 187.6L481.0 188.6L482.0 194.0L483.0 196.3L484.0 198.3L485.0 201.6L486.0 201.7L487.0 205.4L488.0 208.2L489.0 209.6L490.0 211.1L491.0 210.1L492.0 207.7L493.0 206.1L494.0 204.4L495.0 206.2L496.0 203.5L497.0 205.4L498.0 212.0L499.0 215.6L500.0 221.1L501.0 224.3L502.0 225.7L503.0 228.1L504.0 230.8L505.0 230.2L506.0 229.7L507.0 230.2L508.0 232.3L509.0 234.2L510.0 236.2L511.0 237.6L512.0 238.9L513.0 239.5L514.0 240.6L515.0 238.9L516.0 239.6L517.0 237.3L518.0 239.9L519.0 241.7L520.0 240.0L521.0 241.1L521.1 240.2" stroke="#f9983e" stroke-width="1.3"/>
<path d="M369.0 196.0L370.0 197.0L371.0 200.4L372.0 202.0L373.0 205.1L374.0 209.8L375.0 210.7L376.0 214.0L377.0 216.3L378.0 217.7L379.0 221.3L380.0 225.2L381.0 230.5L382.0 233.7L383.0 237.0L384.0 240.5L385.0 240.1L386.0 241.3L387.0 238.7L388.0 236.4L389.0 233.2L390.0 230.7L391.0 230.7L392.0 226.3L393.0 222.8L394.0 222.3L395.0 219.7L396.0 218.2L397.0 216.7L398.0 212.7L399.0 211.0L400.0 210.4L401.0 209.0L402.0 206.7L403.0 205.4L404.0 201.8L405.0 202.5L406.0 198.4L407.0 199.2L408.0 198.1L409.0 197.1L410.0 197.4L411.0 198.3L412.0 199.0L413.0 198.4L414.0 200.3L415.0 201.0L416.0 202.5L417.0 202.9L418.0 203.8L419.0 206.4L420.0 202.6L421.0 202.5L422.0 202.2L423.0 200.2L424.0 195.3L425.0 196.0L426.0 193.6L427.0 193.8L428.0 194.0L429.0 195.5L430.0 195.1L431.0 198.1L432.0 202.0L433.0 204.4L434.0 207.6L435.0 209.0L436.0 211.7L437.0 214.1L438.0 216.4L439.0 217.4L440.0 223.2L441.0 224.7L442.0 226.8L443.0 229.7L444.0 231.7L445.0 234.3L446.0 234.7L447.0 238.7L448.0 238.5L449.0 241.4L450.0 239.7L451.0 239.9L452.0 239.5L453.0 237.4L454.0 235.5L455.0 233.9L456.0 231.5L457.0 229.1L458.0 228.6L459.0 223.3L460.0 221.0L461.0 218.4L462.0 216.1L463.0 214.3L464.0 210.7L465.0 206.3L466.0 201.4L467.0 201.3L468.0 200.7L469.0 199.8L470.0 200.9L471.0 201.3L472.0 201.8L473.0 201.9L474.0 202.8L475.0 200.4L476.0 201.2L477.0 201.3L478.0 200.9L479.0 200.8L480.0 197.9L481.0 200.8L482.0 204.2L483.0 207.4L484.0 210.5L485.0 211.9L486.0 212.8L487.0 214.0L488.0 215.2L489.0 216.8L490.0 217.3L491.0 218.8L492.0 215.5L493.0 213.6L494.0 212.8L495.0 214.6L496.0 212.5L497.0 212.9L498.0 218.0L499.0 221.0L500.0 224.9L501.0 226.9L502.0 230.0L503.0 231.5L504.0 231.3L505.0 233.0L506.0 232.6L507.0 235.9L508.0 234.6L509.0 235.5L510.0 236.3L511.0 237.5L512.0 239.4L513.0 239.1L514.0 240.3L515.0 240.2L516.0 240.9L517.0 241.4L518.0 239.7L519.0 240.5L520.0 239.8L521.0 240.4L521.1 241.2" stroke="#f2844b" stroke-width="1.3"/>
<path d="M369.0 204.8L370.0 206.3L371.0 208.8L372.0 208.6L373.0 212.1L374.0 216.4L375.0 216.4L376.0 218.9L377.0 220.7L378.0 222.6L379.0 225.8L380.0 229.2L381.0 232.0L382.0 234.8L383.0 238.0L384.0 240.1L385.0 241.3L386.0 239.0L387.0 240.3L388.0 237.9L389.0 235.6L390.0 234.3L391.0 231.9L392.0 230.0L393.0 226.8L394.0 224.2L395.0 225.2L396.0 223.1L397.0 220.9L398.0 219.5L399.0 218.1L400.0 217.3L401.0 214.1L402.0 212.8L403.0 213.8L404.0 209.5L405.0 209.9L406.0 208.6L407.0 207.5L408.0 207.2L409.0 204.9L410.0 206.3L411.0 206.4L412.0 206.4L413.0 206.8L414.0 207.6L415.0 209.5L416.0 210.5L417.0 210.8L418.0 211.4L419.0 211.4L420.0 211.2L421.0 211.2L422.0 209.2L423.0 206.6L424.0 206.4L425.0 202.6L426.0 201.3L427.0 201.1L428.0 203.0L429.0 202.4L430.0 204.6L431.0 206.7L432.0 208.2L433.0 211.3L434.0 212.7L435.0 214.2L436.0 217.0L437.0 216.8L438.0 221.6L439.0 222.7L440.0 224.8L441.0 227.9L442.0 230.6L443.0 232.4L444.0 234.5L445.0 235.7L446.0 236.8L447.0 239.9L448.0 240.8L449.0 239.6L450.0 241.0L451.0 239.1L452.0 238.3L453.0 238.3L454.0 237.6L455.0 236.7L456.0 234.7L457.0 231.6L458.0 229.6L459.0 227.6L460.0 225.9L461.0 225.1L462.0 221.9L463.0 219.7L464.0 214.5L465.0 212.8L466.0 209.5L467.0 208.7L468.0 208.9L469.0 209.2L470.0 208.3L471.0 208.8L472.0 210.1L473.0 209.6L474.0 210.9L475.0 208.6L476.0 207.0L477.0 208.4L478.0 208.0L479.0 208.2L480.0 207.6L481.0 209.8L482.0 212.4L483.0 213.7L484.0 214.7L485.0 216.0L486.0 220.4L487.0 220.1L488.0 221.6L489.0 221.4L490.0 222.5L491.0 222.9L492.0 220.5L493.0 219.4L494.0 219.0L495.0 216.9L496.0 216.9L497.0 219.3L498.0 220.6L499.0 224.5L500.0 226.3L501.0 230.2L502.0 231.7L503.0 234.2L504.0 233.6L505.0 234.3L506.0 235.9L507.0 236.0L508.0 238.0L509.0 237.5L510.0 238.2L511.0 240.3L512.0 241.4L513.0 241.0L514.0 241.5L515.0 239.2L516.0 240.3L517.0 240.9L518.0 242.0L519.0 239.7L520.0 242.1L521.0 240.9L521.1 241.6" stroke="#e87059" stroke-width="1.3"/>
<path d="M369.0 209.9L370.0 212.1L371.0 213.3L372.0 215.3L373.0 217.9L374.0 219.9L375.0 221.7L376.0 223.6L377.0 224.2L378.0 225.4L379.0 228.0L380.0 231.3L381.0 232.6L382.0 235.8L383.0 238.5L384.0 239.2L385.0 240.3L386.0 239.6L387.0 240.2L388.0 238.7L389.0 236.5L390.0 235.4L391.0 232.6L392.0 230.6L393.0 228.9L394.0 228.9L395.0 226.6L396.0 226.3L397.0 224.6L398.0 224.3L399.0 222.2L400.0 219.8L401.0 218.2L402.0 217.9L403.0 217.4L404.0 215.6L405.0 215.7L406.0 214.6L407.0 212.6L408.0 211.4L409.0 210.6L410.0 210.8L411.0 212.1L412.0 212.4L413.0 211.9L414.0 213.2L415.0 213.7L416.0 215.2L417.0 214.6L418.0 217.7L419.0 216.8L420.0 215.7L421.0 214.8L422.0 213.2L423.0 212.5L424.0 211.5L425.0 209.8L426.0 209.0L427.0 208.9L428.0 209.4L429.0 209.9L430.0 208.9L431.0 212.0L432.0 213.8L433.0 215.3L434.0 217.0L435.0 219.7L436.0 220.5L437.0 222.1L438.0 224.0L439.0 225.0L440.0 227.3L441.0 229.1L442.0 233.4L443.0 234.1L444.0 234.7L445.0 236.6L446.0 238.1L447.0 238.8L448.0 241.1L449.0 241.2L450.0 241.5L451.0 239.6L452.0 238.6L453.0 238.5L454.0 237.6L455.0 237.1L456.0 233.8L457.0 234.5L458.0 232.3L459.0 231.0L460.0 229.9L461.0 226.7L462.0 225.2L463.0 223.8L464.0 221.0L465.0 216.5L466.0 215.7L467.0 214.1L468.0 213.7L469.0 214.4L470.0 213.7L471.0 215.6L472.0 215.8L473.0 216.3L474.0 214.4L475.0 214.2L476.0 213.6L477.0 213.4L478.0 213.2L479.0 213.6L480.0 213.2L481.0 213.8L482.0 215.0L483.0 218.3L484.0 222.1L485.0 221.8L486.0 223.8L487.0 223.4L488.0 223.4L489.0 225.4L490.0 226.1L491.0 225.8L492.0 224.2L493.0 222.9L494.0 222.8L495.0 221.0L496.0 221.3L497.0 223.6L498.0 222.5L499.0 227.3L500.0 231.1L501.0 230.2L502.0 231.6L503.0 233.4L504.0 234.6L505.0 236.7L506.0 235.7L507.0 235.6L508.0 238.7L509.0 238.2L510.0 239.2L511.0 240.5L512.0 240.4L513.0 240.7L514.0 241.3L515.0 241.1L516.0 239.4L517.0 240.8L518.0 240.1L519.0 241.5L520.0 240.8L521.0 240.8L521.1 241.3" stroke="#dd5e66" stroke-width="1.3"/>
<path d="M369.0 217.1L370.0 217.4L371.0 218.7L372.0 220.4L373.0 222.2L374.0 224.1L375.0 227.2L376.0 225.8L377.0 227.8L378.0 229.2L379.0 231.3L380.0 233.0L381.0 235.7L382.0 236.3L383.0 239.5L384.0 240.9L385.0 240.5L386.0 241.2L387.0 238.8L388.0 239.6L389.0 238.4L390.0 237.3L391.0 234.7L392.0 235.0L393.0 233.0L394.0 232.0L395.0 230.7L396.0 229.2L397.0 227.5L398.0 227.1L399.0 225.2L400.0 225.0L401.0 222.4L402.0 221.3L403.0 221.3L404.0 219.7L405.0 219.9L406.0 218.9L407.0 218.4L408.0 217.3L409.0 216.0L410.0 215.7L411.0 216.5L412.0 217.5L413.0 217.2L414.0 218.9L415.0 219.7L416.0 218.5L417.0 220.3L418.0 219.8L419.0 220.5L420.0 221.2L421.0 218.4L422.0 217.9L423.0 216.7L424.0 214.5L425.0 213.9L426.0 214.4L427.0 213.6L428.0 214.1L429.0 213.8L430.0 213.5L431.0 216.3L432.0 216.8L433.0 219.6L434.0 219.8L435.0 223.3L436.0 222.3L437.0 224.8L438.0 228.4L439.0 229.3L440.0 230.8L441.0 232.9L442.0 234.9L443.0 234.8L444.0 236.8L445.0 238.8L446.0 239.4L447.0 239.2L448.0 240.8L449.0 241.6L450.0 240.1L451.0 241.3L452.0 240.8L453.0 238.2L454.0 238.1L455.0 237.0L456.0 235.5L457.0 234.8L458.0 233.1L459.0 233.7L460.0 232.1L461.0 229.0L462.0 227.3L463.0 227.3L464.0 224.5L465.0 222.5L466.0 219.4L467.0 218.6L468.0 218.7L469.0 217.9L470.0 218.5L471.0 219.3L472.0 221.2L473.0 219.4L474.0 219.4L475.0 218.0L476.0 218.2L477.0 217.7L478.0 217.9L479.0 217.9L480.0 217.3L481.0 219.8L482.0 221.6L483.0 222.2L484.0 225.7L485.0 226.1L486.0 226.4L487.0 226.5L488.0 227.9L489.0 228.4L490.0 227.4L491.0 227.0L492.0 227.9L493.0 225.3L494.0 225.3L495.0 224.0L496.0 223.7L497.0 225.7L498.0 225.9L499.0 230.2L500.0 231.6L501.0 234.3L502.0 234.0L503.0 234.9L504.0 235.7L505.0 236.7L506.0 238.2L507.0 236.8L508.0 239.7L509.0 239.2L510.0 239.5L511.0 240.9L512.0 242.6L513.0 242.1L514.0 241.7L515.0 240.9L516.0 241.7L517.0 241.2L518.0 240.7L519.0 241.4L520.0 241.3L521.0 241.3L521.1 242.0" stroke="#d04d73" stroke-width="1.3"/>
<path d="M369.0 218.4L370.0 220.2L371.0 221.4L372.0 223.3L373.0 225.0L374.0 228.1L375.0 228.7L376.0 230.1L377.0 230.2L378.0 231.1L379.0 231.6L380.0 234.0L381.0 236.4L382.0 237.0L383.0 239.7L384.0 240.6L385.0 240.8L386.0 240.8L387.0 241.0L388.0 238.9L389.0 237.9L390.0 236.7L391.0 234.9L392.0 234.6L393.0 233.2L394.0 233.8L395.0 232.2L396.0 230.3L397.0 231.2L398.0 228.9L399.0 227.7L400.0 226.5L401.0 225.1L402.0 224.8L403.0 224.5L404.0 222.6L405.0 222.7L406.0 221.8L407.0 221.8L408.0 220.6L409.0 218.3L410.0 220.0L411.0 220.7L412.0 219.8L413.0 220.5L414.0 221.0L415.0 221.5L416.0 221.8L417.0 224.1L418.0 223.4L419.0 223.7L420.0 223.3L421.0 222.5L422.0 222.8L423.0 221.0L424.0 220.6L425.0 218.1L426.0 218.6L427.0 217.7L428.0 217.8L429.0 216.9L430.0 218.5L431.0 219.7L432.0 220.7L433.0 222.3L434.0 223.6L435.0 225.1L436.0 226.3L437.0 226.8L438.0 229.5L439.0 230.1L440.0 233.0L441.0 233.2L442.0 235.8L443.0 234.8L444.0 238.4L445.0 238.4L446.0 239.4L447.0 239.6L448.0 240.4L449.0 240.7L450.0 241.6L451.0 240.4L452.0 239.9L453.0 239.2L454.0 238.0L455.0 237.6L456.0 237.2L457.0 235.7L458.0 236.6L459.0 234.4L460.0 233.7L461.0 232.5L462.0 230.0L463.0 229.6L464.0 227.3L465.0 224.8L466.0 223.0L467.0 222.5L468.0 222.7L469.0 222.3L470.0 222.2L471.0 224.0L472.0 223.0L473.0 223.2L474.0 222.7L475.0 222.5L476.0 221.2L477.0 222.8L478.0 223.3L479.0 221.6L480.0 222.6L481.0 223.4L482.0 224.7L483.0 225.9L484.0 227.1L485.0 228.9L486.0 230.5L487.0 230.7L488.0 231.3L489.0 229.8L490.0 230.1L491.0 230.1L492.0 230.3L493.0 227.7L494.0 226.9L495.0 227.3L496.0 226.6L497.0 226.4L498.0 229.1L499.0 229.3L500.0 232.2L501.0 233.8L502.0 234.6L503.0 235.7L504.0 236.8L505.0 236.4L506.0 237.9L507.0 237.9L508.0 238.6L509.0 239.0L510.0 240.2L511.0 241.6L512.0 242.3L513.0 241.4L514.0 241.3L515.0 240.9L516.0 241.9L517.0 241.3L518.0 240.8L519.0 241.6L520.0 241.6L521.0 241.0L521.1 240.9" stroke="#c13b82" stroke-width="1.3"/>
<path d="M369.0 223.7L370.0 224.0L371.0 225.9L372.0 226.2L373.0 228.6L374.0 230.4L375.0 230.3L376.0 231.2L377.0 232.5L378.0 233.8L379.0 234.6L380.0 235.1L381.0 236.5L382.0 238.2L383.0 239.4L384.0 239.8L385.0 240.4L386.0 241.0L387.0 240.6L388.0 239.6L389.0 238.5L390.0 236.6L391.0 237.1L392.0 236.4L393.0 235.4L394.0 234.3L395.0 234.2L396.0 234.9L397.0 231.8L398.0 231.1L399.0 230.7L400.0 228.7L401.0 228.3L402.0 228.1L403.0 227.2L404.0 226.7L405.0 226.4L406.0 225.3L407.0 225.7L408.0 223.9L409.0 223.3L410.0 223.4L411.0 223.8L412.0 224.7L413.0 224.6L414.0 224.6L415.0 224.9L416.0 225.1L417.0 226.8L418.0 226.4L419.0 227.6L420.0 225.7L421.0 226.2L422.0 224.8L423.0 223.3L424.0 221.6L425.0 222.5L426.0 222.4L427.0 221.6L428.0 220.4L429.0 223.0L430.0 222.3L431.0 222.8L432.0 224.6L433.0 224.7L434.0 227.1L435.0 227.4L436.0 228.5L437.0 230.0L438.0 231.0L439.0 232.8L440.0 235.2L441.0 236.2L442.0 237.3L443.0 238.1L444.0 238.3L445.0 239.9L446.0 239.8L447.0 240.9L448.0 240.9L449.0 240.9L450.0 240.4L451.0 241.2L452.0 239.8L453.0 240.1L454.0 240.2L455.0 239.3L456.0 238.0L457.0 237.8L458.0 238.3L459.0 236.5L460.0 236.5L461.0 235.0L462.0 234.3L463.0 231.9L464.0 231.2L465.0 228.2L466.0 227.2L467.0 225.5L468.0 225.6L469.0 225.7L470.0 226.0L471.0 226.2L472.0 226.2L473.0 226.9L474.0 226.0L475.0 226.3L476.0 225.1L477.0 225.7L478.0 225.7L479.0 226.3L480.0 224.8L481.0 226.8L482.0 227.6L483.0 230.5L484.0 230.7L485.0 232.8L486.0 232.4L487.0 233.3L488.0 233.0L489.0 233.3L490.0 232.2L491.0 232.4L492.0 230.7L493.0 230.8L494.0 229.6L495.0 229.8L496.0 229.5L497.0 229.7L498.0 230.3L499.0 232.6L500.0 233.8L501.0 234.9L502.0 236.0L503.0 237.2L504.0 237.4L505.0 237.9L506.0 238.2L507.0 238.2L508.0 239.4L509.0 240.1L510.0 241.1L511.0 241.9L512.0 242.4L513.0 241.6L514.0 242.0L515.0 240.5L516.0 241.7L517.0 240.6L518.0 240.9L519.0 241.0L520.0 241.5L521.0 242.2L521.1 240.9" stroke="#b12a90" stroke-width="1.3"/>
<path d="M369.0 228.1L370.0 229.2L371.0 229.1L372.0 231.7L373.0 231.6L374.0 233.7L375.0 233.2L376.0 234.3L377.0 234.1L378.0 235.5L379.0 237.0L380.0 237.4L381.0 238.4L382.0 239.6L383.0 240.3L384.0 240.2L385.0 240.7L386.0 240.9L387.0 240.4L388.0 240.6L389.0 239.8L390.0 238.9L391.0 238.6L392.0 237.9L393.0 237.2L394.0 237.5L395.0 236.8L396.0 236.5L397.0 234.9L398.0 235.5L399.0 233.6L400.0 232.4L401.0 232.2L402.0 230.3L403.0 229.4L404.0 229.8L405.0 230.5L406.0 229.2L407.0 227.6L408.0 227.7L409.0 227.2L410.0 228.1L411.0 227.4L412.0 228.4L413.0 227.5L414.0 228.0L415.0 228.4L416.0 228.6L417.0 227.6L418.0 229.0L419.0 230.8L420.0 229.3L421.0 229.5L422.0 227.3L423.0 227.6L424.0 226.3L425.0 224.6L426.0 225.8L427.0 225.0L428.0 224.9L429.0 226.4L430.0 226.5L431.0 226.3L432.0 228.2L433.0 227.2L434.0 228.6L435.0 229.3L436.0 230.7L437.0 232.7L438.0 233.8L439.0 235.4L440.0 236.5L441.0 237.2L442.0 237.5L443.0 238.6L444.0 238.9L445.0 239.5L446.0 239.9L447.0 241.0L448.0 240.7L449.0 242.0L450.0 241.7L451.0 241.1L452.0 241.2L453.0 240.0L454.0 240.9L455.0 240.0L456.0 239.6L457.0 239.0L458.0 238.7L459.0 237.8L460.0 236.9L461.0 236.5L462.0 236.3L463.0 234.0L464.0 232.7L465.0 231.1L466.0 229.0L467.0 229.5L468.0 229.5L469.0 230.0L470.0 229.4L471.0 229.7L472.0 229.3L473.0 229.2L474.0 228.3L475.0 230.1L476.0 228.7L477.0 228.6L478.0 229.0L479.0 229.5L480.0 229.3L481.0 230.5L482.0 232.2L483.0 234.6L484.0 233.4L485.0 235.1L486.0 233.7L487.0 235.4L488.0 235.3L489.0 235.4L490.0 234.4L491.0 234.3L492.0 234.1L493.0 231.2L494.0 231.8L495.0 231.4L496.0 230.4L497.0 231.9L498.0 232.1L499.0 234.4L500.0 235.2L501.0 236.1L502.0 237.1L503.0 237.5L504.0 237.5L505.0 237.3L506.0 239.3L507.0 239.6L508.0 239.5L509.0 240.5L510.0 240.7L511.0 242.7L512.0 243.3L513.0 242.6L514.0 241.3L515.0 241.3L516.0 240.3L517.0 240.7L518.0 241.6L519.0 241.4L520.0 241.7L521.0 242.1L521.1 241.8" stroke="#9e199d" stroke-width="1.3"/>
<path d="M369.0 230.4L370.0 231.3L371.0 232.9L372.0 233.9L373.0 233.8L374.0 235.5L375.0 236.5L376.0 236.5L377.0 235.8L378.0 237.2L379.0 236.6L380.0 238.4L381.0 238.2L382.0 239.8L383.0 239.5L384.0 241.2L385.0 241.7L386.0 240.5L387.0 241.0L388.0 241.0L389.0 239.5L390.0 238.4L391.0 239.3L392.0 238.7L393.0 238.7L394.0 238.9L395.0 237.3L396.0 238.4L397.0 236.7L398.0 236.1L399.0 236.1L400.0 234.7L401.0 233.8L402.0 232.5L403.0 234.0L404.0 232.5L405.0 233.1L406.0 232.2L407.0 232.4L408.0 230.6L409.0 230.5L410.0 230.4L411.0 230.1L412.0 229.3L413.0 231.2L414.0 231.3L415.0 230.8L416.0 231.6L417.0 232.4L418.0 232.8L419.0 233.3L420.0 232.3L421.0 231.6L422.0 230.5L423.0 230.5L424.0 229.7L425.0 229.9L426.0 228.2L427.0 228.5L428.0 229.1L429.0 229.3L430.0 228.9L431.0 229.9L432.0 229.4L433.0 231.5L434.0 230.8L435.0 232.6L436.0 233.1L437.0 233.2L438.0 234.9L439.0 237.4L440.0 237.5L441.0 237.5L442.0 238.3L443.0 239.7L444.0 239.9L445.0 240.2L446.0 240.4L447.0 241.0L448.0 241.3L449.0 241.3L450.0 240.3L451.0 241.0L452.0 241.1L453.0 241.3L454.0 241.4L455.0 240.4L456.0 240.9L457.0 239.9L458.0 240.6L459.0 239.9L460.0 239.8L461.0 237.9L462.0 237.4L463.0 237.1L464.0 235.9L465.0 234.1L466.0 232.7L467.0 232.0L468.0 231.9L469.0 232.0L470.0 232.3L471.0 231.8L472.0 232.3L473.0 232.1L474.0 230.8L475.0 231.3L476.0 232.0L477.0 231.9L478.0 232.5L479.0 230.8L480.0 232.5L481.0 232.8L482.0 234.4L483.0 235.1L484.0 236.9L485.0 236.7L486.0 237.5L487.0 236.3L488.0 237.0L489.0 237.1L490.0 237.3L491.0 236.8L492.0 235.7L493.0 234.8L494.0 233.4L495.0 232.7L496.0 234.2L497.0 234.1L498.0 233.7L499.0 234.2L500.0 236.7L501.0 237.4L502.0 237.3L503.0 238.2L504.0 238.6L505.0 239.6L506.0 239.4L507.0 240.6L508.0 240.7L509.0 241.6L510.0 241.4L511.0 243.5L512.0 242.6L513.0 243.7L514.0 241.2L515.0 241.6L516.0 241.3L517.0 242.0L518.0 241.2L519.0 242.2L520.0 242.0L521.0 241.2L521.1 241.8" stroke="#8808a6" stroke-width="1.3"/>
<path d="M369.0 232.7L370.0 234.6L371.0 235.4L372.0 236.0L373.0 236.3L374.0 238.0L375.0 238.5L376.0 238.0L377.0 238.2L378.0 238.9L379.0 239.3L380.0 239.3L381.0 239.0L382.0 239.8L383.0 240.4L384.0 240.3L385.0 240.6L386.0 241.5L387.0 241.6L388.0 241.3L389.0 240.9L390.0 240.5L391.0 240.5L392.0 240.4L393.0 240.1L394.0 240.9L395.0 240.5L396.0 239.3L397.0 238.8L398.0 238.2L399.0 237.5L400.0 235.8L401.0 235.9L402.0 236.3L403.0 235.9L404.0 236.6L405.0 235.9L406.0 234.3L407.0 233.5L408.0 235.5L409.0 233.6L410.0 232.8L411.0 233.6L412.0 233.3L413.0 233.8L414.0 234.2L415.0 233.9L416.0 235.4L417.0 234.5L418.0 234.8L419.0 234.3L420.0 235.0L421.0 234.4L422.0 234.2L423.0 233.7L424.0 233.0L425.0 233.0L426.0 231.6L427.0 231.1L428.0 231.1L429.0 231.8L430.0 233.4L431.0 232.4L432.0 233.2L433.0 233.4L434.0 233.4L435.0 234.6L436.0 236.0L437.0 235.7L438.0 236.6L439.0 238.7L440.0 238.8L441.0 239.6L442.0 240.0L443.0 239.7L444.0 240.9L445.0 240.4L446.0 240.5L447.0 242.0L448.0 242.2L449.0 241.2L450.0 240.8L451.0 241.5L452.0 240.7L453.0 241.3L454.0 240.4L455.0 241.2L456.0 240.7L457.0 241.5L458.0 241.7L459.0 242.3L460.0 241.1L461.0 240.0L462.0 239.4L463.0 238.4L464.0 237.2L465.0 236.5L466.0 235.9L467.0 235.2L468.0 234.8L469.0 235.4L470.0 234.4L471.0 235.1L472.0 234.6L473.0 235.1L474.0 235.8L475.0 234.8L476.0 235.1L477.0 235.3L478.0 235.8L479.0 235.0L480.0 235.5L481.0 235.6L482.0 237.8L483.0 238.7L484.0 239.2L485.0 239.2L486.0 238.7L487.0 240.1L488.0 238.3L489.0 238.4L490.0 238.1L491.0 238.1L492.0 236.2L493.0 237.6L494.0 235.6L495.0 235.3L496.0 235.0L497.0 235.0L498.0 236.4L499.0 237.5L500.0 237.7L501.0 236.5L502.0 238.5L503.0 239.3L504.0 238.8L505.0 240.4L506.0 240.4L507.0 239.8L508.0 240.6L509.0 241.2L510.0 241.4L511.0 243.1L512.0 244.7L513.0 244.5L514.0 243.1L515.0 242.1L516.0 242.6L517.0 242.4L518.0 241.7L519.0 241.5L520.0 242.0L521.0 240.6L521.1 241.0" stroke="#7201a8" stroke-width="1.3"/>
<path d="M369.0 238.2L370.0 237.9L371.0 238.1L372.0 239.4L373.0 239.2L374.0 240.8L375.0 242.1L376.0 241.7L377.0 241.7L378.0 240.7L379.0 240.5L380.0 240.9L381.0 240.2L382.0 239.7L383.0 241.1L384.0 240.7L385.0 240.4L386.0 241.0L387.0 241.6L388.0 241.0L389.0 240.9L390.0 240.6L391.0 240.6L392.0 241.9L393.0 241.8L394.0 242.1L395.0 242.0L396.0 241.7L397.0 240.6L398.0 240.1L399.0 239.9L400.0 239.1L401.0 238.8L402.0 239.0L403.0 240.0L404.0 238.6L405.0 239.3L406.0 237.7L407.0 238.4L408.0 237.7L409.0 236.9L410.0 236.9L411.0 236.6L412.0 235.8L413.0 236.8L414.0 236.8L415.0 237.5L416.0 237.6L417.0 238.1L418.0 237.5L419.0 238.8L420.0 237.9L421.0 237.6L422.0 237.0L423.0 236.4L424.0 236.5L425.0 236.4L426.0 236.5L427.0 235.9L428.0 235.4L429.0 235.5L430.0 235.3L431.0 235.3L432.0 235.7L433.0 236.8L434.0 235.7L435.0 236.8L436.0 237.6L437.0 237.8L438.0 239.8L439.0 239.4L440.0 241.0L441.0 242.0L442.0 241.1L443.0 241.5L444.0 240.7L445.0 241.3L446.0 240.8L447.0 241.7L448.0 240.8L449.0 241.4L450.0 241.2L451.0 241.5L452.0 242.0L453.0 241.9L454.0 241.3L455.0 242.2L456.0 241.8L457.0 242.2L458.0 242.7L459.0 243.6L460.0 242.7L461.0 241.6L462.0 242.0L463.0 240.6L464.0 239.6L465.0 238.7L466.0 239.4L467.0 238.8L468.0 237.6L469.0 237.7L470.0 237.7L471.0 238.1L472.0 238.8L473.0 238.0L474.0 238.6L475.0 238.4L476.0 238.3L477.0 238.7L478.0 238.2L479.0 238.2L480.0 238.4L481.0 239.6L482.0 240.8L483.0 241.0L484.0 241.5L485.0 241.3L486.0 241.8L487.0 241.8L488.0 240.3L489.0 241.3L490.0 240.1L491.0 239.8L492.0 239.0L493.0 238.8L494.0 237.9L495.0 237.5L496.0 237.4L497.0 237.3L498.0 237.2L499.0 237.4L500.0 238.1L501.0 239.1L502.0 238.9L503.0 239.0L504.0 239.9L505.0 240.8L506.0 241.0L507.0 240.3L508.0 241.6L509.0 242.6L510.0 243.0L511.0 243.3L512.0 244.2L513.0 243.3L514.0 243.2L515.0 241.8L516.0 241.3L517.0 242.2L518.0 241.7L519.0 241.7L520.0 242.2L521.0 242.4L521.1 241.4" stroke="#5901a5" stroke-width="1.3"/>
<path d="M369.0 240.3L370.0 241.0L371.0 241.6L372.0 242.7L373.0 242.5L374.0 242.4L375.0 243.6L376.0 242.4L377.0 242.0L378.0 243.0L379.0 242.7L380.0 242.3L381.0 240.9L382.0 241.3L383.0 241.1L384.0 241.6L385.0 241.6L386.0 241.1L387.0 241.1L388.0 241.0L389.0 241.5L390.0 241.4L391.0 242.5L392.0 243.1L393.0 244.3L394.0 243.9L395.0 243.8L396.0 243.6L397.0 243.5L398.0 241.8L399.0 241.4L400.0 241.3L401.0 241.0L402.0 240.7L403.0 242.1L404.0 241.8L405.0 241.9L406.0 241.9L407.0 241.4L408.0 241.2L409.0 241.3L410.0 239.9L411.0 239.9L412.0 239.4L413.0 240.1L414.0 240.3L415.0 239.1L416.0 240.1L417.0 240.3L418.0 240.7L419.0 240.2L420.0 240.6L421.0 239.8L422.0 239.6L423.0 238.8L424.0 239.3L425.0 239.1L426.0 238.5L427.0 239.2L428.0 239.2L429.0 238.9L430.0 238.3L431.0 238.5L432.0 238.7L433.0 238.3L434.0 238.7L435.0 239.0L436.0 239.9L437.0 240.9L438.0 240.7L439.0 241.6L440.0 241.6L441.0 241.9L442.0 242.4L443.0 242.1L444.0 242.2L445.0 242.1L446.0 241.2L447.0 241.7L448.0 241.9L449.0 241.7L450.0 242.3L451.0 240.7L452.0 242.4L453.0 242.5L454.0 242.2L455.0 241.2L456.0 242.9L457.0 242.7L458.0 244.3L459.0 244.5L460.0 244.1L461.0 243.9L462.0 243.8L463.0 243.7L464.0 242.6L465.0 241.6L466.0 240.9L467.0 241.1L468.0 241.6L469.0 241.2L470.0 240.5L471.0 241.2L472.0 241.1L473.0 241.0L474.0 241.0L475.0 241.0L476.0 241.4L477.0 241.4L478.0 240.6L479.0 241.2L480.0 241.5L481.0 243.1L482.0 242.9L483.0 244.9L484.0 243.5L485.0 244.8L486.0 244.2L487.0 242.9L488.0 243.5L489.0 242.1L490.0 241.9L491.0 241.0L492.0 241.2L493.0 240.7L494.0 240.4L495.0 239.4L496.0 238.8L497.0 238.9L498.0 238.7L499.0 239.6L500.0 239.5L501.0 238.8L502.0 240.5L503.0 240.0L504.0 240.0L505.0 240.6L506.0 240.4L507.0 241.6L508.0 241.0L509.0 242.0L510.0 242.5L511.0 245.2L512.0 245.3L513.0 243.8L514.0 243.3L515.0 242.7L516.0 242.1L517.0 242.1L518.0 241.8L519.0 241.4L520.0 241.5L521.0 241.6L521.1 242.1" stroke="#41049d" stroke-width="1.3"/>
<path d="M369.0 184.7L370.0 181.9L371.0 182.2L372.0 182.6L373.0 184.3L374.0 189.9L375.0 193.4L376.0 196.4L377.0 201.2L378.0 205.7L379.0 214.6L380.0 219.7L381.0 224.9L382.0 230.4L383.0 234.2L384.0 237.2L385.0 239.7L386.0 238.9L387.0 236.1L388.0 234.2L389.0 231.2L390.0 226.2L391.0 221.7L392.0 216.1L393.0 210.4L394.0 207.3L395.0 202.9L396.0 200.7L397.0 199.7L398.0 199.1L399.0 199.5L400.0 197.9L401.0 194.9L402.0 190.6L403.0 187.4L404.0 184.6L405.0 182.1L406.0 179.2L407.0 177.9L408.0 175.6L409.0 173.3L410.0 174.3L411.0 175.8L412.0 178.1L413.0 179.0L414.0 179.8L415.0 181.7L416.0 183.8L417.0 184.5L418.0 186.6L419.0 188.1L420.0 186.6L421.0 185.0L422.0 183.3L423.0 181.2L424.0 179.3L425.0 176.0L426.0 176.4L427.0 177.5L428.0 179.0L429.0 181.0L430.0 184.8L431.0 186.6L432.0 189.3L433.0 191.6L434.0 194.0L435.0 197.1L436.0 200.0L437.0 202.4L438.0 206.0L439.0 208.4L440.0 209.8L441.0 215.4L442.0 217.1L443.0 221.7L444.0 226.1L445.0 228.9L446.0 232.0L447.0 236.1L448.0 237.0L449.0 240.5L450.0 240.3L451.0 238.3L452.0 237.1L453.0 235.4L454.0 232.3L455.0 228.5L456.0 226.0L457.0 221.5L458.0 215.8L459.0 213.7L460.0 209.6L461.0 206.4L462.0 203.2L463.0 199.4L464.0 195.1L465.0 191.2L466.0 187.5L467.0 184.6L468.0 183.0L469.0 182.7L470.0 184.0L471.0 185.0L472.0 186.0L473.0 186.0L474.0 186.5L475.0 187.0L476.0 186.8L477.0 184.1L478.0 184.2L479.0 183.7L480.0 182.1L481.0 184.2L482.0 186.4L483.0 187.9L484.0 191.8L485.0 192.0L486.0 195.8L487.0 198.3L488.0 200.4L489.0 202.9L490.0 203.5L491.0 203.7L492.0 203.5L493.0 201.0L494.0 200.4L495.0 200.4L496.0 202.1L497.0 203.7L498.0 208.6L499.0 212.9L500.0 218.3L501.0 220.3L502.0 224.1L503.0 226.3L504.0 227.5L505.0 228.8L506.0 230.3L507.0 231.3L508.0 232.0L509.0 233.2L510.0 234.8L511.0 237.2L512.0 238.0L513.0 238.8L514.0 240.3L515.0 239.9L516.0 240.3L517.0 240.6L518.0 240.5L519.0 241.1L520.0 241.0L521.0 241.8L521.1 240.7" stroke="#000" stroke-width="1.5" stroke-dasharray="5.2 2.2" stroke-linecap="butt"/>
</g>
<rect x="40.70" y="0.40" width="152.15" height="115.80" fill="none" stroke="#000" stroke-width="0.80"/>
<line x1="78.74" y1="116.20" x2="78.74" y2="112.70" stroke="#000" stroke-width="0.80"/>
<line x1="116.77" y1="116.20" x2="116.77" y2="112.70" stroke="#000" stroke-width="0.80"/>
<line x1="154.81" y1="116.20" x2="154.81" y2="112.70" stroke="#000" stroke-width="0.80"/>
<line x1="40.70" y1="103.50" x2="44.20" y2="103.50" stroke="#000" stroke-width="0.80"/>
<line x1="40.70" y1="80.30" x2="44.20" y2="80.30" stroke="#000" stroke-width="0.80"/>
<line x1="40.70" y1="57.10" x2="44.20" y2="57.10" stroke="#000" stroke-width="0.80"/>
<line x1="40.70" y1="33.90" x2="44.20" y2="33.90" stroke="#000" stroke-width="0.80"/>
<line x1="40.70" y1="10.70" x2="44.20" y2="10.70" stroke="#000" stroke-width="0.80"/>
<rect x="40.70" y="130.60" width="152.15" height="116.00" fill="none" stroke="#000" stroke-width="0.80"/>
<line x1="78.74" y1="246.60" x2="78.74" y2="243.10" stroke="#000" stroke-width="0.80"/>
<line x1="116.77" y1="246.60" x2="116.77" y2="243.10" stroke="#000" stroke-width="0.80"/>
<line x1="154.81" y1="246.60" x2="154.81" y2="243.10" stroke="#000" stroke-width="0.80"/>
<line x1="40.70" y1="240.60" x2="44.20" y2="240.60" stroke="#000" stroke-width="0.80"/>
<line x1="40.70" y1="216.18" x2="44.20" y2="216.18" stroke="#000" stroke-width="0.80"/>
<line x1="40.70" y1="191.76" x2="44.20" y2="191.76" stroke="#000" stroke-width="0.80"/>
<line x1="40.70" y1="167.34" x2="44.20" y2="167.34" stroke="#000" stroke-width="0.80"/>
<line x1="40.70" y1="142.92" x2="44.20" y2="142.92" stroke="#000" stroke-width="0.80"/>
<rect x="204.75" y="0.40" width="152.10" height="115.80" fill="none" stroke="#000" stroke-width="0.80"/>
<line x1="242.78" y1="116.20" x2="242.78" y2="112.70" stroke="#000" stroke-width="0.80"/>
<line x1="280.80" y1="116.20" x2="280.80" y2="112.70" stroke="#000" stroke-width="0.80"/>
<line x1="318.83" y1="116.20" x2="318.83" y2="112.70" stroke="#000" stroke-width="0.80"/>
<line x1="204.75" y1="103.50" x2="208.25" y2="103.50" stroke="#000" stroke-width="0.80"/>
<line x1="204.75" y1="80.30" x2="208.25" y2="80.30" stroke="#000" stroke-width="0.80"/>
<line x1="204.75" y1="57.10" x2="208.25" y2="57.10" stroke="#000" stroke-width="0.80"/>
<line x1="204.75" y1="33.90" x2="208.25" y2="33.90" stroke="#000" stroke-width="0.80"/>
<line x1="204.75" y1="10.70" x2="208.25" y2="10.70" stroke="#000" stroke-width="0.80"/>
<rect x="204.75" y="130.60" width="152.10" height="116.00" fill="none" stroke="#000" stroke-width="0.80"/>
<line x1="242.78" y1="246.60" x2="242.78" y2="243.10" stroke="#000" stroke-width="0.80"/>
<line x1="280.80" y1="246.60" x2="280.80" y2="243.10" stroke="#000" stroke-width="0.80"/>
<line x1="318.83" y1="246.60" x2="318.83" y2="243.10" stroke="#000" stroke-width="0.80"/>
<line x1="204.75" y1="240.60" x2="208.25" y2="240.60" stroke="#000" stroke-width="0.80"/>
<line x1="204.75" y1="216.18" x2="208.25" y2="216.18" stroke="#000" stroke-width="0.80"/>
<line x1="204.75" y1="191.76" x2="208.25" y2="191.76" stroke="#000" stroke-width="0.80"/>
<line x1="204.75" y1="167.34" x2="208.25" y2="167.34" stroke="#000" stroke-width="0.80"/>
<line x1="204.75" y1="142.92" x2="208.25" y2="142.92" stroke="#000" stroke-width="0.80"/>
<rect x="369.00" y="0.40" width="152.10" height="115.80" fill="none" stroke="#000" stroke-width="0.80"/>
<line x1="407.02" y1="116.20" x2="407.02" y2="112.70" stroke="#000" stroke-width="0.80"/>
<line x1="445.05" y1="116.20" x2="445.05" y2="112.70" stroke="#000" stroke-width="0.80"/>
<line x1="483.08" y1="116.20" x2="483.08" y2="112.70" stroke="#000" stroke-width="0.80"/>
<line x1="369.00" y1="103.50" x2="372.50" y2="103.50" stroke="#000" stroke-width="0.80"/>
<line x1="369.00" y1="80.30" x2="372.50" y2="80.30" stroke="#000" stroke-width="0.80"/>
<line x1="369.00" y1="57.10" x2="372.50" y2="57.10" stroke="#000" stroke-width="0.80"/>
<line x1="369.00" y1="33.90" x2="372.50" y2="33.90" stroke="#000" stroke-width="0.80"/>
<line x1="369.00" y1="10.70" x2="372.50" y2="10.70" stroke="#000" stroke-width="0.80"/>
<rect x="369.00" y="130.60" width="152.10" height="116.00" fill="none" stroke="#000" stroke-width="0.80"/>
<line x1="407.02" y1="246.60" x2="407.02" y2="243.10" stroke="#000" stroke-width="0.80"/>
<line x1="445.05" y1="246.60" x2="445.05" y2="243.10" stroke="#000" stroke-width="0.80"/>
<line x1="483.08" y1="246.60" x2="483.08" y2="243.10" stroke="#000" stroke-width="0.80"/>
<line x1="369.00" y1="240.60" x2="372.50" y2="240.60" stroke="#000" stroke-width="0.80"/>
<line x1="369.00" y1="216.18" x2="372.50" y2="216.18" stroke="#000" stroke-width="0.80"/>
<line x1="369.00" y1="191.76" x2="372.50" y2="191.76" stroke="#000" stroke-width="0.80"/>
<line x1="369.00" y1="167.34" x2="372.50" y2="167.34" stroke="#000" stroke-width="0.80"/>
<line x1="369.00" y1="142.92" x2="372.50" y2="142.92" stroke="#000" stroke-width="0.80"/>
<text x="36.6" y="14.50" text-anchor="end" font-family="Liberation Serif" font-size="10" fill="#000">1.0</text>
<text x="36.6" y="37.70" text-anchor="end" font-family="Liberation Serif" font-size="10" fill="#000">0.5</text>
<text x="36.6" y="60.90" text-anchor="end" font-family="Liberation Serif" font-size="10" fill="#000">0.0</text>
<text x="36.6" y="84.10" text-anchor="end" font-family="Liberation Serif" font-size="10" fill="#000"><tspan font-size="11">−</tspan>0.5</text>
<text x="36.6" y="107.30" text-anchor="end" font-family="Liberation Serif" font-size="10" fill="#000"><tspan font-size="11">−</tspan>1.0</text>
<text x="36.6" y="244.50" text-anchor="end" font-family="Liberation Serif" font-size="10" fill="#000">0</text>
<text x="36.6" y="220.08" text-anchor="end" font-family="Liberation Serif" font-size="10" fill="#000">2</text>
<text x="36.6" y="195.66" text-anchor="end" font-family="Liberation Serif" font-size="10" fill="#000">4</text>
<text x="36.6" y="171.24" text-anchor="end" font-family="Liberation Serif" font-size="10" fill="#000">6</text>
<text x="36.6" y="146.82" text-anchor="end" font-family="Liberation Serif" font-size="10" fill="#000">8</text>
<text x="40.70" y="258.6" text-anchor="middle" font-family="Liberation Serif" font-size="10" fill="#000">4</text>
<text x="78.74" y="258.6" text-anchor="middle" font-family="Liberation Serif" font-size="10" fill="#000">5</text>
<text x="116.77" y="258.6" text-anchor="middle" font-family="Liberation Serif" font-size="10" fill="#000">6</text>
<text x="154.81" y="258.6" text-anchor="middle" font-family="Liberation Serif" font-size="10" fill="#000">7</text>
<text x="192.85" y="258.6" text-anchor="middle" font-family="Liberation Serif" font-size="10" fill="#000">8</text>
<text x="204.75" y="258.6" text-anchor="middle" font-family="Liberation Serif" font-size="10" fill="#000">4</text>
<text x="242.78" y="258.6" text-anchor="middle" font-family="Liberation Serif" font-size="10" fill="#000">5</text>
<text x="280.80" y="258.6" text-anchor="middle" font-family="Liberation Serif" font-size="10" fill="#000">6</text>
<text x="318.83" y="258.6" text-anchor="middle" font-family="Liberation Serif" font-size="10" fill="#000">7</text>
<text x="356.85" y="258.6" text-anchor="middle" font-family="Liberation Serif" font-size="10" fill="#000">8</text>
<text x="369.00" y="258.6" text-anchor="middle" font-family="Liberation Serif" font-size="10" fill="#000">4</text>
<text x="407.02" y="258.6" text-anchor="middle" font-family="Liberation Serif" font-size="10" fill="#000">5</text>
<text x="445.05" y="258.6" text-anchor="middle" font-family="Liberation Serif" font-size="10" fill="#000">6</text>
<text x="483.08" y="258.6" text-anchor="middle" font-family="Liberation Serif" font-size="10" fill="#000">7</text>
<text x="521.10" y="258.6" text-anchor="middle" font-family="Liberation Serif" font-size="10" fill="#000">8</text>
<text x="243.4" y="271.8" textLength="73.6" lengthAdjust="spacingAndGlyphs" font-family="Liberation Serif" font-size="10.6">Frequency [GHz]</text>
<text x="52.65" y="11.05" font-family="Liberation Serif" font-size="10.8" style="stroke-width:0.05px"><tspan font-size="12.2">(</tspan><tspan dx="-0.45" font-weight="bold" style="stroke-width:0.25px">a1</tspan><tspan font-size="12.2">)</tspan></text>
<text x="52.65" y="141.40" font-family="Liberation Serif" font-size="10.8" style="stroke-width:0.05px"><tspan font-size="12.2">(</tspan><tspan dx="-0.45" font-weight="bold" style="stroke-width:0.25px">a2</tspan><tspan font-size="12.2">)</tspan></text>
<text x="216.70" y="11.05" font-family="Liberation Serif" font-size="10.8" style="stroke-width:0.05px"><tspan font-size="12.2">(</tspan><tspan dx="-0.45" font-weight="bold" style="stroke-width:0.25px">b1</tspan><tspan font-size="12.2">)</tspan></text>
<text x="216.70" y="141.40" font-family="Liberation Serif" font-size="10.8" style="stroke-width:0.05px"><tspan font-size="12.2">(</tspan><tspan dx="-0.45" font-weight="bold" style="stroke-width:0.25px">b2</tspan><tspan font-size="12.2">)</tspan></text>
<text x="380.95" y="11.05" font-family="Liberation Serif" font-size="10.8" style="stroke-width:0.05px"><tspan font-size="12.2">(</tspan><tspan dx="-0.45" font-weight="bold" style="stroke-width:0.25px">c1</tspan><tspan font-size="12.2">)</tspan></text>
<text x="380.95" y="141.40" font-family="Liberation Serif" font-size="10.8" style="stroke-width:0.05px"><tspan font-size="12.2">(</tspan><tspan dx="-0.45" font-weight="bold" style="stroke-width:0.25px">c2</tspan><tspan font-size="12.2">)</tspan></text>
<rect x="530.50" y="0.70" width="7.70" height="246.20" fill="url(#cbg)" stroke="#000" stroke-width="0.80"/>
<line x1="538.20" y1="246.90" x2="541.70" y2="246.90" stroke="#000" stroke-width="0.80"/>
<text x="545.9" y="250.60" font-family="Liberation Serif" font-size="10" fill="#000">0</text>
<line x1="538.20" y1="203.72" x2="541.70" y2="203.72" stroke="#000" stroke-width="0.80"/>
<text x="545.9" y="207.42" font-family="Liberation Serif" font-size="10" fill="#000">100</text>
<line x1="538.20" y1="160.54" x2="541.70" y2="160.54" stroke="#000" stroke-width="0.80"/>
<text x="545.9" y="164.24" font-family="Liberation Serif" font-size="10" fill="#000">200</text>
<line x1="538.20" y1="117.36" x2="541.70" y2="117.36" stroke="#000" stroke-width="0.80"/>
<text x="545.9" y="121.06" font-family="Liberation Serif" font-size="10" fill="#000">300</text>
<line x1="538.20" y1="74.18" x2="541.70" y2="74.18" stroke="#000" stroke-width="0.80"/>
<text x="545.9" y="77.88" font-family="Liberation Serif" font-size="10" fill="#000">400</text>
<line x1="538.20" y1="31.00" x2="541.70" y2="31.00" stroke="#000" stroke-width="0.80"/>
<text x="545.9" y="34.70" font-family="Liberation Serif" font-size="10" fill="#000">500</text>
<text transform="translate(573.2,158.7) rotate(-90)" textLength="65.9" lengthAdjust="spacingAndGlyphs" font-family="Liberation Serif" font-size="10" fill="#000">Applied ΔT [K]</text>
<g transform="translate(10.9,86.8) rotate(-90)">
<path d="M2.90 -9.60L0.30 -4.20L2.90 1.20" fill="none" stroke="#000" stroke-width="0.8"/>
<text x="3.40" y="-1.00" font-family="Liberation Serif" font-size="10" font-style="italic">I</text>
<text x="6.60" y="0.40" font-family="Liberation Serif" font-size="7" font-style="italic">z</text>
<path d="M11.00 -9.60L13.60 -4.20L11.00 1.20" fill="none" stroke="#000" stroke-width="0.8"/>
<text x="17.40" y="0.00" font-family="Liberation Serif" font-size="10">[10</text>
<text x="32.00" y="-6.00" font-family="Liberation Serif" font-size="9">−</text>
<text x="38.90" y="-5.10" font-family="Liberation Serif" font-size="7.4">8</text>
<text x="42.20" y="0.00" font-family="Liberation Serif" font-size="10" font-style="italic">V</text>
<text x="49.40" y="-5.10" font-family="Liberation Serif" font-size="7.4">2</text>
<text x="54.30" y="0.00" font-family="Liberation Serif" font-size="10">]</text>
</g>
<g transform="translate(24.9,216.6) rotate(-90)">
<path d="M3.10 -9.00L0.30 -3.75L3.10 1.50" fill="none" stroke="#000" stroke-width="0.8"/>
<text x="3.00" y="0.00" font-family="Liberation Serif" font-size="10" font-style="italic">q</text>
<text x="8.30" y="1.20" font-family="Liberation Serif" font-size="7">1</text>
<path d="M12.90 -9.00L15.60 -3.75L12.90 1.50" fill="none" stroke="#000" stroke-width="0.8"/>
<text x="19.90" y="0.00" font-family="Liberation Serif" font-size="10">[10</text>
<text x="34.40" y="-6.00" font-family="Liberation Serif" font-size="9">−</text>
<text x="40.30" y="-5.10" font-family="Liberation Serif" font-size="7.4">21</text>
<text x="48.60" y="0.00" font-family="Liberation Serif" font-size="10">J]</text>
</g>
</svg>
</body></html>
